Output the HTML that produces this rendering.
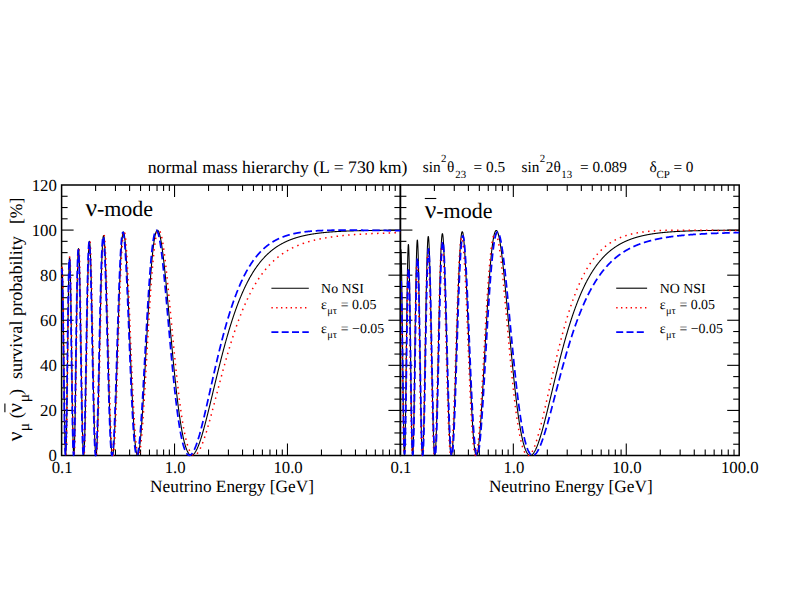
<!DOCTYPE html>
<html><head><meta charset="utf-8"><title>Survival probability</title>
<style>html,body{margin:0;padding:0;background:#fff}svg{display:block}text{font-family:"Liberation Serif",serif;fill:#000;text-rendering:geometricPrecision}</style></head>
<body><svg width="797" height="616" viewBox="0 0 797 616">
<rect width="797" height="616" fill="#fff"/>
<g stroke="#000" stroke-width="1.5"><rect x="61.6" y="185.0" width="338.79999999999995" height="270.5" fill="none"/><rect x="400.4" y="185.0" width="338.80000000000007" height="270.5" fill="none"/></g><g stroke="#000" stroke-width="1.1"><line x1="95.60" y1="455.50" x2="95.60" y2="449.50"/><line x1="95.60" y1="185.00" x2="95.60" y2="191.00"/><line x1="115.48" y1="455.50" x2="115.48" y2="449.50"/><line x1="115.48" y1="185.00" x2="115.48" y2="191.00"/><line x1="129.59" y1="455.50" x2="129.59" y2="449.50"/><line x1="129.59" y1="185.00" x2="129.59" y2="191.00"/><line x1="140.54" y1="455.50" x2="140.54" y2="449.50"/><line x1="140.54" y1="185.00" x2="140.54" y2="191.00"/><line x1="149.48" y1="455.50" x2="149.48" y2="449.50"/><line x1="149.48" y1="185.00" x2="149.48" y2="191.00"/><line x1="157.04" y1="455.50" x2="157.04" y2="449.50"/><line x1="157.04" y1="185.00" x2="157.04" y2="191.00"/><line x1="163.59" y1="455.50" x2="163.59" y2="449.50"/><line x1="163.59" y1="185.00" x2="163.59" y2="191.00"/><line x1="169.37" y1="455.50" x2="169.37" y2="449.50"/><line x1="169.37" y1="185.00" x2="169.37" y2="191.00"/><line x1="174.53" y1="455.50" x2="174.53" y2="443.50"/><line x1="174.53" y1="185.00" x2="174.53" y2="197.00"/><line x1="208.53" y1="455.50" x2="208.53" y2="449.50"/><line x1="208.53" y1="185.00" x2="208.53" y2="191.00"/><line x1="228.42" y1="455.50" x2="228.42" y2="449.50"/><line x1="228.42" y1="185.00" x2="228.42" y2="191.00"/><line x1="242.53" y1="455.50" x2="242.53" y2="449.50"/><line x1="242.53" y1="185.00" x2="242.53" y2="191.00"/><line x1="253.47" y1="455.50" x2="253.47" y2="449.50"/><line x1="253.47" y1="185.00" x2="253.47" y2="191.00"/><line x1="262.41" y1="455.50" x2="262.41" y2="449.50"/><line x1="262.41" y1="185.00" x2="262.41" y2="191.00"/><line x1="269.97" y1="455.50" x2="269.97" y2="449.50"/><line x1="269.97" y1="185.00" x2="269.97" y2="191.00"/><line x1="276.52" y1="455.50" x2="276.52" y2="449.50"/><line x1="276.52" y1="185.00" x2="276.52" y2="191.00"/><line x1="282.30" y1="455.50" x2="282.30" y2="449.50"/><line x1="282.30" y1="185.00" x2="282.30" y2="191.00"/><line x1="287.47" y1="455.50" x2="287.47" y2="443.50"/><line x1="287.47" y1="185.00" x2="287.47" y2="197.00"/><line x1="321.46" y1="455.50" x2="321.46" y2="449.50"/><line x1="321.46" y1="185.00" x2="321.46" y2="191.00"/><line x1="341.35" y1="455.50" x2="341.35" y2="449.50"/><line x1="341.35" y1="185.00" x2="341.35" y2="191.00"/><line x1="355.46" y1="455.50" x2="355.46" y2="449.50"/><line x1="355.46" y1="185.00" x2="355.46" y2="191.00"/><line x1="366.40" y1="455.50" x2="366.40" y2="449.50"/><line x1="366.40" y1="185.00" x2="366.40" y2="191.00"/><line x1="375.35" y1="455.50" x2="375.35" y2="449.50"/><line x1="375.35" y1="185.00" x2="375.35" y2="191.00"/><line x1="382.91" y1="455.50" x2="382.91" y2="449.50"/><line x1="382.91" y1="185.00" x2="382.91" y2="191.00"/><line x1="389.46" y1="455.50" x2="389.46" y2="449.50"/><line x1="389.46" y1="185.00" x2="389.46" y2="191.00"/><line x1="395.23" y1="455.50" x2="395.23" y2="449.50"/><line x1="395.23" y1="185.00" x2="395.23" y2="191.00"/><line x1="61.60" y1="444.23" x2="67.60" y2="444.23"/><line x1="400.40" y1="444.23" x2="394.40" y2="444.23"/><line x1="61.60" y1="432.96" x2="67.60" y2="432.96"/><line x1="400.40" y1="432.96" x2="394.40" y2="432.96"/><line x1="61.60" y1="421.69" x2="67.60" y2="421.69"/><line x1="400.40" y1="421.69" x2="394.40" y2="421.69"/><line x1="61.60" y1="410.42" x2="73.60" y2="410.42"/><line x1="400.40" y1="410.42" x2="388.40" y2="410.42"/><line x1="61.60" y1="399.15" x2="67.60" y2="399.15"/><line x1="400.40" y1="399.15" x2="394.40" y2="399.15"/><line x1="61.60" y1="387.88" x2="67.60" y2="387.88"/><line x1="400.40" y1="387.88" x2="394.40" y2="387.88"/><line x1="61.60" y1="376.60" x2="67.60" y2="376.60"/><line x1="400.40" y1="376.60" x2="394.40" y2="376.60"/><line x1="61.60" y1="365.33" x2="73.60" y2="365.33"/><line x1="400.40" y1="365.33" x2="388.40" y2="365.33"/><line x1="61.60" y1="354.06" x2="67.60" y2="354.06"/><line x1="400.40" y1="354.06" x2="394.40" y2="354.06"/><line x1="61.60" y1="342.79" x2="67.60" y2="342.79"/><line x1="400.40" y1="342.79" x2="394.40" y2="342.79"/><line x1="61.60" y1="331.52" x2="67.60" y2="331.52"/><line x1="400.40" y1="331.52" x2="394.40" y2="331.52"/><line x1="61.60" y1="320.25" x2="73.60" y2="320.25"/><line x1="400.40" y1="320.25" x2="388.40" y2="320.25"/><line x1="61.60" y1="308.98" x2="67.60" y2="308.98"/><line x1="400.40" y1="308.98" x2="394.40" y2="308.98"/><line x1="61.60" y1="297.71" x2="67.60" y2="297.71"/><line x1="400.40" y1="297.71" x2="394.40" y2="297.71"/><line x1="61.60" y1="286.44" x2="67.60" y2="286.44"/><line x1="400.40" y1="286.44" x2="394.40" y2="286.44"/><line x1="61.60" y1="275.17" x2="73.60" y2="275.17"/><line x1="400.40" y1="275.17" x2="388.40" y2="275.17"/><line x1="61.60" y1="263.90" x2="67.60" y2="263.90"/><line x1="400.40" y1="263.90" x2="394.40" y2="263.90"/><line x1="61.60" y1="252.62" x2="67.60" y2="252.62"/><line x1="400.40" y1="252.62" x2="394.40" y2="252.62"/><line x1="61.60" y1="241.35" x2="67.60" y2="241.35"/><line x1="400.40" y1="241.35" x2="394.40" y2="241.35"/><line x1="61.60" y1="230.08" x2="73.60" y2="230.08"/><line x1="400.40" y1="230.08" x2="388.40" y2="230.08"/><line x1="61.60" y1="218.81" x2="67.60" y2="218.81"/><line x1="400.40" y1="218.81" x2="394.40" y2="218.81"/><line x1="61.60" y1="207.54" x2="67.60" y2="207.54"/><line x1="400.40" y1="207.54" x2="394.40" y2="207.54"/><line x1="61.60" y1="196.27" x2="67.60" y2="196.27"/><line x1="400.40" y1="196.27" x2="394.40" y2="196.27"/><line x1="434.40" y1="455.50" x2="434.40" y2="449.50"/><line x1="434.40" y1="185.00" x2="434.40" y2="191.00"/><line x1="454.28" y1="455.50" x2="454.28" y2="449.50"/><line x1="454.28" y1="185.00" x2="454.28" y2="191.00"/><line x1="468.39" y1="455.50" x2="468.39" y2="449.50"/><line x1="468.39" y1="185.00" x2="468.39" y2="191.00"/><line x1="479.34" y1="455.50" x2="479.34" y2="449.50"/><line x1="479.34" y1="185.00" x2="479.34" y2="191.00"/><line x1="488.28" y1="455.50" x2="488.28" y2="449.50"/><line x1="488.28" y1="185.00" x2="488.28" y2="191.00"/><line x1="495.84" y1="455.50" x2="495.84" y2="449.50"/><line x1="495.84" y1="185.00" x2="495.84" y2="191.00"/><line x1="502.39" y1="455.50" x2="502.39" y2="449.50"/><line x1="502.39" y1="185.00" x2="502.39" y2="191.00"/><line x1="508.17" y1="455.50" x2="508.17" y2="449.50"/><line x1="508.17" y1="185.00" x2="508.17" y2="191.00"/><line x1="513.33" y1="455.50" x2="513.33" y2="443.50"/><line x1="513.33" y1="185.00" x2="513.33" y2="197.00"/><line x1="547.33" y1="455.50" x2="547.33" y2="449.50"/><line x1="547.33" y1="185.00" x2="547.33" y2="191.00"/><line x1="567.22" y1="455.50" x2="567.22" y2="449.50"/><line x1="567.22" y1="185.00" x2="567.22" y2="191.00"/><line x1="581.33" y1="455.50" x2="581.33" y2="449.50"/><line x1="581.33" y1="185.00" x2="581.33" y2="191.00"/><line x1="592.27" y1="455.50" x2="592.27" y2="449.50"/><line x1="592.27" y1="185.00" x2="592.27" y2="191.00"/><line x1="601.21" y1="455.50" x2="601.21" y2="449.50"/><line x1="601.21" y1="185.00" x2="601.21" y2="191.00"/><line x1="608.77" y1="455.50" x2="608.77" y2="449.50"/><line x1="608.77" y1="185.00" x2="608.77" y2="191.00"/><line x1="615.32" y1="455.50" x2="615.32" y2="449.50"/><line x1="615.32" y1="185.00" x2="615.32" y2="191.00"/><line x1="621.10" y1="455.50" x2="621.10" y2="449.50"/><line x1="621.10" y1="185.00" x2="621.10" y2="191.00"/><line x1="626.27" y1="455.50" x2="626.27" y2="443.50"/><line x1="626.27" y1="185.00" x2="626.27" y2="197.00"/><line x1="660.26" y1="455.50" x2="660.26" y2="449.50"/><line x1="660.26" y1="185.00" x2="660.26" y2="191.00"/><line x1="680.15" y1="455.50" x2="680.15" y2="449.50"/><line x1="680.15" y1="185.00" x2="680.15" y2="191.00"/><line x1="694.26" y1="455.50" x2="694.26" y2="449.50"/><line x1="694.26" y1="185.00" x2="694.26" y2="191.00"/><line x1="705.20" y1="455.50" x2="705.20" y2="449.50"/><line x1="705.20" y1="185.00" x2="705.20" y2="191.00"/><line x1="714.15" y1="455.50" x2="714.15" y2="449.50"/><line x1="714.15" y1="185.00" x2="714.15" y2="191.00"/><line x1="721.71" y1="455.50" x2="721.71" y2="449.50"/><line x1="721.71" y1="185.00" x2="721.71" y2="191.00"/><line x1="728.26" y1="455.50" x2="728.26" y2="449.50"/><line x1="728.26" y1="185.00" x2="728.26" y2="191.00"/><line x1="734.03" y1="455.50" x2="734.03" y2="449.50"/><line x1="734.03" y1="185.00" x2="734.03" y2="191.00"/><line x1="400.40" y1="444.23" x2="406.40" y2="444.23"/><line x1="739.20" y1="444.23" x2="733.20" y2="444.23"/><line x1="400.40" y1="432.96" x2="406.40" y2="432.96"/><line x1="739.20" y1="432.96" x2="733.20" y2="432.96"/><line x1="400.40" y1="421.69" x2="406.40" y2="421.69"/><line x1="739.20" y1="421.69" x2="733.20" y2="421.69"/><line x1="400.40" y1="410.42" x2="412.40" y2="410.42"/><line x1="739.20" y1="410.42" x2="727.20" y2="410.42"/><line x1="400.40" y1="399.15" x2="406.40" y2="399.15"/><line x1="739.20" y1="399.15" x2="733.20" y2="399.15"/><line x1="400.40" y1="387.88" x2="406.40" y2="387.88"/><line x1="739.20" y1="387.88" x2="733.20" y2="387.88"/><line x1="400.40" y1="376.60" x2="406.40" y2="376.60"/><line x1="739.20" y1="376.60" x2="733.20" y2="376.60"/><line x1="400.40" y1="365.33" x2="412.40" y2="365.33"/><line x1="739.20" y1="365.33" x2="727.20" y2="365.33"/><line x1="400.40" y1="354.06" x2="406.40" y2="354.06"/><line x1="739.20" y1="354.06" x2="733.20" y2="354.06"/><line x1="400.40" y1="342.79" x2="406.40" y2="342.79"/><line x1="739.20" y1="342.79" x2="733.20" y2="342.79"/><line x1="400.40" y1="331.52" x2="406.40" y2="331.52"/><line x1="739.20" y1="331.52" x2="733.20" y2="331.52"/><line x1="400.40" y1="320.25" x2="412.40" y2="320.25"/><line x1="739.20" y1="320.25" x2="727.20" y2="320.25"/><line x1="400.40" y1="308.98" x2="406.40" y2="308.98"/><line x1="739.20" y1="308.98" x2="733.20" y2="308.98"/><line x1="400.40" y1="297.71" x2="406.40" y2="297.71"/><line x1="739.20" y1="297.71" x2="733.20" y2="297.71"/><line x1="400.40" y1="286.44" x2="406.40" y2="286.44"/><line x1="739.20" y1="286.44" x2="733.20" y2="286.44"/><line x1="400.40" y1="275.17" x2="412.40" y2="275.17"/><line x1="739.20" y1="275.17" x2="727.20" y2="275.17"/><line x1="400.40" y1="263.90" x2="406.40" y2="263.90"/><line x1="739.20" y1="263.90" x2="733.20" y2="263.90"/><line x1="400.40" y1="252.62" x2="406.40" y2="252.62"/><line x1="739.20" y1="252.62" x2="733.20" y2="252.62"/><line x1="400.40" y1="241.35" x2="406.40" y2="241.35"/><line x1="739.20" y1="241.35" x2="733.20" y2="241.35"/><line x1="400.40" y1="230.08" x2="412.40" y2="230.08"/><line x1="739.20" y1="230.08" x2="727.20" y2="230.08"/><line x1="400.40" y1="218.81" x2="406.40" y2="218.81"/><line x1="739.20" y1="218.81" x2="733.20" y2="218.81"/><line x1="400.40" y1="207.54" x2="406.40" y2="207.54"/><line x1="739.20" y1="207.54" x2="733.20" y2="207.54"/><line x1="400.40" y1="196.27" x2="406.40" y2="196.27"/><line x1="739.20" y1="196.27" x2="733.20" y2="196.27"/></g>
<text x="56.8" y="461.20" font-size="16.8" text-anchor="end">0</text><text x="56.8" y="416.12" font-size="16.8" text-anchor="end">20</text><text x="56.8" y="371.03" font-size="16.8" text-anchor="end">40</text><text x="56.8" y="325.95" font-size="16.8" text-anchor="end">60</text><text x="56.8" y="280.87" font-size="16.8" text-anchor="end">80</text><text x="56.8" y="235.78" font-size="16.8" text-anchor="end">100</text><text x="56.8" y="190.70" font-size="16.8" text-anchor="end">120</text><text x="62.20" y="473.3" font-size="16.8" text-anchor="middle">0.1</text><text x="175.13" y="473.3" font-size="16.8" text-anchor="middle">1.0</text><text x="288.07" y="473.3" font-size="16.8" text-anchor="middle">10.0</text><text x="401.00" y="473.3" font-size="16.8" text-anchor="middle">0.1</text><text x="513.93" y="473.3" font-size="16.8" text-anchor="middle">1.0</text><text x="626.87" y="473.3" font-size="16.8" text-anchor="middle">10.0</text><text x="739.80" y="473.3" font-size="16.8" text-anchor="middle">100.0</text><text x="232.00" y="492" font-size="17.3" text-anchor="middle">Neutrino Energy [GeV]</text><text x="570.80" y="492" font-size="17.3" text-anchor="middle">Neutrino Energy [GeV]</text><text x="147.7" y="173.1" font-size="17.7">normal mass hierarchy (L = 730 km)</text><text x="422.8" y="171.8" font-size="15.3">sin</text><text x="441.0" y="162.20000000000002" font-size="10.9">2</text><text x="447.1" y="171.8" font-size="15.3">θ</text><text x="455.2" y="178.4" font-size="10.9">23</text><text x="473.6" y="171.8" font-size="15.3">= 0.5</text><text x="521.6" y="171.8" font-size="15.3">sin</text><text x="539.8" y="162.20000000000002" font-size="10.9">2</text><text x="545.8" y="171.8" font-size="15.3">2θ</text><text x="561.2" y="178.4" font-size="10.9">13</text><text x="580.0" y="171.8" font-size="15.3">= 0.089</text><text x="649.6" y="171.8" font-size="15.3">δ</text><text x="656.6" y="178.4" font-size="10.9">CP</text><text x="673.4" y="171.8" font-size="15.3">= 0</text><text x="85.4" y="216" font-size="25.5">ν</text><text x="96.9" y="216" font-size="22">-mode</text><text x="424.8" y="217.9" font-size="25.5">ν</text><text x="436.2" y="217.9" font-size="22">-mode</text><line x1="424.8" y1="198.5" x2="436.3" y2="198.5" stroke="#000" stroke-width="1.1"/><line x1="271.4" y1="288.2" x2="308.8" y2="288.2" stroke="#000" stroke-width="1.1"/><line x1="271.4" y1="307.8" x2="308.8" y2="307.8" stroke="#f00" stroke-width="1.4" stroke-dasharray="1.4 3.4"/><line x1="271.4" y1="332.1" x2="308.8" y2="332.1" stroke="#00f" stroke-width="1.75" stroke-dasharray="7 3.3"/><text x="321.1" y="292.9" font-size="13.9">No NSI</text><text x="321.1" y="308.9" font-size="13.9">ε</text><text x="327.3" y="313.5" font-size="10.4">μτ</text><text x="340.8" y="308.9" font-size="13.9">= 0.05</text><text x="321.1" y="333.0" font-size="13.9">ε</text><text x="327.3" y="337.6" font-size="10.4">μτ</text><text x="340.8" y="333.0" font-size="13.9">= −0.05</text><line x1="616.2" y1="288.2" x2="647.1" y2="288.2" stroke="#000" stroke-width="1.1"/><line x1="616.2" y1="307.8" x2="647.1" y2="307.8" stroke="#f00" stroke-width="1.4" stroke-dasharray="1.4 3.4"/><line x1="616.2" y1="332.1" x2="647.1" y2="332.1" stroke="#00f" stroke-width="1.75" stroke-dasharray="7 3.3"/><text x="659.7" y="292.9" font-size="13.9">NO NSI</text><text x="659.7" y="308.9" font-size="13.9">ε</text><text x="665.9000000000001" y="313.5" font-size="10.4">μτ</text><text x="679.4000000000001" y="308.9" font-size="13.9">= 0.05</text><text x="659.7" y="333.0" font-size="13.9">ε</text><text x="665.9000000000001" y="337.6" font-size="10.4">μτ</text><text x="679.4000000000001" y="333.0" font-size="13.9">= −0.05</text>
<g transform="translate(22.1,455.5) rotate(-90)"><text x="14.2" y="0" font-size="21.5">ν</text><text x="24.2" y="6.8" font-size="15.5">μ</text><text x="37.3" y="0" font-size="18.2">(</text><text x="42.8" y="0" font-size="21.5">ν</text><text x="53.2" y="6.8" font-size="15.5">μ</text><text x="60.4" y="0" font-size="18.2">)</text><line x1="43.3" y1="-17.2" x2="52" y2="-17.2" stroke="#000" stroke-width="1.1"/><text x="76.4" y="0" font-size="18.2">survival probability</text><text x="231.4" y="0" font-size="17.6">[%]</text></g>
<clipPath id="c1"><rect x="60.6" y="185.0" width="340.29999999999995" height="273.1"/></clipPath>
<clipPath id="c2"><rect x="401.0" y="185.0" width="340.30000000000007" height="273.1"/></clipPath>
<g clip-path="url(#c1)"><path d="M61.60,274.48 L61.74,270.80 L61.88,268.60 L62.02,267.89 L62.16,268.67 L62.31,270.93 L62.45,274.61 L62.59,279.65 L62.73,285.96 L62.87,293.43 L63.01,301.93 L63.15,311.34 L63.29,321.49 L63.44,332.23 L63.58,343.38 L63.72,354.78 L63.86,366.25 L64.00,377.63 L64.14,388.73 L64.28,399.40 L64.42,409.49 L64.57,418.84 L64.71,427.33 L64.85,434.84 L64.99,441.27 L65.13,446.52 L65.27,450.54 L65.41,453.27 L65.55,454.69 L65.70,454.77 L65.84,453.53 L65.98,450.99 L66.12,447.19 L66.26,442.19 L66.40,436.06 L66.54,428.90 L66.68,420.81 L66.83,411.88 L66.97,402.26 L67.11,392.06 L67.25,381.43 L67.39,370.50 L67.53,359.42 L67.67,348.32 L67.81,337.35 L67.96,326.64 L68.10,316.33 L68.24,306.54 L68.38,297.39 L68.52,288.98 L68.66,281.42 L68.80,274.79 L68.94,269.16 L69.08,264.60 L69.23,261.14 L69.37,258.83 L69.51,257.68 L69.65,257.70 L69.79,258.87 L69.93,261.17 L70.07,264.58 L70.21,269.04 L70.36,274.49 L70.50,280.86 L70.64,288.07 L70.78,296.04 L70.92,304.67 L71.06,313.85 L71.20,323.49 L71.34,333.46 L71.49,343.66 L71.63,353.98 L71.77,364.30 L71.91,374.50 L72.05,384.49 L72.19,394.14 L72.33,403.38 L72.47,412.08 L72.62,420.18 L72.76,427.59 L72.90,434.23 L73.04,440.05 L73.18,444.98 L73.32,448.99 L73.46,452.04 L73.60,454.10 L73.75,455.16 L73.89,455.22 L74.03,454.27 L74.17,452.35 L74.31,449.47 L74.45,445.67 L74.59,440.98 L74.73,435.47 L74.88,429.19 L75.02,422.19 L75.16,414.57 L75.30,406.38 L75.44,397.71 L75.58,388.64 L75.72,379.26 L75.86,369.66 L76.01,359.92 L76.15,350.14 L76.29,340.40 L76.43,330.79 L76.57,321.38 L76.71,312.28 L76.85,303.54 L76.99,295.25 L77.13,287.47 L77.28,280.26 L77.42,273.69 L77.56,267.80 L77.70,262.65 L77.84,258.26 L77.98,254.66 L78.12,251.89 L78.26,249.95 L78.41,248.86 L78.55,248.63 L78.69,249.23 L78.83,250.67 L78.97,252.92 L79.11,255.96 L79.25,259.76 L79.39,264.28 L79.54,269.48 L79.68,275.32 L79.82,281.74 L79.96,288.70 L80.10,296.12 L80.24,303.95 L80.38,312.13 L80.52,320.59 L80.67,329.27 L80.81,338.09 L80.95,347.00 L81.09,355.92 L81.23,364.78 L81.37,373.53 L81.51,382.10 L81.65,390.43 L81.80,398.46 L81.94,406.13 L82.08,413.39 L82.22,420.20 L82.36,426.50 L82.50,432.26 L82.64,437.45 L82.78,442.02 L82.93,445.96 L83.07,449.23 L83.21,451.83 L83.35,453.74 L83.49,454.95 L83.63,455.46 L83.77,455.27 L83.91,454.39 L84.05,452.82 L84.20,450.59 L84.34,447.71 L84.48,444.20 L84.62,440.10 L84.76,435.43 L84.90,430.23 L85.04,424.53 L85.18,418.38 L85.33,411.81 L85.47,404.86 L85.61,397.59 L85.75,390.05 L85.89,382.27 L86.03,374.30 L86.17,366.21 L86.31,358.03 L86.46,349.81 L86.60,341.61 L86.74,333.47 L86.88,325.44 L87.02,317.56 L87.16,309.89 L87.30,302.45 L87.44,295.29 L87.59,288.46 L87.73,281.97 L87.87,275.88 L88.01,270.21 L88.15,264.99 L88.29,260.24 L88.43,255.98 L88.57,252.24 L88.72,249.03 L88.86,246.36 L89.00,244.25 L89.14,242.70 L89.28,241.71 L89.42,241.28 L89.56,241.42 L89.70,242.11 L89.85,243.35 L89.99,245.13 L90.13,247.44 L90.27,250.25 L90.41,253.55 L90.55,257.31 L90.69,261.53 L90.83,266.16 L90.97,271.19 L91.12,276.59 L91.26,282.32 L91.40,288.36 L91.54,294.67 L91.68,301.23 L91.82,307.99 L91.96,314.93 L92.10,322.00 L92.25,329.18 L92.39,336.43 L92.53,343.72 L92.67,351.01 L92.81,358.26 L92.95,365.45 L93.09,372.55 L93.23,379.51 L93.38,386.32 L93.52,392.93 L93.66,399.33 L93.80,405.49 L93.94,411.37 L94.08,416.97 L94.22,422.25 L94.36,427.19 L94.51,431.78 L94.65,436.00 L94.79,439.84 L94.93,443.27 L95.07,446.30 L95.21,448.90 L95.35,451.08 L95.49,452.83 L95.64,454.14 L95.78,455.01 L95.92,455.44 L96.06,455.44 L96.20,455.00 L96.34,454.13 L96.48,452.84 L96.62,451.14 L96.77,449.04 L96.91,446.54 L97.05,443.66 L97.19,440.42 L97.33,436.83 L97.47,432.91 L97.61,428.66 L97.75,424.13 L97.89,419.31 L98.04,414.23 L98.18,408.92 L98.32,403.39 L98.46,397.67 L98.60,391.78 L98.74,385.74 L98.88,379.57 L99.02,373.29 L99.17,366.94 L99.31,360.53 L99.45,354.09 L99.59,347.63 L99.73,341.19 L99.87,334.77 L100.01,328.42 L100.15,322.13 L100.30,315.95 L100.44,309.88 L100.58,303.95 L100.72,298.17 L100.86,292.56 L101.00,287.15 L101.14,281.94 L101.28,276.95 L101.43,272.19 L101.57,267.68 L101.71,263.44 L101.85,259.46 L101.99,255.77 L102.13,252.37 L102.27,249.27 L102.41,246.47 L102.56,243.99 L102.70,241.83 L102.84,239.99 L102.98,238.47 L103.12,237.28 L103.26,236.42 L103.40,235.89 L103.54,235.68 L103.69,235.80 L103.83,236.23 L103.97,236.99 L104.11,238.05 L104.25,239.42 L104.39,241.09 L104.53,243.06 L104.67,245.31 L104.82,247.83 L104.96,250.62 L105.10,253.67 L105.24,256.96 L105.38,260.49 L105.52,264.24 L105.66,268.20 L105.80,272.36 L105.94,276.71 L106.09,281.22 L106.23,285.90 L106.37,290.71 L106.51,295.66 L106.65,300.73 L106.79,305.90 L106.93,311.15 L107.07,316.48 L107.22,321.87 L107.36,327.31 L107.50,332.77 L107.64,338.25 L107.78,343.74 L107.92,349.21 L108.06,354.66 L108.20,360.07 L108.35,365.43 L108.49,370.73 L108.63,375.95 L108.77,381.09 L108.91,386.12 L109.05,391.05 L109.19,395.85 L109.33,400.52 L109.48,405.05 L109.62,409.43 L109.76,413.65 L109.90,417.70 L110.04,421.58 L110.18,425.27 L110.32,428.77 L110.46,432.07 L110.61,435.17 L110.75,438.07 L110.89,440.75 L111.03,443.22 L111.17,445.46 L111.31,447.48 L111.45,449.28 L111.59,450.85 L111.74,452.19 L111.88,453.30 L112.02,454.18 L112.16,454.82 L112.30,455.24 L112.44,455.43 L112.58,455.39 L112.72,455.13 L112.86,454.64 L113.01,453.93 L113.15,453.01 L113.29,451.87 L113.43,450.52 L113.57,448.97 L113.71,447.21 L113.85,445.27 L113.99,443.13 L114.14,440.81 L114.28,438.31 L114.42,435.63 L114.56,432.80 L114.70,429.80 L114.84,426.65 L114.98,423.36 L115.12,419.93 L115.27,416.38 L115.41,412.69 L115.55,408.90 L115.69,405.00 L115.83,401.00 L115.97,396.91 L116.11,392.74 L116.25,388.49 L116.40,384.17 L116.54,379.80 L116.68,375.38 L116.82,370.92 L116.96,366.42 L117.10,361.90 L117.24,357.36 L117.38,352.81 L117.53,348.25 L117.67,343.70 L117.81,339.17 L117.95,334.65 L118.09,330.17 L118.23,325.71 L118.37,321.30 L118.51,316.94 L118.66,312.63 L118.80,308.39 L118.94,304.21 L119.08,300.10 L119.22,296.08 L119.36,292.14 L119.50,288.29 L119.64,284.54 L119.78,280.89 L119.93,277.34 L120.07,273.90 L120.21,270.58 L120.35,267.38 L120.49,264.30 L120.63,261.34 L120.77,258.51 L120.91,255.82 L121.06,253.26 L121.20,250.84 L121.34,248.55 L121.48,246.41 L121.62,244.42 L121.76,242.56 L121.90,240.86 L122.04,239.30 L122.19,237.89 L122.33,236.64 L122.47,235.53 L122.61,234.57 L122.75,233.76 L122.89,233.10 L123.03,232.60 L123.17,232.24 L123.32,232.03 L123.46,231.96 L123.60,232.04 L123.74,232.27 L123.88,232.64 L124.02,233.16 L124.16,233.81 L124.30,234.60 L124.45,235.52 L124.59,236.58 L124.73,237.77 L124.87,239.09 L125.01,240.53 L125.15,242.09 L125.29,243.78 L125.43,245.58 L125.58,247.49 L125.72,249.52 L125.86,251.65 L126.00,253.88 L126.14,256.21 L126.28,258.64 L126.42,261.16 L126.56,263.77 L126.70,266.47 L126.85,269.24 L126.99,272.09 L127.13,275.02 L127.27,278.01 L127.41,281.07 L127.55,284.19 L127.69,287.36 L127.83,290.59 L127.98,293.87 L128.12,297.19 L128.26,300.56 L128.40,303.96 L128.54,307.39 L128.68,310.85 L128.82,314.34 L128.96,317.85 L129.11,321.37 L129.25,324.91 L129.39,328.46 L129.53,332.01 L129.67,335.56 L129.81,339.11 L129.95,342.66 L130.09,346.20 L130.24,349.72 L130.38,353.23 L130.52,356.72 L130.66,360.19 L130.80,363.63 L130.94,367.04 L131.08,370.42 L131.22,373.77 L131.37,377.07 L131.51,380.34 L131.65,383.56 L131.79,386.73 L131.93,389.86 L132.07,392.93 L132.21,395.95 L132.35,398.91 L132.50,401.81 L132.64,404.66 L132.78,407.44 L132.92,410.15 L133.06,412.80 L133.20,415.38 L133.34,417.89 L133.48,420.32 L133.63,422.68 L133.77,424.97 L133.91,427.18 L134.05,429.32 L134.19,431.37 L134.33,433.34 L134.47,435.24 L134.61,437.05 L134.75,438.78 L134.90,440.42 L135.04,441.98 L135.18,443.46 L135.32,444.85 L135.46,446.15 L135.60,447.37 L135.74,448.50 L135.88,449.55 L136.03,450.51 L136.17,451.38 L136.31,452.16 L136.45,452.86 L136.59,453.48 L136.73,454.00 L136.87,454.44 L137.01,454.80 L137.16,455.07 L137.30,455.26 L137.44,455.36 L137.58,455.38 L137.72,455.32 L137.86,455.17 L138.00,454.95 L138.14,454.64 L138.29,454.25 L138.43,453.79 L138.57,453.25 L138.71,452.63 L138.85,451.94 L138.99,451.18 L139.13,450.34 L139.27,449.43 L139.42,448.45 L139.56,447.40 L139.70,446.28 L139.84,445.10 L139.98,443.85 L140.12,442.54 L140.26,441.16 L140.40,439.73 L140.55,438.24 L140.69,436.68 L140.83,435.08 L140.97,433.41 L141.11,431.70 L141.25,429.93 L141.39,428.11 L141.53,426.25 L141.67,424.33 L141.82,422.38 L141.96,420.38 L142.10,418.33 L142.24,416.25 L142.38,414.13 L142.52,411.97 L142.66,409.78 L142.80,407.55 L142.95,405.29 L143.09,403.00 L143.23,400.68 L143.37,398.34 L143.51,395.97 L143.65,393.57 L143.79,391.15 L143.93,388.72 L144.08,386.26 L144.22,383.78 L144.36,381.29 L144.50,378.79 L144.64,376.27 L144.78,373.74 L144.92,371.21 L145.06,368.66 L145.21,366.11 L145.35,363.55 L145.49,360.99 L145.63,358.42 L145.77,355.86 L145.91,353.29 L146.05,350.73 L146.19,348.17 L146.34,345.62 L146.48,343.07 L146.62,340.53 L146.76,337.99 L146.90,335.47 L147.04,332.96 L147.18,330.46 L147.32,327.97 L147.47,325.49 L147.61,323.04 L147.75,320.60 L147.89,318.17 L148.03,315.77 L148.17,313.39 L148.31,311.02 L148.45,308.68 L148.59,306.36 L148.74,304.07 L148.88,301.80 L149.02,299.55 L149.16,297.33 L149.30,295.14 L149.44,292.98 L149.58,290.84 L149.72,288.74 L149.87,286.66 L150.01,284.62 L150.15,282.60 L150.29,280.62 L150.43,278.68 L150.57,276.76 L150.71,274.88 L150.85,273.04 L151.00,271.23 L151.14,269.45 L151.28,267.71 L151.42,266.01 L151.56,264.35 L151.70,262.72 L151.84,261.13 L151.98,259.58 L152.13,258.06 L152.27,256.59 L152.41,255.15 L152.55,253.76 L152.69,252.40 L152.83,251.08 L152.97,249.80 L153.11,248.57 L153.26,247.37 L153.40,246.21 L153.54,245.10 L153.68,244.02 L153.82,242.99 L153.96,241.99 L154.10,241.04 L154.24,240.13 L154.39,239.26 L154.53,238.42 L154.67,237.63 L154.81,236.89 L154.95,236.18 L155.09,235.51 L155.23,234.88 L155.37,234.29 L155.51,233.75 L155.66,233.24 L155.80,232.77 L155.94,232.35 L156.08,231.96 L156.22,231.61 L156.36,231.30 L156.50,231.03 L156.64,230.80 L156.79,230.61 L156.93,230.45 L157.07,230.34 L157.21,230.26 L157.35,230.22 L157.49,230.21 L157.63,230.25 L157.77,230.31 L157.92,230.42 L158.06,230.56 L158.20,230.73 L158.34,230.94 L158.48,231.19 L158.62,231.47 L158.76,231.78 L158.90,232.13 L159.05,232.51 L159.19,232.92 L159.33,233.37 L159.47,233.84 L159.61,234.35 L159.75,234.89 L159.89,235.46 L160.03,236.06 L160.18,236.69 L160.32,237.35 L160.46,238.04 L160.60,238.75 L160.74,239.50 L160.88,240.27 L161.02,241.06 L161.16,241.89 L161.31,242.74 L161.45,243.61 L161.59,244.51 L161.73,245.44 L161.87,246.39 L162.01,247.36 L162.15,248.36 L162.29,249.38 L162.44,250.42 L162.58,251.48 L162.72,252.56 L162.86,253.67 L163.00,254.79 L163.14,255.93 L163.28,257.10 L163.42,258.28 L163.56,259.48 L163.71,260.70 L163.85,261.93 L163.99,263.18 L164.13,264.45 L164.27,265.74 L164.41,267.04 L164.55,268.35 L164.69,269.68 L164.84,271.02 L164.98,272.38 L165.12,273.75 L165.26,275.13 L165.40,276.52 L165.54,277.93 L165.68,279.34 L165.82,280.77 L165.97,282.21 L166.11,283.66 L166.25,285.11 L166.39,286.58 L166.53,288.06 L166.67,289.54 L166.81,291.03 L166.95,292.53 L167.10,294.03 L167.24,295.54 L167.38,297.06 L167.52,298.58 L167.66,300.11 L167.80,301.64 L167.94,303.18 L168.08,304.72 L168.23,306.26 L168.37,307.81 L168.51,309.36 L168.65,310.91 L168.79,312.47 L168.93,314.03 L169.07,315.59 L169.21,317.14 L169.36,318.70 L169.50,320.27 L169.64,321.83 L169.78,323.39 L169.92,324.95 L170.06,326.50 L170.20,328.06 L170.34,329.62 L170.48,331.17 L170.63,332.72 L170.77,334.27 L170.91,335.82 L171.05,337.36 L171.19,338.90 L171.33,340.44 L171.47,341.97 L171.61,343.50 L171.76,345.02 L171.90,346.54 L172.04,348.05 L172.18,349.56 L172.32,351.06 L172.46,352.56 L172.60,354.05 L172.74,355.53 L172.89,357.01 L173.03,358.48 L173.17,359.94 L173.31,361.40 L173.45,362.85 L173.59,364.29 L173.73,365.73 L173.87,367.15 L174.02,368.57 L174.16,369.98 L174.30,371.38 L174.44,372.77 L174.58,374.16 L174.72,375.53 L174.86,376.90 L175.00,378.25 L175.15,379.60 L175.29,380.94 L175.43,382.26 L175.57,383.58 L175.71,384.89 L175.85,386.18 L175.99,387.47 L176.13,388.74 L176.28,390.01 L176.42,391.26 L176.56,392.50 L176.70,393.73 L176.84,394.96 L176.98,396.16 L177.12,397.36 L177.26,398.55 L177.40,399.72 L177.55,400.89 L177.69,402.04 L177.83,403.18 L177.97,404.31 L178.11,405.42 L178.25,406.53 L178.39,407.62 L178.53,408.70 L178.68,409.77 L178.82,410.82 L178.96,411.86 L179.10,412.89 L179.24,413.91 L179.38,414.92 L179.52,415.91 L179.66,416.89 L179.81,417.86 L179.95,418.81 L180.09,419.76 L180.23,420.69 L180.37,421.60 L180.51,422.51 L180.65,423.40 L180.79,424.28 L180.94,425.14 L181.08,426.00 L181.22,426.84 L181.36,427.66 L181.50,428.48 L181.64,429.28 L181.78,430.07 L181.92,430.85 L182.07,431.61 L182.21,432.36 L182.35,433.10 L182.49,433.82 L182.63,434.53 L182.77,435.23 L182.91,435.92 L183.05,436.59 L183.20,437.25 L183.34,437.90 L183.48,438.54 L183.62,439.16 L183.76,439.77 L183.90,440.37 L184.04,440.95 L184.18,441.52 L184.32,442.08 L184.47,442.63 L184.61,443.17 L184.75,443.69 L184.89,444.20 L185.03,444.70 L185.17,445.18 L185.31,445.66 L185.45,446.12 L185.60,446.57 L185.74,447.01 L185.88,447.43 L186.02,447.84 L186.16,448.25 L186.30,448.64 L186.44,449.01 L186.58,449.38 L186.73,449.73 L186.87,450.08 L187.01,450.41 L187.15,450.73 L187.29,451.04 L187.43,451.33 L187.57,451.62 L187.71,451.89 L187.86,452.16 L188.00,452.41 L188.14,452.65 L188.28,452.88 L188.42,453.10 L188.56,453.31 L188.70,453.50 L188.84,453.69 L188.99,453.87 L189.13,454.03 L189.27,454.19 L189.41,454.33 L189.55,454.47 L189.69,454.59 L189.83,454.71 L189.97,454.81 L190.12,454.90 L190.26,454.99 L190.40,455.06 L190.54,455.13 L190.68,455.18 L190.82,455.23 L190.96,455.26 L191.10,455.29 L191.25,455.31 L191.39,455.31 L191.53,455.31 L191.67,455.30 L191.81,455.28 L191.95,455.25 L192.09,455.21 L192.23,455.16 L192.37,455.11 L192.52,455.04 L192.66,454.97 L192.80,454.89 L192.94,454.80 L193.08,454.70 L193.22,454.60 L193.36,454.48 L193.50,454.36 L193.65,454.23 L193.79,454.09 L193.93,453.94 L194.07,453.79 L194.21,453.62 L194.35,453.46 L194.49,453.28 L194.63,453.09 L194.78,452.90 L194.92,452.70 L195.06,452.49 L195.20,452.28 L195.34,452.06 L195.48,451.83 L195.62,451.60 L195.76,451.35 L195.91,451.11 L196.05,450.85 L196.19,450.59 L196.33,450.32 L196.47,450.05 L196.61,449.77 L196.75,449.48 L196.89,449.19 L197.04,448.89 L197.18,448.58 L197.32,448.27 L197.46,447.95 L197.60,447.63 L197.74,447.30 L197.88,446.96 L198.02,446.62 L198.17,446.28 L198.31,445.93 L198.45,445.57 L198.59,445.21 L198.73,444.84 L198.87,444.47 L199.01,444.09 L199.15,443.71 L199.29,443.32 L199.44,442.93 L199.58,442.53 L199.72,442.13 L199.86,441.73 L200.00,441.31 L200.14,440.90 L200.28,440.48 L200.42,440.06 L200.57,439.63 L200.71,439.19 L200.85,438.76 L200.99,438.32 L201.13,437.87 L201.27,437.42 L201.41,436.97 L201.55,436.51 L201.70,436.05 L201.84,435.59 L201.98,435.12 L202.12,434.65 L202.26,434.18 L202.40,433.70 L202.54,433.22 L202.68,432.73 L202.83,432.24 L202.97,431.75 L203.11,431.26 L203.25,430.76 L203.39,430.26 L203.53,429.76 L203.67,429.25 L203.81,428.74 L203.96,428.23 L204.10,427.71 L204.24,427.20 L204.38,426.68 L204.52,426.15 L204.66,425.63 L204.80,425.10 L204.94,424.57 L205.09,424.04 L205.23,423.51 L205.37,422.97 L205.51,422.43 L205.65,421.89 L205.79,421.35 L205.93,420.80 L206.07,420.25 L206.21,419.70 L206.36,419.15 L206.50,418.60 L206.64,418.05 L206.78,417.49 L206.92,416.93 L207.06,416.37 L207.20,415.81 L207.34,415.25 L207.49,414.69 L207.63,414.12 L207.77,413.55 L207.91,412.99 L208.05,412.42 L208.19,411.85 L208.33,411.27 L208.47,410.70 L208.62,410.13 L208.76,409.55 L208.90,408.97 L209.04,408.40 L209.18,407.82 L209.32,407.24 L209.46,406.66 L209.60,406.08 L209.75,405.50 L209.89,404.91 L210.03,404.33 L210.17,403.75 L210.31,403.16 L210.45,402.58 L210.59,401.99 L210.73,401.41 L210.88,400.82 L211.02,400.23 L211.16,399.64 L211.30,399.06 L211.44,398.47 L211.58,397.88 L211.72,397.29 L211.86,396.70 L212.01,396.11 L212.15,395.52 L212.29,394.93 L212.43,394.34 L212.57,393.75 L212.71,393.16 L212.85,392.57 L212.99,391.98 L213.13,391.39 L213.28,390.80 L213.42,390.21 L213.56,389.62 L213.70,389.03 L213.84,388.44 L213.98,387.85 L214.12,387.26 L214.26,386.67 L214.41,386.09 L214.55,385.50 L214.69,384.91 L214.83,384.32 L214.97,383.74 L215.11,383.15 L215.25,382.56 L215.39,381.98 L215.54,381.39 L215.68,380.81 L215.82,380.22 L215.96,379.64 L216.10,379.05 L216.24,378.47 L216.38,377.89 L216.52,377.31 L216.67,376.73 L216.81,376.15 L216.95,375.57 L217.09,374.99 L217.23,374.41 L217.37,373.83 L217.51,373.26 L217.65,372.68 L217.80,372.11 L217.94,371.53 L218.08,370.96 L218.22,370.39 L218.36,369.81 L218.50,369.24 L218.64,368.67 L218.78,368.11 L218.93,367.54 L219.07,366.97 L219.21,366.41 L219.35,365.84 L219.49,365.28 L219.63,364.71 L219.77,364.15 L219.91,363.59 L220.06,363.03 L220.20,362.47 L220.34,361.92 L220.48,361.36 L220.62,360.81 L220.76,360.25 L220.90,359.70 L221.04,359.15 L221.18,358.60 L221.33,358.05 L221.47,357.50 L221.61,356.95 L221.75,356.41 L221.89,355.86 L222.03,355.32 L222.17,354.78 L222.31,354.24 L222.46,353.70 L222.60,353.16 L222.74,352.62 L222.88,352.09 L223.02,351.56 L223.16,351.02 L223.30,350.49 L223.44,349.96 L223.59,349.43 L223.73,348.91 L223.87,348.38 L224.01,347.86 L224.15,347.33 L224.29,346.81 L224.43,346.29 L224.57,345.77 L224.72,345.25 L224.86,344.74 L225.00,344.22 L225.14,343.71 L225.28,343.20 L225.42,342.69 L225.56,342.18 L225.70,341.67 L225.85,341.17 L225.99,340.66 L226.13,340.16 L226.27,339.66 L226.41,339.16 L226.55,338.66 L226.69,338.16 L226.83,337.67 L226.98,337.18 L227.12,336.68 L227.26,336.19 L227.40,335.70 L227.54,335.22 L227.68,334.73 L227.82,334.25 L227.96,333.76 L228.10,333.28 L228.25,332.80 L228.39,332.32 L228.53,331.85 L228.67,331.37 L228.81,330.90 L228.95,330.43 L229.09,329.96 L229.23,329.49 L229.38,329.02 L229.52,328.55 L229.66,328.09 L229.80,327.63 L229.94,327.17 L230.08,326.71 L230.22,326.25 L230.36,325.79 L230.51,325.34 L230.65,324.89 L230.79,324.43 L230.93,323.99 L231.07,323.54 L231.21,323.09 L231.35,322.65 L231.49,322.20 L231.64,321.76 L231.78,321.32 L231.92,320.88 L232.06,320.44 L232.20,320.01 L232.34,319.58 L232.48,319.14 L232.62,318.71 L232.77,318.28 L232.91,317.86 L233.05,317.43 L233.19,317.01 L233.33,316.58 L233.47,316.16 L233.61,315.74 L233.75,315.33 L233.90,314.91 L234.04,314.50 L234.18,314.08 L234.32,313.67 L234.46,313.26 L234.60,312.85 L234.74,312.45 L234.88,312.04 L235.02,311.64 L235.17,311.24 L235.31,310.84 L235.45,310.44 L235.59,310.04 L235.73,309.65 L235.87,309.25 L236.01,308.86 L236.15,308.47 L236.30,308.08 L236.44,307.69 L236.58,307.31 L236.72,306.92 L236.86,306.54 L237.00,306.16 L237.14,305.78 L237.28,305.40 L237.43,305.02 L237.57,304.65 L237.71,304.28 L237.85,303.90 L237.99,303.53 L238.13,303.16 L238.27,302.80 L238.41,302.43 L238.56,302.07 L238.70,301.70 L238.84,301.34 L238.98,300.98 L239.12,300.63 L239.26,300.27 L239.40,299.91 L239.54,299.56 L239.69,299.21 L239.83,298.86 L239.97,298.51 L240.11,298.16 L240.25,297.82 L240.39,297.47 L240.53,297.13 L240.67,296.79 L240.82,296.45 L240.96,296.11 L241.10,295.77 L241.24,295.43 L241.38,295.10 L241.52,294.77 L241.66,294.44 L241.80,294.11 L241.94,293.78 L242.09,293.45 L242.23,293.13 L242.37,292.80 L242.51,292.48 L242.65,292.16 L242.79,291.84 L242.93,291.52 L243.07,291.20 L243.22,290.89 L243.36,290.57 L243.50,290.26 L243.64,289.95 L243.78,289.64 L243.92,289.33 L244.06,289.03 L244.20,288.72 L244.35,288.42 L244.49,288.11 L244.63,287.81 L244.77,287.51 L244.91,287.21 L245.05,286.92 L245.19,286.62 L245.33,286.33 L245.48,286.03 L245.62,285.74 L245.76,285.45 L245.90,285.16 L246.04,284.87 L246.18,284.59 L246.32,284.30 L246.46,284.02 L246.61,283.74 L246.75,283.46 L246.89,283.18 L247.03,282.90 L247.17,282.62 L247.31,282.34 L247.45,282.07 L247.59,281.80 L247.74,281.52 L247.88,281.25 L248.02,280.98 L248.16,280.72 L248.30,280.45 L248.44,280.18 L248.58,279.92 L248.72,279.66 L248.87,279.39 L249.01,279.13 L249.15,278.87 L249.29,278.62 L249.43,278.36 L249.57,278.10 L249.71,277.85 L249.85,277.60 L249.99,277.34 L250.14,277.09 L250.28,276.84 L250.42,276.60 L250.56,276.35 L250.70,276.10 L250.84,275.86 L250.98,275.61 L251.12,275.37 L251.27,275.13 L251.41,274.89 L251.55,274.65 L251.69,274.41 L251.83,274.18 L251.97,273.94 L252.11,273.71 L252.25,273.48 L252.40,273.24 L252.54,273.01 L252.68,272.78 L252.82,272.56 L252.96,272.33 L253.10,272.10 L253.24,271.88 L253.38,271.65 L253.53,271.43 L253.67,271.21 L253.81,270.99 L253.95,270.77 L254.09,270.55 L254.23,270.33 L254.37,270.11 L254.51,269.90 L254.66,269.69 L254.80,269.47 L254.94,269.26 L255.08,269.05 L255.22,268.84 L255.36,268.63 L255.50,268.42 L255.64,268.22 L255.79,268.01 L255.93,267.81 L256.07,267.60 L256.21,267.40 L256.35,267.20 L256.49,267.00 L256.63,266.80 L256.77,266.60 L256.91,266.40 L257.06,266.20 L257.20,266.01 L257.34,265.81 L257.48,265.62 L257.62,265.43 L257.76,265.24 L257.90,265.05 L258.04,264.86 L258.19,264.67 L258.33,264.48 L258.47,264.29 L258.61,264.11 L258.75,263.92 L258.89,263.74 L259.03,263.55 L259.17,263.37 L259.32,263.19 L259.46,263.01 L259.60,262.83 L259.74,262.65 L259.88,262.48 L260.02,262.30 L260.16,262.12 L260.30,261.95 L260.45,261.77 L260.59,261.60 L260.73,261.43 L260.87,261.26 L261.01,261.09 L261.15,260.92 L261.29,260.75 L261.43,260.58 L261.58,260.42 L261.72,260.25 L261.86,260.08 L262.00,259.92 L262.14,259.76 L262.28,259.59 L262.42,259.43 L262.56,259.27 L262.71,259.11 L262.85,258.95 L262.99,258.79 L263.13,258.64 L263.27,258.48 L263.41,258.32 L263.55,258.17 L263.69,258.01 L263.83,257.86 L263.98,257.71 L264.12,257.56 L264.26,257.41 L264.40,257.25 L264.54,257.11 L264.68,256.96 L264.82,256.81 L264.96,256.66 L265.11,256.52 L265.25,256.37 L265.39,256.22 L265.53,256.08 L265.67,255.94 L265.81,255.80 L265.95,255.65 L266.09,255.51 L266.24,255.37 L266.38,255.23 L266.52,255.09 L266.66,254.96 L266.80,254.82 L266.94,254.68 L267.08,254.55 L267.22,254.41 L267.37,254.28 L267.51,254.14 L267.65,254.01 L267.79,253.88 L267.93,253.75 L268.07,253.61 L268.21,253.48 L268.35,253.35 L268.50,253.23 L268.64,253.10 L268.78,252.97 L268.92,252.84 L269.06,252.72 L269.20,252.59 L269.34,252.47 L269.48,252.34 L269.63,252.22 L269.77,252.10 L269.91,251.97 L270.05,251.85 L270.19,251.73 L270.33,251.61 L270.47,251.49 L270.61,251.37 L270.75,251.25 L270.90,251.14 L271.04,251.02 L271.18,250.90 L271.32,250.79 L271.46,250.67 L271.60,250.56 L271.74,250.44 L271.88,250.33 L272.03,250.22 L272.17,250.11 L272.31,249.99 L272.45,249.88 L272.59,249.77 L272.73,249.66 L272.87,249.56 L273.01,249.45 L273.16,249.34 L273.30,249.23 L273.44,249.12 L273.58,249.02 L273.72,248.91 L273.86,248.81 L274.00,248.70 L274.14,248.60 L274.29,248.50 L274.43,248.39 L274.57,248.29 L274.71,248.19 L274.85,248.09 L274.99,247.99 L275.13,247.89 L275.27,247.79 L275.42,247.69 L275.56,247.59 L275.70,247.49 L275.84,247.40 L275.98,247.30 L276.12,247.20 L276.26,247.11 L276.40,247.01 L276.55,246.92 L276.69,246.82 L276.83,246.73 L276.97,246.64 L277.11,246.54 L277.25,246.45 L277.39,246.36 L277.53,246.27 L277.68,246.18 L277.82,246.09 L277.96,246.00 L278.10,245.91 L278.24,245.82 L278.38,245.73 L278.52,245.64 L278.66,245.56 L278.80,245.47 L278.95,245.38 L279.09,245.30 L279.23,245.21 L279.37,245.13 L279.51,245.04 L279.65,244.96 L279.79,244.88 L279.93,244.79 L280.08,244.71 L280.22,244.63 L280.36,244.55 L280.50,244.46 L280.64,244.38 L280.78,244.30 L280.92,244.22 L281.06,244.14 L281.21,244.07 L281.35,243.99 L281.49,243.91 L281.63,243.83 L281.77,243.75 L281.91,243.68 L282.05,243.60 L282.19,243.52 L282.34,243.45 L282.48,243.37 L282.62,243.30 L282.76,243.22 L282.90,243.15 L283.04,243.08 L283.18,243.00 L283.32,242.93 L283.47,242.86 L283.61,242.79 L283.75,242.71 L283.89,242.64 L284.03,242.57 L284.17,242.50 L284.31,242.43 L284.45,242.36 L284.60,242.29 L284.74,242.22 L284.88,242.16 L285.02,242.09 L285.16,242.02 L285.30,241.95 L285.44,241.89 L285.58,241.82 L285.72,241.75 L285.87,241.69 L286.01,241.62 L286.15,241.56 L286.29,241.49 L286.43,241.43 L286.57,241.36 L286.71,241.30 L286.85,241.24 L287.00,241.17 L287.14,241.11 L287.28,241.05 L287.42,240.99 L287.56,240.93 L287.70,240.86 L287.84,240.80 L287.98,240.74 L288.13,240.68 L288.27,240.62 L288.41,240.56 L288.55,240.50 L288.69,240.45 L288.83,240.39 L288.97,240.33 L289.11,240.27 L289.26,240.21 L289.40,240.16 L289.54,240.10 L289.68,240.04 L289.82,239.99 L289.96,239.93 L290.10,239.87 L290.24,239.82 L290.39,239.76 L290.53,239.71 L290.67,239.65 L290.81,239.60 L290.95,239.55 L291.09,239.49 L291.23,239.44 L291.37,239.39 L291.52,239.33 L291.66,239.28 L291.80,239.23 L291.94,239.18 L292.08,239.13 L292.22,239.07 L292.36,239.02 L292.50,238.97 L292.64,238.92 L292.79,238.87 L292.93,238.82 L293.07,238.77 L293.21,238.72 L293.35,238.67 L293.49,238.63 L293.63,238.58 L293.77,238.53 L293.92,238.48 L294.06,238.43 L294.20,238.39 L294.34,238.34 L294.48,238.29 L294.62,238.25 L294.76,238.20 L294.90,238.15 L295.05,238.11 L295.19,238.06 L295.33,238.02 L295.47,237.97 L295.61,237.93 L295.75,237.88 L295.89,237.84 L296.03,237.79 L296.18,237.75 L296.32,237.71 L296.46,237.66 L296.60,237.62 L296.74,237.58 L296.88,237.54 L297.02,237.49 L297.16,237.45 L297.31,237.41 L297.45,237.37 L297.59,237.33 L297.73,237.29 L297.87,237.24 L298.01,237.20 L298.15,237.16 L298.29,237.12 L298.44,237.08 L298.58,237.04 L298.72,237.00 L298.86,236.96 L299.00,236.93 L299.14,236.89 L299.28,236.85 L299.42,236.81 L299.56,236.77 L299.71,236.73 L299.85,236.70 L299.99,236.66 L300.13,236.62 L300.27,236.58 L300.41,236.55 L300.55,236.51 L300.69,236.47 L300.84,236.44 L300.98,236.40 L301.12,236.36 L301.26,236.33 L301.40,236.29 L301.54,236.26 L301.68,236.22 L301.82,236.19 L301.97,236.15 L302.11,236.12 L302.25,236.08 L302.39,236.05 L302.53,236.02 L302.67,235.98 L302.81,235.95 L302.95,235.92 L303.10,235.88 L303.24,235.85 L303.38,235.82 L303.52,235.78 L303.66,235.75 L303.80,235.72 L303.94,235.69 L304.08,235.65 L304.23,235.62 L304.37,235.59 L304.51,235.56 L304.65,235.53 L304.79,235.50 L304.93,235.47 L305.07,235.44 L305.21,235.41 L305.36,235.38 L305.50,235.35 L305.64,235.32 L305.78,235.29 L305.92,235.26 L306.06,235.23 L306.20,235.20 L306.34,235.17 L306.49,235.14 L306.63,235.11 L306.77,235.08 L306.91,235.05 L307.05,235.02 L307.19,235.00 L307.33,234.97 L307.47,234.94 L307.61,234.91 L307.76,234.89 L307.90,234.86 L308.04,234.83 L308.18,234.80 L308.32,234.78 L308.46,234.75 L308.60,234.72 L308.74,234.70 L308.89,234.67 L309.03,234.64 L309.17,234.62 L309.31,234.59 L309.45,234.57 L309.59,234.54 L309.73,234.52 L309.87,234.49 L310.02,234.47 L310.16,234.44 L310.30,234.42 L310.44,234.39 L310.58,234.37 L310.72,234.34 L310.86,234.32 L311.00,234.29 L311.15,234.27 L311.29,234.25 L311.43,234.22 L311.57,234.20 L311.71,234.17 L311.85,234.15 L311.99,234.13 L312.13,234.11 L312.28,234.08 L312.42,234.06 L312.56,234.04 L312.70,234.01 L312.84,233.99 L312.98,233.97 L313.12,233.95 L313.26,233.93 L313.41,233.90 L313.55,233.88 L313.69,233.86 L313.83,233.84 L313.97,233.82 L314.11,233.80 L314.25,233.77 L314.39,233.75 L314.53,233.73 L314.68,233.71 L314.82,233.69 L314.96,233.67 L315.10,233.65 L315.24,233.63 L315.38,233.61 L315.52,233.59 L315.66,233.57 L315.81,233.55 L315.95,233.53 L316.09,233.51 L316.23,233.49 L316.37,233.47 L316.51,233.45 L316.65,233.43 L316.79,233.41 L316.94,233.39 L317.08,233.37 L317.22,233.36 L317.36,233.34 L317.50,233.32 L317.64,233.30 L317.78,233.28 L317.92,233.26 L318.07,233.25 L318.21,233.23 L318.35,233.21 L318.49,233.19 L318.63,233.17 L318.77,233.16 L318.91,233.14 L319.05,233.12 L319.20,233.10 L319.34,233.09 L319.48,233.07 L319.62,233.05 L319.76,233.03 L319.90,233.02 L320.04,233.00 L320.18,232.98 L320.33,232.97 L320.47,232.95 L320.61,232.94 L320.75,232.92 L320.89,232.90 L321.03,232.89 L321.17,232.87 L321.31,232.85 L321.45,232.84 L321.60,232.82 L321.74,232.81 L321.88,232.79 L322.02,232.78 L322.16,232.76 L322.30,232.75 L322.44,232.73 L322.58,232.72 L322.73,232.70 L322.87,232.69 L323.01,232.67 L323.15,232.66 L323.29,232.64 L323.43,232.63 L323.57,232.61 L323.71,232.60 L323.86,232.58 L324.00,232.57 L324.14,232.55 L324.28,232.54 L324.42,232.53 L324.56,232.51 L324.70,232.50 L324.84,232.48 L324.99,232.47 L325.13,232.46 L325.27,232.44 L325.41,232.43 L325.55,232.42 L325.69,232.40 L325.83,232.39 L325.97,232.38 L326.12,232.36 L326.26,232.35 L326.40,232.34 L326.54,232.32 L326.68,232.31 L326.82,232.30 L326.96,232.29 L327.10,232.27 L327.25,232.26 L327.39,232.25 L327.53,232.24 L327.67,232.22 L327.81,232.21 L327.95,232.20 L328.09,232.19 L328.23,232.18 L328.37,232.16 L328.52,232.15 L328.66,232.14 L328.80,232.13 L328.94,232.12 L329.08,232.10 L329.22,232.09 L329.36,232.08 L329.50,232.07 L329.65,232.06 L329.79,232.05 L329.93,232.04 L330.07,232.02 L330.21,232.01 L330.35,232.00 L330.49,231.99 L330.63,231.98 L330.78,231.97 L330.92,231.96 L331.06,231.95 L331.20,231.94 L331.34,231.93 L331.48,231.92 L331.62,231.91 L331.76,231.90 L331.91,231.89 L332.05,231.87 L332.19,231.86 L332.33,231.85 L332.47,231.84 L332.61,231.83 L332.75,231.82 L332.89,231.81 L333.04,231.80 L333.18,231.79 L333.32,231.78 L333.46,231.77 L333.60,231.77 L333.74,231.76 L333.88,231.75 L334.02,231.74 L334.17,231.73 L334.31,231.72 L334.45,231.71 L334.59,231.70 L334.73,231.69 L334.87,231.68 L335.01,231.67 L335.15,231.66 L335.30,231.65 L335.44,231.64 L335.58,231.64 L335.72,231.63 L335.86,231.62 L336.00,231.61 L336.14,231.60 L336.28,231.59 L336.42,231.58 L336.57,231.57 L336.71,231.57 L336.85,231.56 L336.99,231.55 L337.13,231.54 L337.27,231.53 L337.41,231.52 L337.55,231.52 L337.70,231.51 L337.84,231.50 L337.98,231.49 L338.12,231.48 L338.26,231.47 L338.40,231.47 L338.54,231.46 L338.68,231.45 L338.83,231.44 L338.97,231.44 L339.11,231.43 L339.25,231.42 L339.39,231.41 L339.53,231.40 L339.67,231.40 L339.81,231.39 L339.96,231.38 L340.10,231.37 L340.24,231.37 L340.38,231.36 L340.52,231.35 L340.66,231.35 L340.80,231.34 L340.94,231.33 L341.09,231.32 L341.23,231.32 L341.37,231.31 L341.51,231.30 L341.65,231.30 L341.79,231.29 L341.93,231.28 L342.07,231.27 L342.22,231.27 L342.36,231.26 L342.50,231.25 L342.64,231.25 L342.78,231.24 L342.92,231.23 L343.06,231.23 L343.20,231.22 L343.34,231.21 L343.49,231.21 L343.63,231.20 L343.77,231.20 L343.91,231.19 L344.05,231.18 L344.19,231.18 L344.33,231.17 L344.47,231.16 L344.62,231.16 L344.76,231.15 L344.90,231.15 L345.04,231.14 L345.18,231.13 L345.32,231.13 L345.46,231.12 L345.60,231.12 L345.75,231.11 L345.89,231.10 L346.03,231.10 L346.17,231.09 L346.31,231.09 L346.45,231.08 L346.59,231.07 L346.73,231.07 L346.88,231.06 L347.02,231.06 L347.16,231.05 L347.30,231.05 L347.44,231.04 L347.58,231.04 L347.72,231.03 L347.86,231.02 L348.01,231.02 L348.15,231.01 L348.29,231.01 L348.43,231.00 L348.57,231.00 L348.71,230.99 L348.85,230.99 L348.99,230.98 L349.14,230.98 L349.28,230.97 L349.42,230.97 L349.56,230.96 L349.70,230.96 L349.84,230.95 L349.98,230.95 L350.12,230.94 L350.26,230.94 L350.41,230.93 L350.55,230.93 L350.69,230.92 L350.83,230.92 L350.97,230.91 L351.11,230.91 L351.25,230.90 L351.39,230.90 L351.54,230.89 L351.68,230.89 L351.82,230.88 L351.96,230.88 L352.10,230.88 L352.24,230.87 L352.38,230.87 L352.52,230.86 L352.67,230.86 L352.81,230.85 L352.95,230.85 L353.09,230.84 L353.23,230.84 L353.37,230.84 L353.51,230.83 L353.65,230.83 L353.80,230.82 L353.94,230.82 L354.08,230.81 L354.22,230.81 L354.36,230.81 L354.50,230.80 L354.64,230.80 L354.78,230.79 L354.93,230.79 L355.07,230.79 L355.21,230.78 L355.35,230.78 L355.49,230.77 L355.63,230.77 L355.77,230.77 L355.91,230.76 L356.06,230.76 L356.20,230.75 L356.34,230.75 L356.48,230.75 L356.62,230.74 L356.76,230.74 L356.90,230.73 L357.04,230.73 L357.18,230.73 L357.33,230.72 L357.47,230.72 L357.61,230.72 L357.75,230.71 L357.89,230.71 L358.03,230.71 L358.17,230.70 L358.31,230.70 L358.46,230.69 L358.60,230.69 L358.74,230.69 L358.88,230.68 L359.02,230.68 L359.16,230.68 L359.30,230.67 L359.44,230.67 L359.59,230.67 L359.73,230.66 L359.87,230.66 L360.01,230.66 L360.15,230.65 L360.29,230.65 L360.43,230.65 L360.57,230.64 L360.72,230.64 L360.86,230.64 L361.00,230.63 L361.14,230.63 L361.28,230.63 L361.42,230.63 L361.56,230.62 L361.70,230.62 L361.85,230.62 L361.99,230.61 L362.13,230.61 L362.27,230.61 L362.41,230.60 L362.55,230.60 L362.69,230.60 L362.83,230.59 L362.98,230.59 L363.12,230.59 L363.26,230.59 L363.40,230.58 L363.54,230.58 L363.68,230.58 L363.82,230.57 L363.96,230.57 L364.11,230.57 L364.25,230.57 L364.39,230.56 L364.53,230.56 L364.67,230.56 L364.81,230.56 L364.95,230.55 L365.09,230.55 L365.23,230.55 L365.38,230.54 L365.52,230.54 L365.66,230.54 L365.80,230.54 L365.94,230.53 L366.08,230.53 L366.22,230.53 L366.36,230.53 L366.51,230.52 L366.65,230.52 L366.79,230.52 L366.93,230.52 L367.07,230.51 L367.21,230.51 L367.35,230.51 L367.49,230.51 L367.64,230.50 L367.78,230.50 L367.92,230.50 L368.06,230.50 L368.20,230.49 L368.34,230.49 L368.48,230.49 L368.62,230.49 L368.77,230.48 L368.91,230.48 L369.05,230.48 L369.19,230.48 L369.33,230.48 L369.47,230.47 L369.61,230.47 L369.75,230.47 L369.90,230.47 L370.04,230.46 L370.18,230.46 L370.32,230.46 L370.46,230.46 L370.60,230.46 L370.74,230.45 L370.88,230.45 L371.03,230.45 L371.17,230.45 L371.31,230.45 L371.45,230.44 L371.59,230.44 L371.73,230.44 L371.87,230.44 L372.01,230.44 L372.15,230.43 L372.30,230.43 L372.44,230.43 L372.58,230.43 L372.72,230.43 L372.86,230.42 L373.00,230.42 L373.14,230.42 L373.28,230.42 L373.43,230.42 L373.57,230.41 L373.71,230.41 L373.85,230.41 L373.99,230.41 L374.13,230.41 L374.27,230.40 L374.41,230.40 L374.56,230.40 L374.70,230.40 L374.84,230.40 L374.98,230.40 L375.12,230.39 L375.26,230.39 L375.40,230.39 L375.54,230.39 L375.69,230.39 L375.83,230.38 L375.97,230.38 L376.11,230.38 L376.25,230.38 L376.39,230.38 L376.53,230.38 L376.67,230.37 L376.82,230.37 L376.96,230.37 L377.10,230.37 L377.24,230.37 L377.38,230.37 L377.52,230.36 L377.66,230.36 L377.80,230.36 L377.95,230.36 L378.09,230.36 L378.23,230.36 L378.37,230.35 L378.51,230.35 L378.65,230.35 L378.79,230.35 L378.93,230.35 L379.07,230.35 L379.22,230.35 L379.36,230.34 L379.50,230.34 L379.64,230.34 L379.78,230.34 L379.92,230.34 L380.06,230.34 L380.20,230.34 L380.35,230.33 L380.49,230.33 L380.63,230.33 L380.77,230.33 L380.91,230.33 L381.05,230.33 L381.19,230.33 L381.33,230.32 L381.48,230.32 L381.62,230.32 L381.76,230.32 L381.90,230.32 L382.04,230.32 L382.18,230.32 L382.32,230.31 L382.46,230.31 L382.61,230.31 L382.75,230.31 L382.89,230.31 L383.03,230.31 L383.17,230.31 L383.31,230.31 L383.45,230.30 L383.59,230.30 L383.74,230.30 L383.88,230.30 L384.02,230.30 L384.16,230.30 L384.30,230.30 L384.44,230.30 L384.58,230.29 L384.72,230.29 L384.87,230.29 L385.01,230.29 L385.15,230.29 L385.29,230.29 L385.43,230.29 L385.57,230.29 L385.71,230.28 L385.85,230.28 L385.99,230.28 L386.14,230.28 L386.28,230.28 L386.42,230.28 L386.56,230.28 L386.70,230.28 L386.84,230.28 L386.98,230.27 L387.12,230.27 L387.27,230.27 L387.41,230.27 L387.55,230.27 L387.69,230.27 L387.83,230.27 L387.97,230.27 L388.11,230.27 L388.25,230.26 L388.40,230.26 L388.54,230.26 L388.68,230.26 L388.82,230.26 L388.96,230.26 L389.10,230.26 L389.24,230.26 L389.38,230.26 L389.53,230.26 L389.67,230.25 L389.81,230.25 L389.95,230.25 L390.09,230.25 L390.23,230.25 L390.37,230.25 L390.51,230.25 L390.66,230.25 L390.80,230.25 L390.94,230.25 L391.08,230.25 L391.22,230.24 L391.36,230.24 L391.50,230.24 L391.64,230.24 L391.79,230.24 L391.93,230.24 L392.07,230.24 L392.21,230.24 L392.35,230.24 L392.49,230.24 L392.63,230.24 L392.77,230.23 L392.92,230.23 L393.06,230.23 L393.20,230.23 L393.34,230.23 L393.48,230.23 L393.62,230.23 L393.76,230.23 L393.90,230.23 L394.04,230.23 L394.19,230.23 L394.33,230.23 L394.47,230.22 L394.61,230.22 L394.75,230.22 L394.89,230.22 L395.03,230.22 L395.17,230.22 L395.32,230.22 L395.46,230.22 L395.60,230.22 L395.74,230.22 L395.88,230.22 L396.02,230.22 L396.16,230.21 L396.30,230.21 L396.45,230.21 L396.59,230.21 L396.73,230.21 L396.87,230.21 L397.01,230.21 L397.15,230.21 L397.29,230.21 L397.43,230.21 L397.58,230.21 L397.72,230.21 L397.86,230.21 L398.00,230.21 L398.14,230.20 L398.28,230.20 L398.42,230.20 L398.56,230.20 L398.71,230.20 L398.85,230.20 L398.99,230.20 L399.13,230.20 L399.27,230.20 L399.41,230.20 L399.55,230.20 L399.69,230.20 L399.84,230.20 L399.98,230.20 L400.12,230.20 L400.26,230.19 L400.40,230.19" fill="none" stroke="#000" stroke-width="1.1" stroke-linejoin="round"/><path d="M61.60,279.86 L61.74,274.24 L61.88,270.02 L62.02,267.26 L62.16,265.99 L62.31,266.23 L62.45,267.96 L62.59,271.14 L62.73,275.71 L62.87,281.59 L63.01,288.67 L63.15,296.85 L63.29,305.99 L63.44,315.93 L63.58,326.53 L63.72,337.62 L63.86,349.02 L64.00,360.57 L64.14,372.08 L64.28,383.40 L64.42,394.35 L64.57,404.78 L64.71,414.53 L64.85,423.47 L64.99,431.48 L65.13,438.45 L65.27,444.28 L65.41,448.90 L65.55,452.25 L65.70,454.29 L65.84,454.99 L65.98,454.37 L66.12,452.43 L66.26,449.21 L66.40,444.75 L66.54,439.13 L66.68,432.43 L66.83,424.74 L66.97,416.16 L67.11,406.83 L67.25,396.85 L67.39,386.37 L67.53,375.51 L67.67,364.44 L67.81,353.27 L67.96,342.16 L68.10,331.24 L68.24,320.65 L68.38,310.51 L68.52,300.95 L68.66,292.09 L68.80,284.01 L68.94,276.82 L69.08,270.60 L69.23,265.40 L69.37,261.30 L69.51,258.32 L69.65,256.49 L69.79,255.83 L69.93,256.33 L70.07,257.98 L70.21,260.76 L70.36,264.61 L70.50,269.50 L70.64,275.34 L70.78,282.09 L70.92,289.64 L71.06,297.90 L71.20,306.79 L71.34,316.20 L71.49,326.01 L71.63,336.12 L71.77,346.42 L71.91,356.80 L72.05,367.13 L72.19,377.31 L72.33,387.24 L72.47,396.80 L72.62,405.91 L72.76,414.46 L72.90,422.38 L73.04,429.58 L73.18,436.00 L73.32,441.57 L73.46,446.24 L73.60,449.98 L73.75,452.76 L73.89,454.54 L74.03,455.32 L74.17,455.10 L74.31,453.88 L74.45,451.70 L74.59,448.56 L74.73,444.51 L74.88,439.60 L75.02,433.88 L75.16,427.40 L75.30,420.23 L75.44,412.44 L75.58,404.12 L75.72,395.33 L75.86,386.16 L76.01,376.71 L76.15,367.05 L76.29,357.27 L76.43,347.47 L76.57,337.72 L76.71,328.12 L76.85,318.75 L76.99,309.69 L77.13,301.00 L77.28,292.78 L77.42,285.08 L77.56,277.96 L77.70,271.48 L77.84,265.69 L77.98,260.63 L78.12,256.35 L78.26,252.86 L78.41,250.19 L78.55,248.36 L78.69,247.37 L78.83,247.23 L78.97,247.93 L79.11,249.45 L79.25,251.79 L79.39,254.91 L79.54,258.78 L79.68,263.37 L79.82,268.63 L79.96,274.52 L80.10,280.99 L80.24,287.99 L80.38,295.44 L80.52,303.31 L80.67,311.51 L80.81,319.99 L80.95,328.69 L81.09,337.52 L81.23,346.44 L81.37,355.37 L81.51,364.25 L81.65,373.01 L81.80,381.59 L81.94,389.92 L82.08,397.96 L82.22,405.65 L82.36,412.93 L82.50,419.76 L82.64,426.08 L82.78,431.87 L82.93,437.09 L83.07,441.70 L83.21,445.68 L83.35,449.00 L83.49,451.65 L83.63,453.61 L83.77,454.88 L83.91,455.45 L84.05,455.33 L84.20,454.52 L84.34,453.02 L84.48,450.87 L84.62,448.06 L84.76,444.63 L84.90,440.61 L85.04,436.02 L85.18,430.89 L85.33,425.26 L85.47,419.18 L85.61,412.68 L85.75,405.80 L85.89,398.58 L86.03,391.09 L86.17,383.35 L86.31,375.43 L86.46,367.36 L86.60,359.20 L86.74,350.99 L86.88,342.79 L87.02,334.64 L87.16,326.59 L87.30,318.68 L87.44,310.96 L87.59,303.47 L87.73,296.25 L87.87,289.33 L88.01,282.76 L88.15,276.57 L88.29,270.79 L88.43,265.44 L88.57,260.56 L88.72,256.16 L88.86,252.27 L89.00,248.90 L89.14,246.07 L89.28,243.78 L89.42,242.05 L89.56,240.87 L89.70,240.26 L89.85,240.20 L89.99,240.70 L90.13,241.74 L90.27,243.33 L90.41,245.43 L90.55,248.05 L90.69,251.16 L90.83,254.74 L90.97,258.77 L91.12,263.23 L91.26,268.09 L91.40,273.33 L91.54,278.91 L91.68,284.81 L91.82,290.99 L91.96,297.43 L92.10,304.09 L92.25,310.94 L92.39,317.94 L92.53,325.06 L92.67,332.27 L92.81,339.52 L92.95,346.80 L93.09,354.06 L93.23,361.27 L93.38,368.40 L93.52,375.43 L93.66,382.30 L93.80,389.01 L93.94,395.52 L94.08,401.79 L94.22,407.82 L94.36,413.57 L94.51,419.02 L94.65,424.15 L94.79,428.94 L94.93,433.38 L95.07,437.44 L95.21,441.11 L95.35,444.39 L95.49,447.25 L95.64,449.70 L95.78,451.72 L95.92,453.31 L96.06,454.47 L96.20,455.19 L96.34,455.48 L96.48,455.34 L96.62,454.77 L96.77,453.78 L96.91,452.38 L97.05,450.57 L97.19,448.36 L97.33,445.77 L97.47,442.81 L97.61,439.49 L97.75,435.83 L97.89,431.85 L98.04,427.55 L98.18,422.97 L98.32,418.12 L98.46,413.01 L98.60,407.68 L98.74,402.13 L98.88,396.40 L99.02,390.51 L99.17,384.47 L99.31,378.31 L99.45,372.05 L99.59,365.71 L99.73,359.33 L99.87,352.91 L100.01,346.48 L100.15,340.07 L100.30,333.69 L100.44,327.37 L100.58,321.13 L100.72,314.98 L100.86,308.95 L101.00,303.05 L101.14,297.31 L101.28,291.74 L101.43,286.36 L101.57,281.18 L101.71,276.22 L101.85,271.49 L101.99,267.01 L102.13,262.78 L102.27,258.83 L102.41,255.15 L102.56,251.76 L102.70,248.66 L102.84,245.87 L102.98,243.38 L103.12,241.21 L103.26,239.36 L103.40,237.82 L103.54,236.61 L103.69,235.72 L103.83,235.16 L103.97,234.91 L104.11,234.99 L104.25,235.38 L104.39,236.08 L104.53,237.10 L104.67,238.41 L104.82,240.03 L104.96,241.93 L105.10,244.11 L105.24,246.57 L105.38,249.29 L105.52,252.27 L105.66,255.49 L105.80,258.94 L105.94,262.62 L106.09,266.51 L106.23,270.59 L106.37,274.86 L106.51,279.30 L106.65,283.91 L106.79,288.65 L106.93,293.54 L107.07,298.53 L107.22,303.64 L107.36,308.84 L107.50,314.11 L107.64,319.45 L107.78,324.83 L107.92,330.25 L108.06,335.69 L108.20,341.14 L108.35,346.59 L108.49,352.02 L108.63,357.41 L108.77,362.76 L108.91,368.05 L109.05,373.27 L109.19,378.42 L109.33,383.47 L109.48,388.41 L109.62,393.24 L109.76,397.95 L109.90,402.52 L110.04,406.95 L110.18,411.23 L110.32,415.34 L110.46,419.29 L110.61,423.06 L110.75,426.65 L110.89,430.04 L111.03,433.24 L111.17,436.24 L111.31,439.04 L111.45,441.62 L111.59,443.99 L111.74,446.14 L111.88,448.07 L112.02,449.78 L112.16,451.27 L112.30,452.53 L112.44,453.56 L112.58,454.37 L112.72,454.95 L112.86,455.30 L113.01,455.43 L113.15,455.34 L113.29,455.03 L113.43,454.50 L113.57,453.75 L113.71,452.79 L113.85,451.62 L113.99,450.25 L114.14,448.68 L114.28,446.91 L114.42,444.95 L114.56,442.80 L114.70,440.48 L114.84,437.98 L114.98,435.32 L115.12,432.49 L115.27,429.51 L115.41,426.38 L115.55,423.11 L115.69,419.71 L115.83,416.18 L115.97,412.53 L116.11,408.76 L116.25,404.90 L116.40,400.94 L116.54,396.89 L116.68,392.76 L116.82,388.55 L116.96,384.28 L117.10,379.96 L117.24,375.58 L117.38,371.16 L117.53,366.71 L117.67,362.24 L117.81,357.74 L117.95,353.23 L118.09,348.73 L118.23,344.22 L118.37,339.73 L118.51,335.25 L118.66,330.80 L118.80,326.39 L118.94,322.01 L119.08,317.68 L119.22,313.40 L119.36,309.19 L119.50,305.03 L119.64,300.95 L119.78,296.94 L119.93,293.02 L120.07,289.18 L120.21,285.43 L120.35,281.79 L120.49,278.24 L120.63,274.80 L120.77,271.47 L120.91,268.25 L121.06,265.16 L121.20,262.18 L121.34,259.33 L121.48,256.61 L121.62,254.01 L121.76,251.55 L121.90,249.23 L122.04,247.04 L122.19,245.00 L122.33,243.09 L122.47,241.33 L122.61,239.71 L122.75,238.24 L122.89,236.91 L123.03,235.73 L123.17,234.69 L123.32,233.81 L123.46,233.06 L123.60,232.47 L123.74,232.02 L123.88,231.71 L124.02,231.55 L124.16,231.54 L124.30,231.66 L124.45,231.93 L124.59,232.33 L124.73,232.88 L124.87,233.56 L125.01,234.37 L125.15,235.31 L125.29,236.39 L125.43,237.59 L125.58,238.91 L125.72,240.36 L125.86,241.92 L126.00,243.60 L126.14,245.39 L126.28,247.30 L126.42,249.31 L126.56,251.42 L126.70,253.63 L126.85,255.94 L126.99,258.35 L127.13,260.84 L127.27,263.42 L127.41,266.08 L127.55,268.81 L127.69,271.63 L127.83,274.51 L127.98,277.46 L128.12,280.48 L128.26,283.55 L128.40,286.68 L128.54,289.87 L128.68,293.10 L128.82,296.37 L128.96,299.68 L129.11,303.03 L129.25,306.42 L129.39,309.83 L129.53,313.26 L129.67,316.72 L129.81,320.19 L129.95,323.68 L130.09,327.18 L130.24,330.68 L130.38,334.19 L130.52,337.70 L130.66,341.20 L130.80,344.69 L130.94,348.17 L131.08,351.64 L131.22,355.09 L131.37,358.52 L131.51,361.93 L131.65,365.30 L131.79,368.65 L131.93,371.97 L132.07,375.25 L132.21,378.49 L132.35,381.68 L132.50,384.84 L132.64,387.95 L132.78,391.01 L132.92,394.01 L133.06,396.97 L133.20,399.87 L133.34,402.71 L133.48,405.49 L133.63,408.21 L133.77,410.86 L133.91,413.45 L134.05,415.97 L134.19,418.43 L134.33,420.81 L134.47,423.12 L134.61,425.36 L134.75,427.52 L134.90,429.61 L135.04,431.62 L135.18,433.55 L135.32,435.41 L135.46,437.18 L135.60,438.88 L135.74,440.49 L135.88,442.02 L136.03,443.47 L136.17,444.84 L136.31,446.12 L136.45,447.33 L136.59,448.44 L136.73,449.48 L136.87,450.43 L137.01,451.29 L137.16,452.07 L137.30,452.77 L137.44,453.39 L137.58,453.92 L137.72,454.37 L137.86,454.73 L138.00,455.02 L138.14,455.22 L138.29,455.34 L138.43,455.38 L138.57,455.34 L138.71,455.22 L138.85,455.03 L138.99,454.75 L139.13,454.40 L139.27,453.97 L139.42,453.47 L139.56,452.90 L139.70,452.25 L139.84,451.53 L139.98,450.74 L140.12,449.88 L140.26,448.95 L140.40,447.95 L140.55,446.89 L140.69,445.76 L140.83,444.57 L140.97,443.32 L141.11,442.01 L141.25,440.64 L141.39,439.21 L141.53,437.72 L141.67,436.18 L141.82,434.59 L141.96,432.94 L142.10,431.24 L142.24,429.50 L142.38,427.70 L142.52,425.86 L142.66,423.98 L142.80,422.05 L142.95,420.08 L143.09,418.07 L143.23,416.03 L143.37,413.94 L143.51,411.82 L143.65,409.67 L143.79,407.48 L143.93,405.27 L144.08,403.02 L144.22,400.75 L144.36,398.45 L144.50,396.13 L144.64,393.78 L144.78,391.41 L144.92,389.03 L145.06,386.62 L145.21,384.20 L145.35,381.76 L145.49,379.31 L145.63,376.85 L145.77,374.37 L145.91,371.89 L146.05,369.39 L146.19,366.89 L146.34,364.39 L146.48,361.88 L146.62,359.37 L146.76,356.86 L146.90,354.35 L147.04,351.84 L147.18,349.33 L147.32,346.82 L147.47,344.32 L147.61,341.83 L147.75,339.35 L147.89,336.87 L148.03,334.40 L148.17,331.95 L148.31,329.51 L148.45,327.08 L148.59,324.66 L148.74,322.26 L148.88,319.88 L149.02,317.51 L149.16,315.16 L149.30,312.83 L149.44,310.53 L149.58,308.24 L149.72,305.97 L149.87,303.73 L150.01,301.51 L150.15,299.32 L150.29,297.15 L150.43,295.01 L150.57,292.90 L150.71,290.81 L150.85,288.75 L151.00,286.72 L151.14,284.72 L151.28,282.75 L151.42,280.81 L151.56,278.90 L151.70,277.03 L151.84,275.18 L151.98,273.37 L152.13,271.60 L152.27,269.85 L152.41,268.14 L152.55,266.47 L152.69,264.83 L152.83,263.23 L152.97,261.66 L153.11,260.13 L153.26,258.64 L153.40,257.18 L153.54,255.76 L153.68,254.38 L153.82,253.03 L153.96,251.73 L154.10,250.46 L154.24,249.23 L154.39,248.03 L154.53,246.88 L154.67,245.76 L154.81,244.69 L154.95,243.65 L155.09,242.65 L155.23,241.69 L155.37,240.77 L155.51,239.89 L155.66,239.04 L155.80,238.24 L155.94,237.47 L156.08,236.74 L156.22,236.06 L156.36,235.41 L156.50,234.79 L156.64,234.22 L156.79,233.69 L156.93,233.19 L157.07,232.73 L157.21,232.31 L157.35,231.93 L157.49,231.58 L157.63,231.27 L157.77,231.00 L157.92,230.77 L158.06,230.57 L158.20,230.41 L158.34,230.28 L158.48,230.19 L158.62,230.14 L158.76,230.12 L158.90,230.14 L159.05,230.19 L159.19,230.27 L159.33,230.39 L159.47,230.54 L159.61,230.73 L159.75,230.95 L159.89,231.20 L160.03,231.48 L160.18,231.80 L160.32,232.14 L160.46,232.52 L160.60,232.93 L160.74,233.37 L160.88,233.84 L161.02,234.34 L161.16,234.86 L161.31,235.42 L161.45,236.01 L161.59,236.62 L161.73,237.26 L161.87,237.93 L162.01,238.62 L162.15,239.34 L162.29,240.09 L162.44,240.86 L162.58,241.66 L162.72,242.48 L162.86,243.32 L163.00,244.19 L163.14,245.08 L163.28,246.00 L163.42,246.94 L163.56,247.90 L163.71,248.88 L163.85,249.88 L163.99,250.90 L164.13,251.94 L164.27,253.00 L164.41,254.08 L164.55,255.18 L164.69,256.30 L164.84,257.43 L164.98,258.59 L165.12,259.76 L165.26,260.94 L165.40,262.14 L165.54,263.36 L165.68,264.59 L165.82,265.84 L165.97,267.10 L166.11,268.38 L166.25,269.67 L166.39,270.97 L166.53,272.29 L166.67,273.61 L166.81,274.95 L166.95,276.30 L167.10,277.66 L167.24,279.03 L167.38,280.41 L167.52,281.80 L167.66,283.20 L167.80,284.61 L167.94,286.03 L168.08,287.45 L168.23,288.88 L168.37,290.32 L168.51,291.77 L168.65,293.22 L168.79,294.68 L168.93,296.15 L169.07,297.62 L169.21,299.09 L169.36,300.57 L169.50,302.06 L169.64,303.54 L169.78,305.03 L169.92,306.53 L170.06,308.03 L170.20,309.53 L170.34,311.03 L170.48,312.53 L170.63,314.04 L170.77,315.54 L170.91,317.05 L171.05,318.56 L171.19,320.06 L171.33,321.57 L171.47,323.08 L171.61,324.59 L171.76,326.09 L171.90,327.60 L172.04,329.10 L172.18,330.60 L172.32,332.10 L172.46,333.59 L172.60,335.09 L172.74,336.58 L172.89,338.07 L173.03,339.55 L173.17,341.03 L173.31,342.51 L173.45,343.98 L173.59,345.45 L173.73,346.91 L173.87,348.37 L174.02,349.82 L174.16,351.27 L174.30,352.71 L174.44,354.14 L174.58,355.57 L174.72,357.00 L174.86,358.42 L175.00,359.83 L175.15,361.23 L175.29,362.63 L175.43,364.02 L175.57,365.40 L175.71,366.78 L175.85,368.14 L175.99,369.50 L176.13,370.85 L176.28,372.20 L176.42,373.53 L176.56,374.86 L176.70,376.18 L176.84,377.49 L176.98,378.79 L177.12,380.08 L177.26,381.36 L177.40,382.63 L177.55,383.90 L177.69,385.15 L177.83,386.39 L177.97,387.63 L178.11,388.85 L178.25,390.07 L178.39,391.27 L178.53,392.47 L178.68,393.65 L178.82,394.82 L178.96,395.99 L179.10,397.14 L179.24,398.28 L179.38,399.41 L179.52,400.53 L179.66,401.64 L179.81,402.74 L179.95,403.82 L180.09,404.90 L180.23,405.97 L180.37,407.02 L180.51,408.06 L180.65,409.09 L180.79,410.11 L180.94,411.12 L181.08,412.12 L181.22,413.10 L181.36,414.08 L181.50,415.04 L181.64,415.99 L181.78,416.93 L181.92,417.85 L182.07,418.77 L182.21,419.67 L182.35,420.56 L182.49,421.44 L182.63,422.31 L182.77,423.17 L182.91,424.01 L183.05,424.85 L183.20,425.67 L183.34,426.48 L183.48,427.27 L183.62,428.06 L183.76,428.83 L183.90,429.59 L184.04,430.34 L184.18,431.08 L184.32,431.81 L184.47,432.52 L184.61,433.23 L184.75,433.92 L184.89,434.59 L185.03,435.26 L185.17,435.92 L185.31,436.56 L185.45,437.19 L185.60,437.81 L185.74,438.42 L185.88,439.02 L186.02,439.61 L186.16,440.18 L186.30,440.74 L186.44,441.29 L186.58,441.83 L186.73,442.36 L186.87,442.88 L187.01,443.38 L187.15,443.88 L187.29,444.36 L187.43,444.83 L187.57,445.29 L187.71,445.74 L187.86,446.18 L188.00,446.61 L188.14,447.02 L188.28,447.43 L188.42,447.82 L188.56,448.21 L188.70,448.58 L188.84,448.94 L188.99,449.29 L189.13,449.63 L189.27,449.96 L189.41,450.28 L189.55,450.59 L189.69,450.89 L189.83,451.18 L189.97,451.46 L190.12,451.72 L190.26,451.98 L190.40,452.23 L190.54,452.47 L190.68,452.69 L190.82,452.91 L190.96,453.12 L191.10,453.32 L191.25,453.51 L191.39,453.68 L191.53,453.85 L191.67,454.01 L191.81,454.16 L191.95,454.30 L192.09,454.43 L192.23,454.56 L192.37,454.67 L192.52,454.77 L192.66,454.87 L192.80,454.95 L192.94,455.03 L193.08,455.10 L193.22,455.16 L193.36,455.21 L193.50,455.25 L193.65,455.28 L193.79,455.31 L193.93,455.32 L194.07,455.33 L194.21,455.33 L194.35,455.32 L194.49,455.30 L194.63,455.28 L194.78,455.25 L194.92,455.21 L195.06,455.16 L195.20,455.10 L195.34,455.04 L195.48,454.96 L195.62,454.88 L195.76,454.80 L195.91,454.70 L196.05,454.60 L196.19,454.49 L196.33,454.38 L196.47,454.25 L196.61,454.12 L196.75,453.99 L196.89,453.84 L197.04,453.69 L197.18,453.53 L197.32,453.37 L197.46,453.20 L197.60,453.02 L197.74,452.83 L197.88,452.64 L198.02,452.45 L198.17,452.24 L198.31,452.03 L198.45,451.82 L198.59,451.60 L198.73,451.37 L198.87,451.13 L199.01,450.90 L199.15,450.65 L199.29,450.40 L199.44,450.14 L199.58,449.88 L199.72,449.61 L199.86,449.34 L200.00,449.06 L200.14,448.78 L200.28,448.49 L200.42,448.19 L200.57,447.89 L200.71,447.59 L200.85,447.28 L200.99,446.96 L201.13,446.64 L201.27,446.32 L201.41,445.99 L201.55,445.66 L201.70,445.32 L201.84,444.97 L201.98,444.63 L202.12,444.28 L202.26,443.92 L202.40,443.56 L202.54,443.19 L202.68,442.83 L202.83,442.45 L202.97,442.08 L203.11,441.69 L203.25,441.31 L203.39,440.92 L203.53,440.53 L203.67,440.13 L203.81,439.73 L203.96,439.33 L204.10,438.92 L204.24,438.51 L204.38,438.10 L204.52,437.68 L204.66,437.26 L204.80,436.83 L204.94,436.41 L205.09,435.98 L205.23,435.54 L205.37,435.10 L205.51,434.66 L205.65,434.22 L205.79,433.78 L205.93,433.33 L206.07,432.88 L206.21,432.42 L206.36,431.97 L206.50,431.51 L206.64,431.04 L206.78,430.58 L206.92,430.11 L207.06,429.64 L207.20,429.17 L207.34,428.70 L207.49,428.22 L207.63,427.74 L207.77,427.26 L207.91,426.78 L208.05,426.29 L208.19,425.80 L208.33,425.31 L208.47,424.82 L208.62,424.33 L208.76,423.83 L208.90,423.34 L209.04,422.84 L209.18,422.34 L209.32,421.83 L209.46,421.33 L209.60,420.82 L209.75,420.32 L209.89,419.81 L210.03,419.30 L210.17,418.78 L210.31,418.27 L210.45,417.76 L210.59,417.24 L210.73,416.72 L210.88,416.21 L211.02,415.69 L211.16,415.16 L211.30,414.64 L211.44,414.12 L211.58,413.59 L211.72,413.07 L211.86,412.54 L212.01,412.02 L212.15,411.49 L212.29,410.96 L212.43,410.43 L212.57,409.90 L212.71,409.37 L212.85,408.83 L212.99,408.30 L213.13,407.77 L213.28,407.23 L213.42,406.70 L213.56,406.16 L213.70,405.63 L213.84,405.09 L213.98,404.55 L214.12,404.01 L214.26,403.48 L214.41,402.94 L214.55,402.40 L214.69,401.86 L214.83,401.32 L214.97,400.78 L215.11,400.24 L215.25,399.70 L215.39,399.16 L215.54,398.62 L215.68,398.08 L215.82,397.54 L215.96,396.99 L216.10,396.45 L216.24,395.91 L216.38,395.37 L216.52,394.83 L216.67,394.29 L216.81,393.75 L216.95,393.21 L217.09,392.66 L217.23,392.12 L217.37,391.58 L217.51,391.04 L217.65,390.50 L217.80,389.96 L217.94,389.42 L218.08,388.88 L218.22,388.34 L218.36,387.80 L218.50,387.26 L218.64,386.73 L218.78,386.19 L218.93,385.65 L219.07,385.11 L219.21,384.58 L219.35,384.04 L219.49,383.50 L219.63,382.97 L219.77,382.43 L219.91,381.90 L220.06,381.36 L220.20,380.83 L220.34,380.30 L220.48,379.77 L220.62,379.23 L220.76,378.70 L220.90,378.17 L221.04,377.64 L221.18,377.11 L221.33,376.59 L221.47,376.06 L221.61,375.53 L221.75,375.01 L221.89,374.48 L222.03,373.96 L222.17,373.43 L222.31,372.91 L222.46,372.39 L222.60,371.86 L222.74,371.34 L222.88,370.82 L223.02,370.31 L223.16,369.79 L223.30,369.27 L223.44,368.75 L223.59,368.24 L223.73,367.72 L223.87,367.21 L224.01,366.70 L224.15,366.19 L224.29,365.68 L224.43,365.17 L224.57,364.66 L224.72,364.15 L224.86,363.64 L225.00,363.14 L225.14,362.63 L225.28,362.13 L225.42,361.63 L225.56,361.12 L225.70,360.62 L225.85,360.12 L225.99,359.63 L226.13,359.13 L226.27,358.63 L226.41,358.14 L226.55,357.64 L226.69,357.15 L226.83,356.66 L226.98,356.17 L227.12,355.68 L227.26,355.19 L227.40,354.71 L227.54,354.22 L227.68,353.74 L227.82,353.25 L227.96,352.77 L228.10,352.29 L228.25,351.81 L228.39,351.33 L228.53,350.85 L228.67,350.38 L228.81,349.90 L228.95,349.43 L229.09,348.96 L229.23,348.49 L229.38,348.02 L229.52,347.55 L229.66,347.08 L229.80,346.61 L229.94,346.15 L230.08,345.68 L230.22,345.22 L230.36,344.76 L230.51,344.30 L230.65,343.84 L230.79,343.39 L230.93,342.93 L231.07,342.48 L231.21,342.02 L231.35,341.57 L231.49,341.12 L231.64,340.67 L231.78,340.22 L231.92,339.78 L232.06,339.33 L232.20,338.89 L232.34,338.45 L232.48,338.00 L232.62,337.56 L232.77,337.13 L232.91,336.69 L233.05,336.25 L233.19,335.82 L233.33,335.39 L233.47,334.95 L233.61,334.52 L233.75,334.09 L233.90,333.67 L234.04,333.24 L234.18,332.82 L234.32,332.39 L234.46,331.97 L234.60,331.55 L234.74,331.13 L234.88,330.71 L235.02,330.29 L235.17,329.88 L235.31,329.46 L235.45,329.05 L235.59,328.64 L235.73,328.23 L235.87,327.82 L236.01,327.42 L236.15,327.01 L236.30,326.61 L236.44,326.20 L236.58,325.80 L236.72,325.40 L236.86,325.00 L237.00,324.60 L237.14,324.21 L237.28,323.81 L237.43,323.42 L237.57,323.03 L237.71,322.64 L237.85,322.25 L237.99,321.86 L238.13,321.47 L238.27,321.09 L238.41,320.70 L238.56,320.32 L238.70,319.94 L238.84,319.56 L238.98,319.18 L239.12,318.81 L239.26,318.43 L239.40,318.06 L239.54,317.68 L239.69,317.31 L239.83,316.94 L239.97,316.57 L240.11,316.20 L240.25,315.84 L240.39,315.47 L240.53,315.11 L240.67,314.75 L240.82,314.39 L240.96,314.03 L241.10,313.67 L241.24,313.31 L241.38,312.96 L241.52,312.60 L241.66,312.25 L241.80,311.90 L241.94,311.55 L242.09,311.20 L242.23,310.85 L242.37,310.51 L242.51,310.16 L242.65,309.82 L242.79,309.48 L242.93,309.14 L243.07,308.80 L243.22,308.46 L243.36,308.12 L243.50,307.79 L243.64,307.45 L243.78,307.12 L243.92,306.79 L244.06,306.46 L244.20,306.13 L244.35,305.80 L244.49,305.48 L244.63,305.15 L244.77,304.83 L244.91,304.51 L245.05,304.18 L245.19,303.86 L245.33,303.55 L245.48,303.23 L245.62,302.91 L245.76,302.60 L245.90,302.28 L246.04,301.97 L246.18,301.66 L246.32,301.35 L246.46,301.04 L246.61,300.73 L246.75,300.43 L246.89,300.12 L247.03,299.82 L247.17,299.52 L247.31,299.22 L247.45,298.92 L247.59,298.62 L247.74,298.32 L247.88,298.02 L248.02,297.73 L248.16,297.44 L248.30,297.14 L248.44,296.85 L248.58,296.56 L248.72,296.27 L248.87,295.98 L249.01,295.70 L249.15,295.41 L249.29,295.13 L249.43,294.85 L249.57,294.56 L249.71,294.28 L249.85,294.00 L249.99,293.73 L250.14,293.45 L250.28,293.17 L250.42,292.90 L250.56,292.62 L250.70,292.35 L250.84,292.08 L250.98,291.81 L251.12,291.54 L251.27,291.27 L251.41,291.01 L251.55,290.74 L251.69,290.48 L251.83,290.21 L251.97,289.95 L252.11,289.69 L252.25,289.43 L252.40,289.17 L252.54,288.91 L252.68,288.66 L252.82,288.40 L252.96,288.15 L253.10,287.89 L253.24,287.64 L253.38,287.39 L253.53,287.14 L253.67,286.89 L253.81,286.64 L253.95,286.39 L254.09,286.15 L254.23,285.90 L254.37,285.66 L254.51,285.42 L254.66,285.18 L254.80,284.94 L254.94,284.70 L255.08,284.46 L255.22,284.22 L255.36,283.98 L255.50,283.75 L255.64,283.51 L255.79,283.28 L255.93,283.05 L256.07,282.82 L256.21,282.59 L256.35,282.36 L256.49,282.13 L256.63,281.90 L256.77,281.68 L256.91,281.45 L257.06,281.23 L257.20,281.00 L257.34,280.78 L257.48,280.56 L257.62,280.34 L257.76,280.12 L257.90,279.90 L258.04,279.68 L258.19,279.47 L258.33,279.25 L258.47,279.04 L258.61,278.83 L258.75,278.61 L258.89,278.40 L259.03,278.19 L259.17,277.98 L259.32,277.77 L259.46,277.56 L259.60,277.36 L259.74,277.15 L259.88,276.95 L260.02,276.74 L260.16,276.54 L260.30,276.34 L260.45,276.13 L260.59,275.93 L260.73,275.73 L260.87,275.54 L261.01,275.34 L261.15,275.14 L261.29,274.95 L261.43,274.75 L261.58,274.56 L261.72,274.36 L261.86,274.17 L262.00,273.98 L262.14,273.79 L262.28,273.60 L262.42,273.41 L262.56,273.22 L262.71,273.03 L262.85,272.85 L262.99,272.66 L263.13,272.48 L263.27,272.29 L263.41,272.11 L263.55,271.93 L263.69,271.75 L263.83,271.56 L263.98,271.38 L264.12,271.21 L264.26,271.03 L264.40,270.85 L264.54,270.67 L264.68,270.50 L264.82,270.32 L264.96,270.15 L265.11,269.98 L265.25,269.80 L265.39,269.63 L265.53,269.46 L265.67,269.29 L265.81,269.12 L265.95,268.95 L266.09,268.78 L266.24,268.62 L266.38,268.45 L266.52,268.29 L266.66,268.12 L266.80,267.96 L266.94,267.79 L267.08,267.63 L267.22,267.47 L267.37,267.31 L267.51,267.15 L267.65,266.99 L267.79,266.83 L267.93,266.67 L268.07,266.51 L268.21,266.36 L268.35,266.20 L268.50,266.05 L268.64,265.89 L268.78,265.74 L268.92,265.58 L269.06,265.43 L269.20,265.28 L269.34,265.13 L269.48,264.98 L269.63,264.83 L269.77,264.68 L269.91,264.53 L270.05,264.38 L270.19,264.24 L270.33,264.09 L270.47,263.95 L270.61,263.80 L270.75,263.66 L270.90,263.51 L271.04,263.37 L271.18,263.23 L271.32,263.09 L271.46,262.95 L271.60,262.81 L271.74,262.67 L271.88,262.53 L272.03,262.39 L272.17,262.25 L272.31,262.12 L272.45,261.98 L272.59,261.84 L272.73,261.71 L272.87,261.57 L273.01,261.44 L273.16,261.31 L273.30,261.18 L273.44,261.04 L273.58,260.91 L273.72,260.78 L273.86,260.65 L274.00,260.52 L274.14,260.39 L274.29,260.27 L274.43,260.14 L274.57,260.01 L274.71,259.88 L274.85,259.76 L274.99,259.63 L275.13,259.51 L275.27,259.38 L275.42,259.26 L275.56,259.14 L275.70,259.02 L275.84,258.89 L275.98,258.77 L276.12,258.65 L276.26,258.53 L276.40,258.41 L276.55,258.29 L276.69,258.17 L276.83,258.06 L276.97,257.94 L277.11,257.82 L277.25,257.71 L277.39,257.59 L277.53,257.48 L277.68,257.36 L277.82,257.25 L277.96,257.13 L278.10,257.02 L278.24,256.91 L278.38,256.80 L278.52,256.68 L278.66,256.57 L278.80,256.46 L278.95,256.35 L279.09,256.24 L279.23,256.14 L279.37,256.03 L279.51,255.92 L279.65,255.81 L279.79,255.71 L279.93,255.60 L280.08,255.49 L280.22,255.39 L280.36,255.28 L280.50,255.18 L280.64,255.07 L280.78,254.97 L280.92,254.87 L281.06,254.77 L281.21,254.66 L281.35,254.56 L281.49,254.46 L281.63,254.36 L281.77,254.26 L281.91,254.16 L282.05,254.06 L282.19,253.96 L282.34,253.87 L282.48,253.77 L282.62,253.67 L282.76,253.57 L282.90,253.48 L283.04,253.38 L283.18,253.29 L283.32,253.19 L283.47,253.10 L283.61,253.00 L283.75,252.91 L283.89,252.82 L284.03,252.72 L284.17,252.63 L284.31,252.54 L284.45,252.45 L284.60,252.36 L284.74,252.27 L284.88,252.18 L285.02,252.09 L285.16,252.00 L285.30,251.91 L285.44,251.82 L285.58,251.73 L285.72,251.64 L285.87,251.56 L286.01,251.47 L286.15,251.38 L286.29,251.30 L286.43,251.21 L286.57,251.13 L286.71,251.04 L286.85,250.96 L287.00,250.87 L287.14,250.79 L287.28,250.71 L287.42,250.62 L287.56,250.54 L287.70,250.46 L287.84,250.38 L287.98,250.30 L288.13,250.22 L288.27,250.13 L288.41,250.05 L288.55,249.97 L288.69,249.90 L288.83,249.82 L288.97,249.74 L289.11,249.66 L289.26,249.58 L289.40,249.50 L289.54,249.43 L289.68,249.35 L289.82,249.27 L289.96,249.20 L290.10,249.12 L290.24,249.05 L290.39,248.97 L290.53,248.90 L290.67,248.82 L290.81,248.75 L290.95,248.67 L291.09,248.60 L291.23,248.53 L291.37,248.46 L291.52,248.38 L291.66,248.31 L291.80,248.24 L291.94,248.17 L292.08,248.10 L292.22,248.03 L292.36,247.96 L292.50,247.89 L292.64,247.82 L292.79,247.75 L292.93,247.68 L293.07,247.61 L293.21,247.54 L293.35,247.47 L293.49,247.41 L293.63,247.34 L293.77,247.27 L293.92,247.20 L294.06,247.14 L294.20,247.07 L294.34,247.01 L294.48,246.94 L294.62,246.87 L294.76,246.81 L294.90,246.75 L295.05,246.68 L295.19,246.62 L295.33,246.55 L295.47,246.49 L295.61,246.43 L295.75,246.36 L295.89,246.30 L296.03,246.24 L296.18,246.18 L296.32,246.12 L296.46,246.05 L296.60,245.99 L296.74,245.93 L296.88,245.87 L297.02,245.81 L297.16,245.75 L297.31,245.69 L297.45,245.63 L297.59,245.57 L297.73,245.51 L297.87,245.46 L298.01,245.40 L298.15,245.34 L298.29,245.28 L298.44,245.22 L298.58,245.17 L298.72,245.11 L298.86,245.05 L299.00,245.00 L299.14,244.94 L299.28,244.88 L299.42,244.83 L299.56,244.77 L299.71,244.72 L299.85,244.66 L299.99,244.61 L300.13,244.55 L300.27,244.50 L300.41,244.45 L300.55,244.39 L300.69,244.34 L300.84,244.29 L300.98,244.23 L301.12,244.18 L301.26,244.13 L301.40,244.08 L301.54,244.02 L301.68,243.97 L301.82,243.92 L301.97,243.87 L302.11,243.82 L302.25,243.77 L302.39,243.72 L302.53,243.67 L302.67,243.62 L302.81,243.57 L302.95,243.52 L303.10,243.47 L303.24,243.42 L303.38,243.37 L303.52,243.32 L303.66,243.27 L303.80,243.22 L303.94,243.18 L304.08,243.13 L304.23,243.08 L304.37,243.03 L304.51,242.99 L304.65,242.94 L304.79,242.89 L304.93,242.85 L305.07,242.80 L305.21,242.75 L305.36,242.71 L305.50,242.66 L305.64,242.62 L305.78,242.57 L305.92,242.53 L306.06,242.48 L306.20,242.44 L306.34,242.39 L306.49,242.35 L306.63,242.30 L306.77,242.26 L306.91,242.22 L307.05,242.17 L307.19,242.13 L307.33,242.09 L307.47,242.04 L307.61,242.00 L307.76,241.96 L307.90,241.92 L308.04,241.88 L308.18,241.83 L308.32,241.79 L308.46,241.75 L308.60,241.71 L308.74,241.67 L308.89,241.63 L309.03,241.59 L309.17,241.55 L309.31,241.51 L309.45,241.47 L309.59,241.43 L309.73,241.39 L309.87,241.35 L310.02,241.31 L310.16,241.27 L310.30,241.23 L310.44,241.19 L310.58,241.15 L310.72,241.11 L310.86,241.07 L311.00,241.04 L311.15,241.00 L311.29,240.96 L311.43,240.92 L311.57,240.88 L311.71,240.85 L311.85,240.81 L311.99,240.77 L312.13,240.74 L312.28,240.70 L312.42,240.66 L312.56,240.63 L312.70,240.59 L312.84,240.55 L312.98,240.52 L313.12,240.48 L313.26,240.45 L313.41,240.41 L313.55,240.38 L313.69,240.34 L313.83,240.31 L313.97,240.27 L314.11,240.24 L314.25,240.20 L314.39,240.17 L314.53,240.14 L314.68,240.10 L314.82,240.07 L314.96,240.03 L315.10,240.00 L315.24,239.97 L315.38,239.93 L315.52,239.90 L315.66,239.87 L315.81,239.83 L315.95,239.80 L316.09,239.77 L316.23,239.74 L316.37,239.71 L316.51,239.67 L316.65,239.64 L316.79,239.61 L316.94,239.58 L317.08,239.55 L317.22,239.52 L317.36,239.48 L317.50,239.45 L317.64,239.42 L317.78,239.39 L317.92,239.36 L318.07,239.33 L318.21,239.30 L318.35,239.27 L318.49,239.24 L318.63,239.21 L318.77,239.18 L318.91,239.15 L319.05,239.12 L319.20,239.09 L319.34,239.06 L319.48,239.03 L319.62,239.00 L319.76,238.98 L319.90,238.95 L320.04,238.92 L320.18,238.89 L320.33,238.86 L320.47,238.83 L320.61,238.80 L320.75,238.78 L320.89,238.75 L321.03,238.72 L321.17,238.69 L321.31,238.67 L321.45,238.64 L321.60,238.61 L321.74,238.58 L321.88,238.56 L322.02,238.53 L322.16,238.50 L322.30,238.48 L322.44,238.45 L322.58,238.42 L322.73,238.40 L322.87,238.37 L323.01,238.34 L323.15,238.32 L323.29,238.29 L323.43,238.27 L323.57,238.24 L323.71,238.22 L323.86,238.19 L324.00,238.17 L324.14,238.14 L324.28,238.11 L324.42,238.09 L324.56,238.07 L324.70,238.04 L324.84,238.02 L324.99,237.99 L325.13,237.97 L325.27,237.94 L325.41,237.92 L325.55,237.89 L325.69,237.87 L325.83,237.85 L325.97,237.82 L326.12,237.80 L326.26,237.78 L326.40,237.75 L326.54,237.73 L326.68,237.71 L326.82,237.68 L326.96,237.66 L327.10,237.64 L327.25,237.61 L327.39,237.59 L327.53,237.57 L327.67,237.54 L327.81,237.52 L327.95,237.50 L328.09,237.48 L328.23,237.46 L328.37,237.43 L328.52,237.41 L328.66,237.39 L328.80,237.37 L328.94,237.35 L329.08,237.32 L329.22,237.30 L329.36,237.28 L329.50,237.26 L329.65,237.24 L329.79,237.22 L329.93,237.20 L330.07,237.18 L330.21,237.15 L330.35,237.13 L330.49,237.11 L330.63,237.09 L330.78,237.07 L330.92,237.05 L331.06,237.03 L331.20,237.01 L331.34,236.99 L331.48,236.97 L331.62,236.95 L331.76,236.93 L331.91,236.91 L332.05,236.89 L332.19,236.87 L332.33,236.85 L332.47,236.83 L332.61,236.81 L332.75,236.79 L332.89,236.77 L333.04,236.76 L333.18,236.74 L333.32,236.72 L333.46,236.70 L333.60,236.68 L333.74,236.66 L333.88,236.64 L334.02,236.62 L334.17,236.61 L334.31,236.59 L334.45,236.57 L334.59,236.55 L334.73,236.53 L334.87,236.51 L335.01,236.50 L335.15,236.48 L335.30,236.46 L335.44,236.44 L335.58,236.42 L335.72,236.41 L335.86,236.39 L336.00,236.37 L336.14,236.35 L336.28,236.34 L336.42,236.32 L336.57,236.30 L336.71,236.29 L336.85,236.27 L336.99,236.25 L337.13,236.23 L337.27,236.22 L337.41,236.20 L337.55,236.18 L337.70,236.17 L337.84,236.15 L337.98,236.13 L338.12,236.12 L338.26,236.10 L338.40,236.08 L338.54,236.07 L338.68,236.05 L338.83,236.04 L338.97,236.02 L339.11,236.00 L339.25,235.99 L339.39,235.97 L339.53,235.96 L339.67,235.94 L339.81,235.93 L339.96,235.91 L340.10,235.89 L340.24,235.88 L340.38,235.86 L340.52,235.85 L340.66,235.83 L340.80,235.82 L340.94,235.80 L341.09,235.79 L341.23,235.77 L341.37,235.76 L341.51,235.74 L341.65,235.73 L341.79,235.71 L341.93,235.70 L342.07,235.68 L342.22,235.67 L342.36,235.66 L342.50,235.64 L342.64,235.63 L342.78,235.61 L342.92,235.60 L343.06,235.58 L343.20,235.57 L343.34,235.56 L343.49,235.54 L343.63,235.53 L343.77,235.51 L343.91,235.50 L344.05,235.49 L344.19,235.47 L344.33,235.46 L344.47,235.44 L344.62,235.43 L344.76,235.42 L344.90,235.40 L345.04,235.39 L345.18,235.38 L345.32,235.36 L345.46,235.35 L345.60,235.34 L345.75,235.32 L345.89,235.31 L346.03,235.30 L346.17,235.29 L346.31,235.27 L346.45,235.26 L346.59,235.25 L346.73,235.23 L346.88,235.22 L347.02,235.21 L347.16,235.20 L347.30,235.18 L347.44,235.17 L347.58,235.16 L347.72,235.15 L347.86,235.13 L348.01,235.12 L348.15,235.11 L348.29,235.10 L348.43,235.09 L348.57,235.07 L348.71,235.06 L348.85,235.05 L348.99,235.04 L349.14,235.03 L349.28,235.01 L349.42,235.00 L349.56,234.99 L349.70,234.98 L349.84,234.97 L349.98,234.96 L350.12,234.94 L350.26,234.93 L350.41,234.92 L350.55,234.91 L350.69,234.90 L350.83,234.89 L350.97,234.88 L351.11,234.86 L351.25,234.85 L351.39,234.84 L351.54,234.83 L351.68,234.82 L351.82,234.81 L351.96,234.80 L352.10,234.79 L352.24,234.78 L352.38,234.77 L352.52,234.75 L352.67,234.74 L352.81,234.73 L352.95,234.72 L353.09,234.71 L353.23,234.70 L353.37,234.69 L353.51,234.68 L353.65,234.67 L353.80,234.66 L353.94,234.65 L354.08,234.64 L354.22,234.63 L354.36,234.62 L354.50,234.61 L354.64,234.60 L354.78,234.59 L354.93,234.58 L355.07,234.57 L355.21,234.56 L355.35,234.55 L355.49,234.54 L355.63,234.53 L355.77,234.52 L355.91,234.51 L356.06,234.50 L356.20,234.49 L356.34,234.48 L356.48,234.47 L356.62,234.46 L356.76,234.45 L356.90,234.44 L357.04,234.43 L357.18,234.42 L357.33,234.41 L357.47,234.40 L357.61,234.39 L357.75,234.38 L357.89,234.37 L358.03,234.37 L358.17,234.36 L358.31,234.35 L358.46,234.34 L358.60,234.33 L358.74,234.32 L358.88,234.31 L359.02,234.30 L359.16,234.29 L359.30,234.28 L359.44,234.28 L359.59,234.27 L359.73,234.26 L359.87,234.25 L360.01,234.24 L360.15,234.23 L360.29,234.22 L360.43,234.21 L360.57,234.21 L360.72,234.20 L360.86,234.19 L361.00,234.18 L361.14,234.17 L361.28,234.16 L361.42,234.15 L361.56,234.15 L361.70,234.14 L361.85,234.13 L361.99,234.12 L362.13,234.11 L362.27,234.10 L362.41,234.10 L362.55,234.09 L362.69,234.08 L362.83,234.07 L362.98,234.06 L363.12,234.06 L363.26,234.05 L363.40,234.04 L363.54,234.03 L363.68,234.02 L363.82,234.02 L363.96,234.01 L364.11,234.00 L364.25,233.99 L364.39,233.99 L364.53,233.98 L364.67,233.97 L364.81,233.96 L364.95,233.95 L365.09,233.95 L365.23,233.94 L365.38,233.93 L365.52,233.92 L365.66,233.92 L365.80,233.91 L365.94,233.90 L366.08,233.89 L366.22,233.89 L366.36,233.88 L366.51,233.87 L366.65,233.87 L366.79,233.86 L366.93,233.85 L367.07,233.84 L367.21,233.84 L367.35,233.83 L367.49,233.82 L367.64,233.82 L367.78,233.81 L367.92,233.80 L368.06,233.79 L368.20,233.79 L368.34,233.78 L368.48,233.77 L368.62,233.77 L368.77,233.76 L368.91,233.75 L369.05,233.75 L369.19,233.74 L369.33,233.73 L369.47,233.73 L369.61,233.72 L369.75,233.71 L369.90,233.71 L370.04,233.70 L370.18,233.69 L370.32,233.69 L370.46,233.68 L370.60,233.67 L370.74,233.67 L370.88,233.66 L371.03,233.65 L371.17,233.65 L371.31,233.64 L371.45,233.63 L371.59,233.63 L371.73,233.62 L371.87,233.61 L372.01,233.61 L372.15,233.60 L372.30,233.60 L372.44,233.59 L372.58,233.58 L372.72,233.58 L372.86,233.57 L373.00,233.57 L373.14,233.56 L373.28,233.55 L373.43,233.55 L373.57,233.54 L373.71,233.53 L373.85,233.53 L373.99,233.52 L374.13,233.52 L374.27,233.51 L374.41,233.51 L374.56,233.50 L374.70,233.49 L374.84,233.49 L374.98,233.48 L375.12,233.48 L375.26,233.47 L375.40,233.46 L375.54,233.46 L375.69,233.45 L375.83,233.45 L375.97,233.44 L376.11,233.44 L376.25,233.43 L376.39,233.42 L376.53,233.42 L376.67,233.41 L376.82,233.41 L376.96,233.40 L377.10,233.40 L377.24,233.39 L377.38,233.39 L377.52,233.38 L377.66,233.38 L377.80,233.37 L377.95,233.36 L378.09,233.36 L378.23,233.35 L378.37,233.35 L378.51,233.34 L378.65,233.34 L378.79,233.33 L378.93,233.33 L379.07,233.32 L379.22,233.32 L379.36,233.31 L379.50,233.31 L379.64,233.30 L379.78,233.30 L379.92,233.29 L380.06,233.29 L380.20,233.28 L380.35,233.28 L380.49,233.27 L380.63,233.27 L380.77,233.26 L380.91,233.26 L381.05,233.25 L381.19,233.25 L381.33,233.24 L381.48,233.24 L381.62,233.23 L381.76,233.23 L381.90,233.22 L382.04,233.22 L382.18,233.21 L382.32,233.21 L382.46,233.20 L382.61,233.20 L382.75,233.19 L382.89,233.19 L383.03,233.18 L383.17,233.18 L383.31,233.17 L383.45,233.17 L383.59,233.16 L383.74,233.16 L383.88,233.16 L384.02,233.15 L384.16,233.15 L384.30,233.14 L384.44,233.14 L384.58,233.13 L384.72,233.13 L384.87,233.12 L385.01,233.12 L385.15,233.11 L385.29,233.11 L385.43,233.11 L385.57,233.10 L385.71,233.10 L385.85,233.09 L385.99,233.09 L386.14,233.08 L386.28,233.08 L386.42,233.08 L386.56,233.07 L386.70,233.07 L386.84,233.06 L386.98,233.06 L387.12,233.05 L387.27,233.05 L387.41,233.05 L387.55,233.04 L387.69,233.04 L387.83,233.03 L387.97,233.03 L388.11,233.02 L388.25,233.02 L388.40,233.02 L388.54,233.01 L388.68,233.01 L388.82,233.00 L388.96,233.00 L389.10,233.00 L389.24,232.99 L389.38,232.99 L389.53,232.98 L389.67,232.98 L389.81,232.98 L389.95,232.97 L390.09,232.97 L390.23,232.96 L390.37,232.96 L390.51,232.96 L390.66,232.95 L390.80,232.95 L390.94,232.95 L391.08,232.94 L391.22,232.94 L391.36,232.93 L391.50,232.93 L391.64,232.93 L391.79,232.92 L391.93,232.92 L392.07,232.91 L392.21,232.91 L392.35,232.91 L392.49,232.90 L392.63,232.90 L392.77,232.90 L392.92,232.89 L393.06,232.89 L393.20,232.89 L393.34,232.88 L393.48,232.88 L393.62,232.87 L393.76,232.87 L393.90,232.87 L394.04,232.86 L394.19,232.86 L394.33,232.86 L394.47,232.85 L394.61,232.85 L394.75,232.85 L394.89,232.84 L395.03,232.84 L395.17,232.84 L395.32,232.83 L395.46,232.83 L395.60,232.83 L395.74,232.82 L395.88,232.82 L396.02,232.82 L396.16,232.81 L396.30,232.81 L396.45,232.81 L396.59,232.80 L396.73,232.80 L396.87,232.80 L397.01,232.79 L397.15,232.79 L397.29,232.79 L397.43,232.78 L397.58,232.78 L397.72,232.78 L397.86,232.77 L398.00,232.77 L398.14,232.77 L398.28,232.76 L398.42,232.76 L398.56,232.76 L398.71,232.75 L398.85,232.75 L398.99,232.75 L399.13,232.74 L399.27,232.74 L399.41,232.74 L399.55,232.73 L399.69,232.73 L399.84,232.73 L399.98,232.72 L400.12,232.72 L400.26,232.72 L400.40,232.72" fill="none" stroke="#f00" stroke-width="1.5" stroke-dasharray="1.5 4.3" stroke-linejoin="round"/><path d="M61.60,272.08 L61.74,270.06 L61.88,269.53 L62.02,270.49 L62.16,272.90 L62.31,276.74 L62.45,281.91 L62.59,288.34 L62.73,295.91 L62.87,304.50 L63.01,313.96 L63.15,324.14 L63.29,334.89 L63.44,346.02 L63.58,357.37 L63.72,368.77 L63.86,380.05 L64.00,391.03 L64.14,401.55 L64.28,411.46 L64.42,420.62 L64.57,428.90 L64.71,436.18 L64.85,442.36 L64.99,447.36 L65.13,451.11 L65.27,453.58 L65.41,454.72 L65.55,454.54 L65.70,453.04 L65.84,450.25 L65.98,446.21 L66.12,440.99 L66.26,434.66 L66.40,427.32 L66.54,419.07 L66.68,410.02 L66.83,400.30 L66.97,390.04 L67.11,379.37 L67.25,368.44 L67.39,357.39 L67.53,346.36 L67.67,335.49 L67.81,324.91 L67.96,314.77 L68.10,305.17 L68.24,296.24 L68.38,288.09 L68.52,280.80 L68.66,274.46 L68.80,269.14 L68.94,264.90 L69.08,261.77 L69.23,259.80 L69.37,258.99 L69.51,259.34 L69.65,260.85 L69.79,263.48 L69.93,267.19 L70.07,271.94 L70.21,277.66 L70.36,284.28 L70.50,291.72 L70.64,299.88 L70.78,308.66 L70.92,317.97 L71.06,327.70 L71.20,337.72 L71.34,347.94 L71.49,358.23 L71.63,368.48 L71.77,378.59 L71.91,388.43 L72.05,397.92 L72.19,406.94 L72.33,415.40 L72.47,423.23 L72.62,430.33 L72.76,436.65 L72.90,442.11 L73.04,446.68 L73.18,450.30 L73.32,452.95 L73.46,454.61 L73.60,455.26 L73.75,454.91 L73.89,453.57 L74.03,451.25 L74.17,447.99 L74.31,443.82 L74.45,438.78 L74.59,432.94 L74.73,426.36 L74.88,419.10 L75.02,411.23 L75.16,402.84 L75.30,394.00 L75.44,384.80 L75.58,375.33 L75.72,365.67 L75.86,355.92 L76.01,346.17 L76.15,336.50 L76.29,326.99 L76.43,317.74 L76.57,308.82 L76.71,300.31 L76.85,292.27 L76.99,284.79 L77.13,277.91 L77.28,271.68 L77.42,266.17 L77.56,261.41 L77.70,257.44 L77.84,254.28 L77.98,251.94 L78.12,250.46 L78.26,249.83 L78.41,250.04 L78.55,251.10 L78.69,252.98 L78.83,255.67 L78.97,259.13 L79.11,263.33 L79.25,268.24 L79.39,273.80 L79.54,279.97 L79.68,286.69 L79.82,293.92 L79.96,301.58 L80.10,309.61 L80.24,317.95 L80.38,326.54 L80.52,335.30 L80.67,344.17 L80.81,353.09 L80.95,361.97 L81.09,370.76 L81.23,379.39 L81.37,387.81 L81.51,395.94 L81.65,403.74 L81.80,411.14 L81.94,418.11 L82.08,424.58 L82.22,430.53 L82.36,435.90 L82.50,440.68 L82.64,444.82 L82.78,448.30 L82.93,451.11 L83.07,453.23 L83.21,454.65 L83.35,455.37 L83.49,455.39 L83.63,454.70 L83.77,453.33 L83.91,451.28 L84.05,448.58 L84.20,445.24 L84.34,441.29 L84.48,436.77 L84.62,431.70 L84.76,426.12 L84.90,420.07 L85.04,413.59 L85.18,406.73 L85.33,399.53 L85.47,392.04 L85.61,384.31 L85.75,376.38 L85.89,368.30 L86.03,360.13 L86.17,351.92 L86.31,343.71 L86.46,335.55 L86.60,327.49 L86.74,319.57 L86.88,311.85 L87.02,304.37 L87.16,297.15 L87.30,290.26 L87.44,283.72 L87.59,277.56 L87.73,271.82 L87.87,266.53 L88.01,261.71 L88.15,257.38 L88.29,253.57 L88.43,250.29 L88.57,247.56 L88.72,245.38 L88.86,243.77 L89.00,242.72 L89.14,242.24 L89.28,242.33 L89.42,242.98 L89.56,244.18 L89.70,245.92 L89.85,248.19 L89.99,250.97 L90.13,254.25 L90.27,258.00 L90.41,262.20 L90.55,266.82 L90.69,271.84 L90.83,277.24 L90.97,282.97 L91.12,289.01 L91.26,295.33 L91.40,301.89 L91.54,308.66 L91.68,315.61 L91.82,322.70 L91.96,329.89 L92.10,337.15 L92.25,344.45 L92.39,351.75 L92.53,359.01 L92.67,366.21 L92.81,373.31 L92.95,380.27 L93.09,387.08 L93.23,393.69 L93.38,400.08 L93.52,406.22 L93.66,412.10 L93.80,417.67 L93.94,422.93 L94.08,427.84 L94.22,432.40 L94.36,436.58 L94.51,440.38 L94.65,443.76 L94.79,446.74 L94.93,449.29 L95.07,451.40 L95.21,453.08 L95.35,454.32 L95.49,455.12 L95.64,455.48 L95.78,455.39 L95.92,454.87 L96.06,453.92 L96.20,452.54 L96.34,450.75 L96.48,448.55 L96.62,445.96 L96.77,442.99 L96.91,439.66 L97.05,435.98 L97.19,431.96 L97.33,427.63 L97.47,423.00 L97.61,418.10 L97.75,412.94 L97.89,407.55 L98.04,401.95 L98.18,396.16 L98.32,390.20 L98.46,384.09 L98.60,377.87 L98.74,371.55 L98.88,365.15 L99.02,358.71 L99.17,352.23 L99.31,345.76 L99.45,339.30 L99.59,332.88 L99.73,326.53 L99.87,320.25 L100.01,314.09 L100.15,308.05 L100.30,302.15 L100.44,296.42 L100.58,290.86 L100.72,285.51 L100.86,280.37 L101.00,275.46 L101.14,270.79 L101.28,266.38 L101.43,262.23 L101.57,258.37 L101.71,254.79 L101.85,251.52 L101.99,248.55 L102.13,245.89 L102.27,243.56 L102.41,241.54 L102.56,239.86 L102.70,238.50 L102.84,237.47 L102.98,236.78 L103.12,236.42 L103.26,236.38 L103.40,236.67 L103.54,237.28 L103.69,238.22 L103.83,239.46 L103.97,241.01 L104.11,242.86 L104.25,245.00 L104.39,247.43 L104.53,250.12 L104.67,253.08 L104.82,256.30 L104.96,259.75 L105.10,263.44 L105.24,267.34 L105.38,271.45 L105.52,275.75 L105.66,280.23 L105.80,284.88 L105.94,289.67 L106.09,294.60 L106.23,299.66 L106.37,304.82 L106.51,310.08 L106.65,315.42 L106.79,320.82 L106.93,326.27 L107.07,331.75 L107.22,337.26 L107.36,342.77 L107.50,348.27 L107.64,353.76 L107.78,359.21 L107.92,364.61 L108.06,369.94 L108.20,375.21 L108.35,380.39 L108.49,385.47 L108.63,390.44 L108.77,395.28 L108.91,400.00 L109.05,404.58 L109.19,409.00 L109.33,413.26 L109.48,417.36 L109.62,421.27 L109.76,425.01 L109.90,428.54 L110.04,431.88 L110.18,435.02 L110.32,437.95 L110.46,440.66 L110.61,443.15 L110.75,445.41 L110.89,447.46 L111.03,449.27 L111.17,450.85 L111.31,452.20 L111.45,453.32 L111.59,454.20 L111.74,454.84 L111.88,455.26 L112.02,455.44 L112.16,455.39 L112.30,455.11 L112.44,454.61 L112.58,453.88 L112.72,452.93 L112.86,451.77 L113.01,450.39 L113.15,448.81 L113.29,447.02 L113.43,445.03 L113.57,442.85 L113.71,440.49 L113.85,437.95 L113.99,435.23 L114.14,432.35 L114.28,429.30 L114.42,426.10 L114.56,422.76 L114.70,419.28 L114.84,415.67 L114.98,411.94 L115.12,408.09 L115.27,404.13 L115.41,400.08 L115.55,395.94 L115.69,391.71 L115.83,387.42 L115.97,383.05 L116.11,378.63 L116.25,374.16 L116.40,369.65 L116.54,365.11 L116.68,360.55 L116.82,355.97 L116.96,351.38 L117.10,346.79 L117.24,342.21 L117.38,337.65 L117.53,333.11 L117.67,328.60 L117.81,324.13 L117.95,319.70 L118.09,315.33 L118.23,311.01 L118.37,306.76 L118.51,302.58 L118.66,298.48 L118.80,294.46 L118.94,290.54 L119.08,286.70 L119.22,282.97 L119.36,279.34 L119.50,275.82 L119.64,272.42 L119.78,269.13 L119.93,265.97 L120.07,262.94 L120.21,260.03 L120.35,257.26 L120.49,254.62 L120.63,252.12 L120.77,249.77 L120.91,247.55 L121.06,245.49 L121.20,243.57 L121.34,241.80 L121.48,240.18 L121.62,238.71 L121.76,237.39 L121.90,236.23 L122.04,235.22 L122.19,234.36 L122.33,233.66 L122.47,233.11 L122.61,232.71 L122.75,232.46 L122.89,232.37 L123.03,232.42 L123.17,232.62 L123.32,232.97 L123.46,233.46 L123.60,234.09 L123.74,234.87 L123.88,235.78 L124.02,236.83 L124.16,238.02 L124.30,239.33 L124.45,240.78 L124.59,242.34 L124.73,244.04 L124.87,245.85 L125.01,247.77 L125.15,249.81 L125.29,251.96 L125.43,254.21 L125.58,256.57 L125.72,259.02 L125.86,261.57 L126.00,264.20 L126.14,266.93 L126.28,269.73 L126.42,272.62 L126.56,275.58 L126.70,278.61 L126.85,281.70 L126.99,284.86 L127.13,288.07 L127.27,291.34 L127.41,294.66 L127.55,298.03 L127.69,301.43 L127.83,304.87 L127.98,308.35 L128.12,311.85 L128.26,315.38 L128.40,318.93 L128.54,322.49 L128.68,326.07 L128.82,329.66 L128.96,333.25 L129.11,336.84 L129.25,340.43 L129.39,344.01 L129.53,347.59 L129.67,351.14 L129.81,354.68 L129.95,358.20 L130.09,361.70 L130.24,365.17 L130.38,368.60 L130.52,372.01 L130.66,375.37 L130.80,378.69 L130.94,381.98 L131.08,385.21 L131.22,388.40 L131.37,391.53 L131.51,394.61 L131.65,397.64 L131.79,400.60 L131.93,403.50 L132.07,406.34 L132.21,409.12 L132.35,411.82 L132.50,414.46 L132.64,417.03 L132.78,419.52 L132.92,421.94 L133.06,424.28 L133.20,426.54 L133.34,428.72 L133.48,430.82 L133.63,432.85 L133.77,434.78 L133.91,436.64 L134.05,438.41 L134.19,440.09 L134.33,441.69 L134.47,443.20 L134.61,444.63 L134.75,445.96 L134.90,447.21 L135.04,448.37 L135.18,449.44 L135.32,450.42 L135.46,451.31 L135.60,452.11 L135.74,452.83 L135.88,453.45 L136.03,453.99 L136.17,454.44 L136.31,454.80 L136.45,455.08 L136.59,455.26 L136.73,455.36 L136.87,455.38 L137.01,455.31 L137.16,455.16 L137.30,454.92 L137.44,454.60 L137.58,454.20 L137.72,453.72 L137.86,453.16 L138.00,452.53 L138.14,451.81 L138.29,451.02 L138.43,450.16 L138.57,449.22 L138.71,448.21 L138.85,447.13 L138.99,445.97 L139.13,444.75 L139.27,443.47 L139.42,442.12 L139.56,440.70 L139.70,439.23 L139.84,437.69 L139.98,436.09 L140.12,434.44 L140.26,432.73 L140.40,430.97 L140.55,429.15 L140.69,427.29 L140.83,425.37 L140.97,423.41 L141.11,421.40 L141.25,419.34 L141.39,417.25 L141.53,415.11 L141.67,412.94 L141.82,410.72 L141.96,408.48 L142.10,406.19 L142.24,403.88 L142.38,401.54 L142.52,399.16 L142.66,396.76 L142.80,394.34 L142.95,391.89 L143.09,389.42 L143.23,386.93 L143.37,384.42 L143.51,381.89 L143.65,379.35 L143.79,376.79 L143.93,374.23 L144.08,371.65 L144.22,369.06 L144.36,366.47 L144.50,363.87 L144.64,361.27 L144.78,358.66 L144.92,356.05 L145.06,353.44 L145.21,350.84 L145.35,348.24 L145.49,345.64 L145.63,343.05 L145.77,340.46 L145.91,337.89 L146.05,335.32 L146.19,332.77 L146.34,330.22 L146.48,327.70 L146.62,325.18 L146.76,322.69 L146.90,320.21 L147.04,317.75 L147.18,315.30 L147.32,312.88 L147.47,310.48 L147.61,308.11 L147.75,305.75 L147.89,303.43 L148.03,301.12 L148.17,298.85 L148.31,296.60 L148.45,294.38 L148.59,292.19 L148.74,290.03 L148.88,287.90 L149.02,285.80 L149.16,283.73 L149.30,281.70 L149.44,279.70 L149.58,277.74 L149.72,275.80 L149.87,273.91 L150.01,272.05 L150.15,270.23 L150.29,268.44 L150.43,266.70 L150.57,264.99 L150.71,263.32 L150.85,261.69 L151.00,260.09 L151.14,258.54 L151.28,257.03 L151.42,255.56 L151.56,254.13 L151.70,252.74 L151.84,251.39 L151.98,250.08 L152.13,248.81 L152.27,247.59 L152.41,246.40 L152.55,245.26 L152.69,244.17 L152.83,243.11 L152.97,242.10 L153.11,241.12 L153.26,240.20 L153.40,239.31 L153.54,238.47 L153.68,237.66 L153.82,236.90 L153.96,236.19 L154.10,235.51 L154.24,234.88 L154.39,234.29 L154.53,233.74 L154.67,233.23 L154.81,232.77 L154.95,232.34 L155.09,231.96 L155.23,231.62 L155.37,231.32 L155.51,231.06 L155.66,230.84 L155.80,230.66 L155.94,230.52 L156.08,230.42 L156.22,230.35 L156.36,230.33 L156.50,230.34 L156.64,230.40 L156.79,230.49 L156.93,230.62 L157.07,230.78 L157.21,230.99 L157.35,231.22 L157.49,231.50 L157.63,231.81 L157.77,232.15 L157.92,232.53 L158.06,232.95 L158.20,233.40 L158.34,233.88 L158.48,234.39 L158.62,234.94 L158.76,235.52 L158.90,236.13 L159.05,236.77 L159.19,237.44 L159.33,238.14 L159.47,238.87 L159.61,239.64 L159.75,240.43 L159.89,241.24 L160.03,242.09 L160.18,242.96 L160.32,243.86 L160.46,244.79 L160.60,245.74 L160.74,246.71 L160.88,247.72 L161.02,248.74 L161.16,249.79 L161.31,250.86 L161.45,251.96 L161.59,253.07 L161.73,254.21 L161.87,255.37 L162.01,256.55 L162.15,257.75 L162.29,258.97 L162.44,260.21 L162.58,261.46 L162.72,262.74 L162.86,264.03 L163.00,265.34 L163.14,266.67 L163.28,268.01 L163.42,269.37 L163.56,270.74 L163.71,272.12 L163.85,273.52 L163.99,274.94 L164.13,276.36 L164.27,277.80 L164.41,279.25 L164.55,280.72 L164.69,282.19 L164.84,283.67 L164.98,285.17 L165.12,286.67 L165.26,288.18 L165.40,289.70 L165.54,291.23 L165.68,292.77 L165.82,294.32 L165.97,295.87 L166.11,297.42 L166.25,298.99 L166.39,300.56 L166.53,302.13 L166.67,303.71 L166.81,305.29 L166.95,306.88 L167.10,308.47 L167.24,310.06 L167.38,311.66 L167.52,313.26 L167.66,314.86 L167.80,316.46 L167.94,318.06 L168.08,319.66 L168.23,321.27 L168.37,322.87 L168.51,324.47 L168.65,326.08 L168.79,327.68 L168.93,329.28 L169.07,330.87 L169.21,332.47 L169.36,334.06 L169.50,335.65 L169.64,337.24 L169.78,338.82 L169.92,340.40 L170.06,341.98 L170.20,343.55 L170.34,345.12 L170.48,346.68 L170.63,348.24 L170.77,349.79 L170.91,351.33 L171.05,352.87 L171.19,354.40 L171.33,355.93 L171.47,357.45 L171.61,358.96 L171.76,360.47 L171.90,361.96 L172.04,363.45 L172.18,364.94 L172.32,366.41 L172.46,367.88 L172.60,369.33 L172.74,370.78 L172.89,372.22 L173.03,373.65 L173.17,375.07 L173.31,376.48 L173.45,377.88 L173.59,379.27 L173.73,380.65 L173.87,382.02 L174.02,383.38 L174.16,384.73 L174.30,386.06 L174.44,387.39 L174.58,388.71 L174.72,390.01 L174.86,391.31 L175.00,392.59 L175.15,393.86 L175.29,395.12 L175.43,396.36 L175.57,397.60 L175.71,398.82 L175.85,400.03 L175.99,401.23 L176.13,402.41 L176.28,403.59 L176.42,404.75 L176.56,405.89 L176.70,407.03 L176.84,408.15 L176.98,409.26 L177.12,410.36 L177.26,411.44 L177.40,412.51 L177.55,413.57 L177.69,414.61 L177.83,415.64 L177.97,416.66 L178.11,417.66 L178.25,418.65 L178.39,419.63 L178.53,420.59 L178.68,421.54 L178.82,422.48 L178.96,423.40 L179.10,424.31 L179.24,425.20 L179.38,426.09 L179.52,426.95 L179.66,427.81 L179.81,428.65 L179.95,429.48 L180.09,430.29 L180.23,431.09 L180.37,431.88 L180.51,432.65 L180.65,433.41 L180.79,434.15 L180.94,434.88 L181.08,435.60 L181.22,436.30 L181.36,436.99 L181.50,437.67 L181.64,438.33 L181.78,438.98 L181.92,439.62 L182.07,440.24 L182.21,440.85 L182.35,441.45 L182.49,442.03 L182.63,442.60 L182.77,443.15 L182.91,443.70 L183.05,444.23 L183.20,444.74 L183.34,445.24 L183.48,445.73 L183.62,446.21 L183.76,446.67 L183.90,447.12 L184.04,447.56 L184.18,447.99 L184.32,448.40 L184.47,448.80 L184.61,449.19 L184.75,449.56 L184.89,449.92 L185.03,450.27 L185.17,450.61 L185.31,450.93 L185.45,451.24 L185.60,451.54 L185.74,451.83 L185.88,452.11 L186.02,452.37 L186.16,452.62 L186.30,452.86 L186.44,453.09 L186.58,453.31 L186.73,453.51 L186.87,453.70 L187.01,453.89 L187.15,454.06 L187.29,454.22 L187.43,454.36 L187.57,454.50 L187.71,454.63 L187.86,454.74 L188.00,454.84 L188.14,454.94 L188.28,455.02 L188.42,455.09 L188.56,455.15 L188.70,455.20 L188.84,455.24 L188.99,455.27 L189.13,455.29 L189.27,455.30 L189.41,455.30 L189.55,455.29 L189.69,455.27 L189.83,455.23 L189.97,455.19 L190.12,455.14 L190.26,455.08 L190.40,455.02 L190.54,454.94 L190.68,454.85 L190.82,454.75 L190.96,454.65 L191.10,454.53 L191.25,454.41 L191.39,454.27 L191.53,454.13 L191.67,453.98 L191.81,453.82 L191.95,453.66 L192.09,453.48 L192.23,453.30 L192.37,453.10 L192.52,452.90 L192.66,452.70 L192.80,452.48 L192.94,452.26 L193.08,452.02 L193.22,451.78 L193.36,451.54 L193.50,451.28 L193.65,451.02 L193.79,450.75 L193.93,450.47 L194.07,450.19 L194.21,449.90 L194.35,449.60 L194.49,449.30 L194.63,448.98 L194.78,448.67 L194.92,448.34 L195.06,448.01 L195.20,447.67 L195.34,447.33 L195.48,446.98 L195.62,446.62 L195.76,446.26 L195.91,445.89 L196.05,445.51 L196.19,445.13 L196.33,444.74 L196.47,444.35 L196.61,443.95 L196.75,443.55 L196.89,443.14 L197.04,442.73 L197.18,442.31 L197.32,441.88 L197.46,441.45 L197.60,441.02 L197.74,440.58 L197.88,440.13 L198.02,439.68 L198.17,439.23 L198.31,438.77 L198.45,438.30 L198.59,437.83 L198.73,437.36 L198.87,436.88 L199.01,436.40 L199.15,435.91 L199.29,435.42 L199.44,434.93 L199.58,434.43 L199.72,433.93 L199.86,433.42 L200.00,432.91 L200.14,432.40 L200.28,431.88 L200.42,431.36 L200.57,430.84 L200.71,430.31 L200.85,429.78 L200.99,429.24 L201.13,428.71 L201.27,428.16 L201.41,427.62 L201.55,427.07 L201.70,426.52 L201.84,425.97 L201.98,425.41 L202.12,424.86 L202.26,424.29 L202.40,423.73 L202.54,423.16 L202.68,422.59 L202.83,422.02 L202.97,421.45 L203.11,420.87 L203.25,420.29 L203.39,419.71 L203.53,419.13 L203.67,418.54 L203.81,417.95 L203.96,417.36 L204.10,416.77 L204.24,416.18 L204.38,415.58 L204.52,414.99 L204.66,414.39 L204.80,413.79 L204.94,413.19 L205.09,412.58 L205.23,411.98 L205.37,411.37 L205.51,410.76 L205.65,410.15 L205.79,409.54 L205.93,408.93 L206.07,408.32 L206.21,407.70 L206.36,407.08 L206.50,406.47 L206.64,405.85 L206.78,405.23 L206.92,404.61 L207.06,403.99 L207.20,403.37 L207.34,402.75 L207.49,402.12 L207.63,401.50 L207.77,400.87 L207.91,400.25 L208.05,399.62 L208.19,399.00 L208.33,398.37 L208.47,397.74 L208.62,397.11 L208.76,396.49 L208.90,395.86 L209.04,395.23 L209.18,394.60 L209.32,393.97 L209.46,393.34 L209.60,392.71 L209.75,392.08 L209.89,391.45 L210.03,390.82 L210.17,390.19 L210.31,389.56 L210.45,388.93 L210.59,388.30 L210.73,387.67 L210.88,387.04 L211.02,386.41 L211.16,385.78 L211.30,385.15 L211.44,384.52 L211.58,383.89 L211.72,383.26 L211.86,382.64 L212.01,382.01 L212.15,381.38 L212.29,380.75 L212.43,380.13 L212.57,379.50 L212.71,378.88 L212.85,378.25 L212.99,377.63 L213.13,377.00 L213.28,376.38 L213.42,375.76 L213.56,375.14 L213.70,374.52 L213.84,373.90 L213.98,373.28 L214.12,372.66 L214.26,372.04 L214.41,371.42 L214.55,370.81 L214.69,370.19 L214.83,369.58 L214.97,368.97 L215.11,368.35 L215.25,367.74 L215.39,367.13 L215.54,366.52 L215.68,365.91 L215.82,365.31 L215.96,364.70 L216.10,364.09 L216.24,363.49 L216.38,362.89 L216.52,362.29 L216.67,361.69 L216.81,361.09 L216.95,360.49 L217.09,359.89 L217.23,359.29 L217.37,358.70 L217.51,358.11 L217.65,357.51 L217.80,356.92 L217.94,356.33 L218.08,355.75 L218.22,355.16 L218.36,354.57 L218.50,353.99 L218.64,353.41 L218.78,352.82 L218.93,352.24 L219.07,351.67 L219.21,351.09 L219.35,350.51 L219.49,349.94 L219.63,349.37 L219.77,348.79 L219.91,348.22 L220.06,347.66 L220.20,347.09 L220.34,346.52 L220.48,345.96 L220.62,345.40 L220.76,344.84 L220.90,344.28 L221.04,343.72 L221.18,343.16 L221.33,342.61 L221.47,342.06 L221.61,341.51 L221.75,340.96 L221.89,340.41 L222.03,339.86 L222.17,339.32 L222.31,338.77 L222.46,338.23 L222.60,337.69 L222.74,337.15 L222.88,336.62 L223.02,336.08 L223.16,335.55 L223.30,335.02 L223.44,334.49 L223.59,333.96 L223.73,333.44 L223.87,332.91 L224.01,332.39 L224.15,331.87 L224.29,331.35 L224.43,330.83 L224.57,330.31 L224.72,329.80 L224.86,329.29 L225.00,328.78 L225.14,328.27 L225.28,327.76 L225.42,327.26 L225.56,326.75 L225.70,326.25 L225.85,325.75 L225.99,325.25 L226.13,324.76 L226.27,324.26 L226.41,323.77 L226.55,323.28 L226.69,322.79 L226.83,322.30 L226.98,321.81 L227.12,321.33 L227.26,320.85 L227.40,320.37 L227.54,319.89 L227.68,319.41 L227.82,318.94 L227.96,318.46 L228.10,317.99 L228.25,317.52 L228.39,317.06 L228.53,316.59 L228.67,316.13 L228.81,315.66 L228.95,315.20 L229.09,314.75 L229.23,314.29 L229.38,313.83 L229.52,313.38 L229.66,312.93 L229.80,312.48 L229.94,312.03 L230.08,311.59 L230.22,311.14 L230.36,310.70 L230.51,310.26 L230.65,309.82 L230.79,309.38 L230.93,308.95 L231.07,308.51 L231.21,308.08 L231.35,307.65 L231.49,307.23 L231.64,306.80 L231.78,306.38 L231.92,305.95 L232.06,305.53 L232.20,305.11 L232.34,304.70 L232.48,304.28 L232.62,303.87 L232.77,303.45 L232.91,303.04 L233.05,302.64 L233.19,302.23 L233.33,301.83 L233.47,301.42 L233.61,301.02 L233.75,300.62 L233.90,300.22 L234.04,299.83 L234.18,299.43 L234.32,299.04 L234.46,298.65 L234.60,298.26 L234.74,297.88 L234.88,297.49 L235.02,297.11 L235.17,296.72 L235.31,296.34 L235.45,295.97 L235.59,295.59 L235.73,295.21 L235.87,294.84 L236.01,294.47 L236.15,294.10 L236.30,293.73 L236.44,293.36 L236.58,293.00 L236.72,292.64 L236.86,292.28 L237.00,291.92 L237.14,291.56 L237.28,291.20 L237.43,290.85 L237.57,290.49 L237.71,290.14 L237.85,289.79 L237.99,289.44 L238.13,289.10 L238.27,288.75 L238.41,288.41 L238.56,288.07 L238.70,287.73 L238.84,287.39 L238.98,287.05 L239.12,286.72 L239.26,286.39 L239.40,286.05 L239.54,285.72 L239.69,285.40 L239.83,285.07 L239.97,284.74 L240.11,284.42 L240.25,284.10 L240.39,283.78 L240.53,283.46 L240.67,283.14 L240.82,282.82 L240.96,282.51 L241.10,282.20 L241.24,281.89 L241.38,281.58 L241.52,281.27 L241.66,280.96 L241.80,280.66 L241.94,280.35 L242.09,280.05 L242.23,279.75 L242.37,279.45 L242.51,279.16 L242.65,278.86 L242.79,278.57 L242.93,278.27 L243.07,277.98 L243.22,277.69 L243.36,277.40 L243.50,277.12 L243.64,276.83 L243.78,276.55 L243.92,276.26 L244.06,275.98 L244.20,275.70 L244.35,275.42 L244.49,275.15 L244.63,274.87 L244.77,274.60 L244.91,274.33 L245.05,274.05 L245.19,273.78 L245.33,273.52 L245.48,273.25 L245.62,272.98 L245.76,272.72 L245.90,272.46 L246.04,272.20 L246.18,271.94 L246.32,271.68 L246.46,271.42 L246.61,271.16 L246.75,270.91 L246.89,270.66 L247.03,270.40 L247.17,270.15 L247.31,269.90 L247.45,269.66 L247.59,269.41 L247.74,269.16 L247.88,268.92 L248.02,268.68 L248.16,268.44 L248.30,268.20 L248.44,267.96 L248.58,267.72 L248.72,267.48 L248.87,267.25 L249.01,267.02 L249.15,266.78 L249.29,266.55 L249.43,266.32 L249.57,266.09 L249.71,265.87 L249.85,265.64 L249.99,265.41 L250.14,265.19 L250.28,264.97 L250.42,264.75 L250.56,264.53 L250.70,264.31 L250.84,264.09 L250.98,263.87 L251.12,263.66 L251.27,263.44 L251.41,263.23 L251.55,263.02 L251.69,262.81 L251.83,262.60 L251.97,262.39 L252.11,262.19 L252.25,261.98 L252.40,261.77 L252.54,261.57 L252.68,261.37 L252.82,261.17 L252.96,260.97 L253.10,260.77 L253.24,260.57 L253.38,260.37 L253.53,260.18 L253.67,259.98 L253.81,259.79 L253.95,259.60 L254.09,259.40 L254.23,259.21 L254.37,259.03 L254.51,258.84 L254.66,258.65 L254.80,258.46 L254.94,258.28 L255.08,258.09 L255.22,257.91 L255.36,257.73 L255.50,257.55 L255.64,257.37 L255.79,257.19 L255.93,257.01 L256.07,256.84 L256.21,256.66 L256.35,256.49 L256.49,256.31 L256.63,256.14 L256.77,255.97 L256.91,255.80 L257.06,255.63 L257.20,255.46 L257.34,255.29 L257.48,255.12 L257.62,254.96 L257.76,254.79 L257.90,254.63 L258.04,254.47 L258.19,254.30 L258.33,254.14 L258.47,253.98 L258.61,253.82 L258.75,253.66 L258.89,253.51 L259.03,253.35 L259.17,253.19 L259.32,253.04 L259.46,252.89 L259.60,252.73 L259.74,252.58 L259.88,252.43 L260.02,252.28 L260.16,252.13 L260.30,251.98 L260.45,251.83 L260.59,251.69 L260.73,251.54 L260.87,251.40 L261.01,251.25 L261.15,251.11 L261.29,250.97 L261.43,250.83 L261.58,250.68 L261.72,250.55 L261.86,250.41 L262.00,250.27 L262.14,250.13 L262.28,249.99 L262.42,249.86 L262.56,249.72 L262.71,249.59 L262.85,249.46 L262.99,249.32 L263.13,249.19 L263.27,249.06 L263.41,248.93 L263.55,248.80 L263.69,248.67 L263.83,248.54 L263.98,248.42 L264.12,248.29 L264.26,248.16 L264.40,248.04 L264.54,247.92 L264.68,247.79 L264.82,247.67 L264.96,247.55 L265.11,247.43 L265.25,247.31 L265.39,247.19 L265.53,247.07 L265.67,246.95 L265.81,246.83 L265.95,246.72 L266.09,246.60 L266.24,246.48 L266.38,246.37 L266.52,246.26 L266.66,246.14 L266.80,246.03 L266.94,245.92 L267.08,245.81 L267.22,245.70 L267.37,245.59 L267.51,245.48 L267.65,245.37 L267.79,245.26 L267.93,245.15 L268.07,245.05 L268.21,244.94 L268.35,244.84 L268.50,244.73 L268.64,244.63 L268.78,244.53 L268.92,244.42 L269.06,244.32 L269.20,244.22 L269.34,244.12 L269.48,244.02 L269.63,243.92 L269.77,243.82 L269.91,243.72 L270.05,243.63 L270.19,243.53 L270.33,243.43 L270.47,243.34 L270.61,243.24 L270.75,243.15 L270.90,243.05 L271.04,242.96 L271.18,242.87 L271.32,242.77 L271.46,242.68 L271.60,242.59 L271.74,242.50 L271.88,242.41 L272.03,242.32 L272.17,242.23 L272.31,242.14 L272.45,242.06 L272.59,241.97 L272.73,241.88 L272.87,241.80 L273.01,241.71 L273.16,241.63 L273.30,241.54 L273.44,241.46 L273.58,241.38 L273.72,241.29 L273.86,241.21 L274.00,241.13 L274.14,241.05 L274.29,240.97 L274.43,240.89 L274.57,240.81 L274.71,240.73 L274.85,240.65 L274.99,240.57 L275.13,240.49 L275.27,240.42 L275.42,240.34 L275.56,240.26 L275.70,240.19 L275.84,240.11 L275.98,240.04 L276.12,239.96 L276.26,239.89 L276.40,239.82 L276.55,239.74 L276.69,239.67 L276.83,239.60 L276.97,239.53 L277.11,239.46 L277.25,239.39 L277.39,239.32 L277.53,239.25 L277.68,239.18 L277.82,239.11 L277.96,239.04 L278.10,238.97 L278.24,238.91 L278.38,238.84 L278.52,238.77 L278.66,238.71 L278.80,238.64 L278.95,238.58 L279.09,238.51 L279.23,238.45 L279.37,238.38 L279.51,238.32 L279.65,238.26 L279.79,238.19 L279.93,238.13 L280.08,238.07 L280.22,238.01 L280.36,237.95 L280.50,237.89 L280.64,237.83 L280.78,237.77 L280.92,237.71 L281.06,237.65 L281.21,237.59 L281.35,237.53 L281.49,237.47 L281.63,237.42 L281.77,237.36 L281.91,237.30 L282.05,237.25 L282.19,237.19 L282.34,237.13 L282.48,237.08 L282.62,237.03 L282.76,236.97 L282.90,236.92 L283.04,236.86 L283.18,236.81 L283.32,236.76 L283.47,236.70 L283.61,236.65 L283.75,236.60 L283.89,236.55 L284.03,236.50 L284.17,236.45 L284.31,236.40 L284.45,236.35 L284.60,236.30 L284.74,236.25 L284.88,236.20 L285.02,236.15 L285.16,236.10 L285.30,236.05 L285.44,236.00 L285.58,235.96 L285.72,235.91 L285.87,235.86 L286.01,235.82 L286.15,235.77 L286.29,235.72 L286.43,235.68 L286.57,235.63 L286.71,235.59 L286.85,235.54 L287.00,235.50 L287.14,235.45 L287.28,235.41 L287.42,235.37 L287.56,235.32 L287.70,235.28 L287.84,235.24 L287.98,235.20 L288.13,235.15 L288.27,235.11 L288.41,235.07 L288.55,235.03 L288.69,234.99 L288.83,234.95 L288.97,234.91 L289.11,234.87 L289.26,234.83 L289.40,234.79 L289.54,234.75 L289.68,234.71 L289.82,234.67 L289.96,234.63 L290.10,234.60 L290.24,234.56 L290.39,234.52 L290.53,234.48 L290.67,234.45 L290.81,234.41 L290.95,234.37 L291.09,234.34 L291.23,234.30 L291.37,234.27 L291.52,234.23 L291.66,234.19 L291.80,234.16 L291.94,234.13 L292.08,234.09 L292.22,234.06 L292.36,234.02 L292.50,233.99 L292.64,233.96 L292.79,233.92 L292.93,233.89 L293.07,233.86 L293.21,233.82 L293.35,233.79 L293.49,233.76 L293.63,233.73 L293.77,233.70 L293.92,233.66 L294.06,233.63 L294.20,233.60 L294.34,233.57 L294.48,233.54 L294.62,233.51 L294.76,233.48 L294.90,233.45 L295.05,233.42 L295.19,233.39 L295.33,233.36 L295.47,233.33 L295.61,233.31 L295.75,233.28 L295.89,233.25 L296.03,233.22 L296.18,233.19 L296.32,233.16 L296.46,233.14 L296.60,233.11 L296.74,233.08 L296.88,233.06 L297.02,233.03 L297.16,233.00 L297.31,232.98 L297.45,232.95 L297.59,232.92 L297.73,232.90 L297.87,232.87 L298.01,232.85 L298.15,232.82 L298.29,232.80 L298.44,232.77 L298.58,232.75 L298.72,232.72 L298.86,232.70 L299.00,232.68 L299.14,232.65 L299.28,232.63 L299.42,232.60 L299.56,232.58 L299.71,232.56 L299.85,232.53 L299.99,232.51 L300.13,232.49 L300.27,232.47 L300.41,232.44 L300.55,232.42 L300.69,232.40 L300.84,232.38 L300.98,232.36 L301.12,232.34 L301.26,232.31 L301.40,232.29 L301.54,232.27 L301.68,232.25 L301.82,232.23 L301.97,232.21 L302.11,232.19 L302.25,232.17 L302.39,232.15 L302.53,232.13 L302.67,232.11 L302.81,232.09 L302.95,232.07 L303.10,232.05 L303.24,232.03 L303.38,232.01 L303.52,232.00 L303.66,231.98 L303.80,231.96 L303.94,231.94 L304.08,231.92 L304.23,231.90 L304.37,231.89 L304.51,231.87 L304.65,231.85 L304.79,231.83 L304.93,231.82 L305.07,231.80 L305.21,231.78 L305.36,231.76 L305.50,231.75 L305.64,231.73 L305.78,231.71 L305.92,231.70 L306.06,231.68 L306.20,231.67 L306.34,231.65 L306.49,231.63 L306.63,231.62 L306.77,231.60 L306.91,231.59 L307.05,231.57 L307.19,231.56 L307.33,231.54 L307.47,231.53 L307.61,231.51 L307.76,231.50 L307.90,231.48 L308.04,231.47 L308.18,231.45 L308.32,231.44 L308.46,231.42 L308.60,231.41 L308.74,231.40 L308.89,231.38 L309.03,231.37 L309.17,231.36 L309.31,231.34 L309.45,231.33 L309.59,231.32 L309.73,231.30 L309.87,231.29 L310.02,231.28 L310.16,231.26 L310.30,231.25 L310.44,231.24 L310.58,231.23 L310.72,231.21 L310.86,231.20 L311.00,231.19 L311.15,231.18 L311.29,231.17 L311.43,231.15 L311.57,231.14 L311.71,231.13 L311.85,231.12 L311.99,231.11 L312.13,231.10 L312.28,231.08 L312.42,231.07 L312.56,231.06 L312.70,231.05 L312.84,231.04 L312.98,231.03 L313.12,231.02 L313.26,231.01 L313.41,231.00 L313.55,230.99 L313.69,230.98 L313.83,230.97 L313.97,230.96 L314.11,230.95 L314.25,230.94 L314.39,230.93 L314.53,230.92 L314.68,230.91 L314.82,230.90 L314.96,230.89 L315.10,230.88 L315.24,230.87 L315.38,230.86 L315.52,230.85 L315.66,230.84 L315.81,230.83 L315.95,230.83 L316.09,230.82 L316.23,230.81 L316.37,230.80 L316.51,230.79 L316.65,230.78 L316.79,230.77 L316.94,230.77 L317.08,230.76 L317.22,230.75 L317.36,230.74 L317.50,230.73 L317.64,230.72 L317.78,230.72 L317.92,230.71 L318.07,230.70 L318.21,230.69 L318.35,230.69 L318.49,230.68 L318.63,230.67 L318.77,230.66 L318.91,230.66 L319.05,230.65 L319.20,230.64 L319.34,230.64 L319.48,230.63 L319.62,230.62 L319.76,230.61 L319.90,230.61 L320.04,230.60 L320.18,230.59 L320.33,230.59 L320.47,230.58 L320.61,230.58 L320.75,230.57 L320.89,230.56 L321.03,230.56 L321.17,230.55 L321.31,230.54 L321.45,230.54 L321.60,230.53 L321.74,230.53 L321.88,230.52 L322.02,230.51 L322.16,230.51 L322.30,230.50 L322.44,230.50 L322.58,230.49 L322.73,230.49 L322.87,230.48 L323.01,230.48 L323.15,230.47 L323.29,230.47 L323.43,230.46 L323.57,230.45 L323.71,230.45 L323.86,230.44 L324.00,230.44 L324.14,230.43 L324.28,230.43 L324.42,230.43 L324.56,230.42 L324.70,230.42 L324.84,230.41 L324.99,230.41 L325.13,230.40 L325.27,230.40 L325.41,230.39 L325.55,230.39 L325.69,230.38 L325.83,230.38 L325.97,230.38 L326.12,230.37 L326.26,230.37 L326.40,230.36 L326.54,230.36 L326.68,230.36 L326.82,230.35 L326.96,230.35 L327.10,230.34 L327.25,230.34 L327.39,230.34 L327.53,230.33 L327.67,230.33 L327.81,230.33 L327.95,230.32 L328.09,230.32 L328.23,230.31 L328.37,230.31 L328.52,230.31 L328.66,230.30 L328.80,230.30 L328.94,230.30 L329.08,230.29 L329.22,230.29 L329.36,230.29 L329.50,230.29 L329.65,230.28 L329.79,230.28 L329.93,230.28 L330.07,230.27 L330.21,230.27 L330.35,230.27 L330.49,230.26 L330.63,230.26 L330.78,230.26 L330.92,230.26 L331.06,230.25 L331.20,230.25 L331.34,230.25 L331.48,230.25 L331.62,230.24 L331.76,230.24 L331.91,230.24 L332.05,230.24 L332.19,230.23 L332.33,230.23 L332.47,230.23 L332.61,230.23 L332.75,230.23 L332.89,230.22 L333.04,230.22 L333.18,230.22 L333.32,230.22 L333.46,230.21 L333.60,230.21 L333.74,230.21 L333.88,230.21 L334.02,230.21 L334.17,230.21 L334.31,230.20 L334.45,230.20 L334.59,230.20 L334.73,230.20 L334.87,230.20 L335.01,230.19 L335.15,230.19 L335.30,230.19 L335.44,230.19 L335.58,230.19 L335.72,230.19 L335.86,230.19 L336.00,230.18 L336.14,230.18 L336.28,230.18 L336.42,230.18 L336.57,230.18 L336.71,230.18 L336.85,230.18 L336.99,230.17 L337.13,230.17 L337.27,230.17 L337.41,230.17 L337.55,230.17 L337.70,230.17 L337.84,230.17 L337.98,230.17 L338.12,230.17 L338.26,230.16 L338.40,230.16 L338.54,230.16 L338.68,230.16 L338.83,230.16 L338.97,230.16 L339.11,230.16 L339.25,230.16 L339.39,230.16 L339.53,230.16 L339.67,230.16 L339.81,230.16 L339.96,230.15 L340.10,230.15 L340.24,230.15 L340.38,230.15 L340.52,230.15 L340.66,230.15 L340.80,230.15 L340.94,230.15 L341.09,230.15 L341.23,230.15 L341.37,230.15 L341.51,230.15 L341.65,230.15 L341.79,230.15 L341.93,230.15 L342.07,230.15 L342.22,230.15 L342.36,230.15 L342.50,230.15 L342.64,230.15 L342.78,230.15 L342.92,230.15 L343.06,230.14 L343.20,230.14 L343.34,230.14 L343.49,230.14 L343.63,230.14 L343.77,230.14 L343.91,230.14 L344.05,230.14 L344.19,230.14 L344.33,230.14 L344.47,230.14 L344.62,230.14 L344.76,230.14 L344.90,230.14 L345.04,230.14 L345.18,230.14 L345.32,230.14 L345.46,230.14 L345.60,230.14 L345.75,230.14 L345.89,230.14 L346.03,230.14 L346.17,230.14 L346.31,230.14 L346.45,230.14 L346.59,230.15 L346.73,230.15 L346.88,230.15 L347.02,230.15 L347.16,230.15 L347.30,230.15 L347.44,230.15 L347.58,230.15 L347.72,230.15 L347.86,230.15 L348.01,230.15 L348.15,230.15 L348.29,230.15 L348.43,230.15 L348.57,230.15 L348.71,230.15 L348.85,230.15 L348.99,230.15 L349.14,230.15 L349.28,230.15 L349.42,230.15 L349.56,230.15 L349.70,230.15 L349.84,230.15 L349.98,230.15 L350.12,230.16 L350.26,230.16 L350.41,230.16 L350.55,230.16 L350.69,230.16 L350.83,230.16 L350.97,230.16 L351.11,230.16 L351.25,230.16 L351.39,230.16 L351.54,230.16 L351.68,230.16 L351.82,230.16 L351.96,230.16 L352.10,230.16 L352.24,230.17 L352.38,230.17 L352.52,230.17 L352.67,230.17 L352.81,230.17 L352.95,230.17 L353.09,230.17 L353.23,230.17 L353.37,230.17 L353.51,230.17 L353.65,230.17 L353.80,230.17 L353.94,230.18 L354.08,230.18 L354.22,230.18 L354.36,230.18 L354.50,230.18 L354.64,230.18 L354.78,230.18 L354.93,230.18 L355.07,230.18 L355.21,230.18 L355.35,230.18 L355.49,230.19 L355.63,230.19 L355.77,230.19 L355.91,230.19 L356.06,230.19 L356.20,230.19 L356.34,230.19 L356.48,230.19 L356.62,230.19 L356.76,230.19 L356.90,230.20 L357.04,230.20 L357.18,230.20 L357.33,230.20 L357.47,230.20 L357.61,230.20 L357.75,230.20 L357.89,230.20 L358.03,230.20 L358.17,230.21 L358.31,230.21 L358.46,230.21 L358.60,230.21 L358.74,230.21 L358.88,230.21 L359.02,230.21 L359.16,230.21 L359.30,230.21 L359.44,230.22 L359.59,230.22 L359.73,230.22 L359.87,230.22 L360.01,230.22 L360.15,230.22 L360.29,230.22 L360.43,230.22 L360.57,230.23 L360.72,230.23 L360.86,230.23 L361.00,230.23 L361.14,230.23 L361.28,230.23 L361.42,230.23 L361.56,230.23 L361.70,230.24 L361.85,230.24 L361.99,230.24 L362.13,230.24 L362.27,230.24 L362.41,230.24 L362.55,230.24 L362.69,230.24 L362.83,230.25 L362.98,230.25 L363.12,230.25 L363.26,230.25 L363.40,230.25 L363.54,230.25 L363.68,230.25 L363.82,230.26 L363.96,230.26 L364.11,230.26 L364.25,230.26 L364.39,230.26 L364.53,230.26 L364.67,230.26 L364.81,230.26 L364.95,230.27 L365.09,230.27 L365.23,230.27 L365.38,230.27 L365.52,230.27 L365.66,230.27 L365.80,230.27 L365.94,230.28 L366.08,230.28 L366.22,230.28 L366.36,230.28 L366.51,230.28 L366.65,230.28 L366.79,230.28 L366.93,230.29 L367.07,230.29 L367.21,230.29 L367.35,230.29 L367.49,230.29 L367.64,230.29 L367.78,230.29 L367.92,230.30 L368.06,230.30 L368.20,230.30 L368.34,230.30 L368.48,230.30 L368.62,230.30 L368.77,230.30 L368.91,230.31 L369.05,230.31 L369.19,230.31 L369.33,230.31 L369.47,230.31 L369.61,230.31 L369.75,230.31 L369.90,230.32 L370.04,230.32 L370.18,230.32 L370.32,230.32 L370.46,230.32 L370.60,230.32 L370.74,230.33 L370.88,230.33 L371.03,230.33 L371.17,230.33 L371.31,230.33 L371.45,230.33 L371.59,230.33 L371.73,230.34 L371.87,230.34 L372.01,230.34 L372.15,230.34 L372.30,230.34 L372.44,230.34 L372.58,230.34 L372.72,230.35 L372.86,230.35 L373.00,230.35 L373.14,230.35 L373.28,230.35 L373.43,230.35 L373.57,230.36 L373.71,230.36 L373.85,230.36 L373.99,230.36 L374.13,230.36 L374.27,230.36 L374.41,230.36 L374.56,230.37 L374.70,230.37 L374.84,230.37 L374.98,230.37 L375.12,230.37 L375.26,230.37 L375.40,230.38 L375.54,230.38 L375.69,230.38 L375.83,230.38 L375.97,230.38 L376.11,230.38 L376.25,230.38 L376.39,230.39 L376.53,230.39 L376.67,230.39 L376.82,230.39 L376.96,230.39 L377.10,230.39 L377.24,230.40 L377.38,230.40 L377.52,230.40 L377.66,230.40 L377.80,230.40 L377.95,230.40 L378.09,230.40 L378.23,230.41 L378.37,230.41 L378.51,230.41 L378.65,230.41 L378.79,230.41 L378.93,230.41 L379.07,230.42 L379.22,230.42 L379.36,230.42 L379.50,230.42 L379.64,230.42 L379.78,230.42 L379.92,230.42 L380.06,230.43 L380.20,230.43 L380.35,230.43 L380.49,230.43 L380.63,230.43 L380.77,230.43 L380.91,230.44 L381.05,230.44 L381.19,230.44 L381.33,230.44 L381.48,230.44 L381.62,230.44 L381.76,230.44 L381.90,230.45 L382.04,230.45 L382.18,230.45 L382.32,230.45 L382.46,230.45 L382.61,230.45 L382.75,230.46 L382.89,230.46 L383.03,230.46 L383.17,230.46 L383.31,230.46 L383.45,230.46 L383.59,230.46 L383.74,230.47 L383.88,230.47 L384.02,230.47 L384.16,230.47 L384.30,230.47 L384.44,230.47 L384.58,230.48 L384.72,230.48 L384.87,230.48 L385.01,230.48 L385.15,230.48 L385.29,230.48 L385.43,230.48 L385.57,230.49 L385.71,230.49 L385.85,230.49 L385.99,230.49 L386.14,230.49 L386.28,230.49 L386.42,230.49 L386.56,230.50 L386.70,230.50 L386.84,230.50 L386.98,230.50 L387.12,230.50 L387.27,230.50 L387.41,230.51 L387.55,230.51 L387.69,230.51 L387.83,230.51 L387.97,230.51 L388.11,230.51 L388.25,230.51 L388.40,230.52 L388.54,230.52 L388.68,230.52 L388.82,230.52 L388.96,230.52 L389.10,230.52 L389.24,230.52 L389.38,230.53 L389.53,230.53 L389.67,230.53 L389.81,230.53 L389.95,230.53 L390.09,230.53 L390.23,230.53 L390.37,230.54 L390.51,230.54 L390.66,230.54 L390.80,230.54 L390.94,230.54 L391.08,230.54 L391.22,230.55 L391.36,230.55 L391.50,230.55 L391.64,230.55 L391.79,230.55 L391.93,230.55 L392.07,230.55 L392.21,230.56 L392.35,230.56 L392.49,230.56 L392.63,230.56 L392.77,230.56 L392.92,230.56 L393.06,230.56 L393.20,230.57 L393.34,230.57 L393.48,230.57 L393.62,230.57 L393.76,230.57 L393.90,230.57 L394.04,230.57 L394.19,230.58 L394.33,230.58 L394.47,230.58 L394.61,230.58 L394.75,230.58 L394.89,230.58 L395.03,230.58 L395.17,230.59 L395.32,230.59 L395.46,230.59 L395.60,230.59 L395.74,230.59 L395.88,230.59 L396.02,230.59 L396.16,230.60 L396.30,230.60 L396.45,230.60 L396.59,230.60 L396.73,230.60 L396.87,230.60 L397.01,230.60 L397.15,230.61 L397.29,230.61 L397.43,230.61 L397.58,230.61 L397.72,230.61 L397.86,230.61 L398.00,230.61 L398.14,230.61 L398.28,230.62 L398.42,230.62 L398.56,230.62 L398.71,230.62 L398.85,230.62 L398.99,230.62 L399.13,230.62 L399.27,230.63 L399.41,230.63 L399.55,230.63 L399.69,230.63 L399.84,230.63 L399.98,230.63 L400.12,230.63 L400.26,230.64 L400.40,230.64" fill="none" stroke="#00f" stroke-width="1.75" stroke-dasharray="7.6 3.7" stroke-linejoin="round"/></g>
<g clip-path="url(#c2)"><path d="M400.40,257.45 L400.54,253.20 L400.68,250.57 L400.82,249.58 L400.96,250.25 L401.11,252.54 L401.25,256.40 L401.39,261.77 L401.53,268.55 L401.67,276.62 L401.81,285.84 L401.95,296.07 L402.09,307.13 L402.24,318.86 L402.38,331.06 L402.52,343.56 L402.66,356.16 L402.80,368.67 L402.94,380.91 L403.08,392.70 L403.22,403.86 L403.37,414.25 L403.51,423.71 L403.65,432.13 L403.79,439.37 L403.93,445.35 L404.07,450.00 L404.21,453.25 L404.35,455.08 L404.50,455.46 L404.64,454.41 L404.78,451.94 L404.92,448.10 L405.06,442.96 L405.20,436.58 L405.34,429.08 L405.48,420.54 L405.63,411.11 L405.77,400.89 L405.91,390.04 L406.05,378.71 L406.19,367.03 L406.33,355.16 L406.47,343.26 L406.61,331.48 L406.76,319.96 L406.90,308.84 L407.04,298.27 L407.18,288.37 L407.32,279.26 L407.46,271.03 L407.60,263.79 L407.74,257.61 L407.88,252.57 L408.03,248.70 L408.17,246.06 L408.31,244.65 L408.45,244.49 L408.59,245.56 L408.73,247.85 L408.87,251.32 L409.01,255.92 L409.16,261.59 L409.30,268.24 L409.44,275.81 L409.58,284.19 L409.72,293.29 L409.86,302.99 L410.00,313.19 L410.14,323.77 L410.29,334.61 L410.43,345.58 L410.57,356.58 L410.71,367.47 L410.85,378.14 L410.99,388.49 L411.13,398.39 L411.27,407.76 L411.42,416.49 L411.56,424.51 L411.70,431.73 L411.84,438.08 L411.98,443.51 L412.12,447.96 L412.26,451.41 L412.40,453.82 L412.55,455.18 L412.69,455.47 L412.83,454.72 L412.97,452.93 L413.11,450.12 L413.25,446.34 L413.39,441.62 L413.53,436.02 L413.68,429.60 L413.82,422.43 L413.96,414.57 L414.10,406.12 L414.24,397.14 L414.38,387.74 L414.52,377.99 L414.66,368.00 L414.81,357.85 L414.95,347.64 L415.09,337.45 L415.23,327.39 L415.37,317.53 L415.51,307.97 L415.65,298.78 L415.79,290.05 L415.93,281.84 L416.08,274.22 L416.22,267.25 L416.36,261.00 L416.50,255.49 L416.64,250.78 L416.78,246.89 L416.92,243.86 L417.06,241.70 L417.21,240.42 L417.35,240.03 L417.49,240.51 L417.63,241.87 L417.77,244.08 L417.91,247.11 L418.05,250.93 L418.19,255.52 L418.34,260.82 L418.48,266.79 L418.62,273.37 L418.76,280.51 L418.90,288.16 L419.04,296.24 L419.18,304.69 L419.32,313.44 L419.47,322.43 L419.61,331.58 L419.75,340.83 L419.89,350.10 L420.03,359.33 L420.17,368.45 L420.31,377.40 L420.45,386.10 L420.60,394.51 L420.74,402.55 L420.88,410.18 L421.02,417.35 L421.16,424.01 L421.30,430.11 L421.44,435.62 L421.58,440.51 L421.73,444.74 L421.87,448.29 L422.01,451.15 L422.15,453.29 L422.29,454.72 L422.43,455.42 L422.57,455.40 L422.71,454.66 L422.85,453.22 L423.00,451.09 L423.14,448.29 L423.28,444.84 L423.42,440.76 L423.56,436.10 L423.70,430.89 L423.84,425.15 L423.98,418.94 L424.13,412.29 L424.27,405.25 L424.41,397.87 L424.55,390.19 L424.69,382.27 L424.83,374.15 L424.97,365.88 L425.11,357.51 L425.26,349.10 L425.40,340.70 L425.54,332.35 L425.68,324.10 L425.82,316.01 L425.96,308.10 L426.10,300.44 L426.24,293.06 L426.39,286.00 L426.53,279.30 L426.67,272.99 L426.81,267.10 L426.95,261.67 L427.09,256.72 L427.23,252.27 L427.37,248.34 L427.52,244.96 L427.66,242.13 L427.80,239.86 L427.94,238.16 L428.08,237.05 L428.22,236.50 L428.36,236.54 L428.50,237.14 L428.65,238.31 L428.79,240.02 L428.93,242.28 L429.07,245.05 L429.21,248.33 L429.35,252.10 L429.49,256.32 L429.63,260.98 L429.77,266.04 L429.92,271.48 L430.06,277.28 L430.20,283.39 L430.34,289.79 L430.48,296.44 L430.62,303.30 L430.76,310.36 L430.90,317.56 L431.05,324.87 L431.19,332.26 L431.33,339.70 L431.47,347.14 L431.61,354.56 L431.75,361.92 L431.89,369.18 L432.03,376.32 L432.18,383.30 L432.32,390.10 L432.46,396.68 L432.60,403.01 L432.74,409.08 L432.88,414.86 L433.02,420.32 L433.16,425.44 L433.31,430.21 L433.45,434.60 L433.59,438.60 L433.73,442.21 L433.87,445.39 L434.01,448.15 L434.15,450.48 L434.29,452.37 L434.44,453.82 L434.58,454.82 L434.72,455.37 L434.86,455.49 L435.00,455.16 L435.14,454.39 L435.28,453.20 L435.42,451.58 L435.57,449.55 L435.71,447.12 L435.85,444.31 L435.99,441.12 L436.13,437.57 L436.27,433.69 L436.41,429.47 L436.55,424.95 L436.69,420.15 L436.84,415.08 L436.98,409.77 L437.12,404.23 L437.26,398.49 L437.40,392.57 L437.54,386.49 L437.68,380.29 L437.82,373.97 L437.97,367.57 L438.11,361.10 L438.25,354.60 L438.39,348.08 L438.53,341.56 L438.67,335.08 L438.81,328.64 L438.95,322.28 L439.10,316.01 L439.24,309.86 L439.38,303.83 L439.52,297.96 L439.66,292.26 L439.80,286.75 L439.94,281.45 L440.08,276.36 L440.23,271.51 L440.37,266.90 L440.51,262.56 L440.65,258.49 L440.79,254.70 L440.93,251.20 L441.07,248.01 L441.21,245.12 L441.36,242.55 L441.50,240.30 L441.64,238.38 L441.78,236.78 L441.92,235.51 L442.06,234.57 L442.20,233.96 L442.34,233.68 L442.49,233.73 L442.63,234.11 L442.77,234.80 L442.91,235.81 L443.05,237.13 L443.19,238.76 L443.33,240.68 L443.47,242.89 L443.62,245.38 L443.76,248.14 L443.90,251.16 L444.04,254.43 L444.18,257.94 L444.32,261.68 L444.46,265.63 L444.60,269.78 L444.74,274.13 L444.89,278.64 L445.03,283.33 L445.17,288.16 L445.31,293.12 L445.45,298.21 L445.59,303.40 L445.73,308.68 L445.87,314.04 L446.02,319.47 L446.16,324.94 L446.30,330.45 L446.44,335.97 L446.58,341.50 L446.72,347.03 L446.86,352.53 L447.00,358.00 L447.15,363.41 L447.29,368.77 L447.43,374.06 L447.57,379.25 L447.71,384.35 L447.85,389.35 L447.99,394.22 L448.13,398.96 L448.28,403.56 L448.42,408.01 L448.56,412.30 L448.70,416.43 L448.84,420.38 L448.98,424.15 L449.12,427.72 L449.26,431.10 L449.41,434.28 L449.55,437.25 L449.69,440.01 L449.83,442.55 L449.97,444.87 L450.11,446.96 L450.25,448.83 L450.39,450.47 L450.54,451.88 L450.68,453.06 L450.82,454.01 L450.96,454.72 L451.10,455.20 L451.24,455.46 L451.38,455.48 L451.52,455.28 L451.66,454.85 L451.81,454.20 L451.95,453.33 L452.09,452.25 L452.23,450.95 L452.37,449.45 L452.51,447.74 L452.65,445.84 L452.79,443.75 L452.94,441.47 L453.08,439.01 L453.22,436.37 L453.36,433.57 L453.50,430.61 L453.64,427.49 L453.78,424.23 L453.92,420.82 L454.07,417.29 L454.21,413.63 L454.35,409.85 L454.49,405.97 L454.63,401.98 L454.77,397.91 L454.91,393.74 L455.05,389.51 L455.20,385.20 L455.34,380.83 L455.48,376.41 L455.62,371.95 L455.76,367.45 L455.90,362.92 L456.04,358.37 L456.18,353.82 L456.33,349.25 L456.47,344.69 L456.61,340.14 L456.75,335.61 L456.89,331.11 L457.03,326.64 L457.17,322.21 L457.31,317.83 L457.46,313.50 L457.60,309.23 L457.74,305.02 L457.88,300.89 L458.02,296.84 L458.16,292.87 L458.30,289.00 L458.44,285.21 L458.58,281.53 L458.73,277.95 L458.87,274.48 L459.01,271.13 L459.15,267.89 L459.29,264.77 L459.43,261.78 L459.57,258.92 L459.71,256.19 L459.86,253.59 L460.00,251.13 L460.14,248.81 L460.28,246.63 L460.42,244.60 L460.56,242.71 L460.70,240.97 L460.84,239.38 L460.99,237.93 L461.13,236.63 L461.27,235.49 L461.41,234.50 L461.55,233.65 L461.69,232.96 L461.83,232.41 L461.97,232.02 L462.12,231.77 L462.26,231.68 L462.40,231.73 L462.54,231.92 L462.68,232.26 L462.82,232.74 L462.96,233.36 L463.10,234.12 L463.25,235.01 L463.39,236.04 L463.53,237.20 L463.67,238.49 L463.81,239.91 L463.95,241.45 L464.09,243.11 L464.23,244.89 L464.38,246.78 L464.52,248.78 L464.66,250.89 L464.80,253.10 L464.94,255.41 L465.08,257.82 L465.22,260.33 L465.36,262.92 L465.50,265.60 L465.65,268.36 L465.79,271.20 L465.93,274.11 L466.07,277.09 L466.21,280.14 L466.35,283.25 L466.49,286.42 L466.63,289.64 L466.78,292.91 L466.92,296.23 L467.06,299.59 L467.20,302.98 L467.34,306.41 L467.48,309.88 L467.62,313.36 L467.76,316.87 L467.91,320.40 L468.05,323.94 L468.19,327.49 L468.33,331.04 L468.47,334.60 L468.61,338.16 L468.75,341.71 L468.89,345.26 L469.04,348.79 L469.18,352.31 L469.32,355.81 L469.46,359.29 L469.60,362.74 L469.74,366.16 L469.88,369.56 L470.02,372.91 L470.17,376.23 L470.31,379.51 L470.45,382.75 L470.59,385.94 L470.73,389.08 L470.87,392.17 L471.01,395.21 L471.15,398.19 L471.30,401.11 L471.44,403.97 L471.58,406.77 L471.72,409.51 L471.86,412.17 L472.00,414.77 L472.14,417.30 L472.28,419.76 L472.43,422.15 L472.57,424.45 L472.71,426.69 L472.85,428.84 L472.99,430.92 L473.13,432.92 L473.27,434.83 L473.41,436.67 L473.55,438.42 L473.70,440.09 L473.84,441.67 L473.98,443.17 L474.12,444.59 L474.26,445.92 L474.40,447.16 L474.54,448.31 L474.68,449.38 L474.83,450.37 L474.97,451.26 L475.11,452.07 L475.25,452.80 L475.39,453.43 L475.53,453.98 L475.67,454.45 L475.81,454.83 L475.96,455.12 L476.10,455.33 L476.24,455.46 L476.38,455.50 L476.52,455.46 L476.66,455.34 L476.80,455.13 L476.94,454.85 L477.09,454.49 L477.23,454.05 L477.37,453.53 L477.51,452.93 L477.65,452.26 L477.79,451.51 L477.93,450.70 L478.07,449.81 L478.22,448.85 L478.36,447.82 L478.50,446.72 L478.64,445.55 L478.78,444.32 L478.92,443.03 L479.06,441.67 L479.20,440.25 L479.35,438.78 L479.49,437.24 L479.63,435.65 L479.77,434.00 L479.91,432.30 L480.05,430.55 L480.19,428.74 L480.33,426.89 L480.47,424.99 L480.62,423.05 L480.76,421.06 L480.90,419.03 L481.04,416.96 L481.18,414.85 L481.32,412.70 L481.46,410.52 L481.60,408.30 L481.75,406.05 L481.89,403.77 L482.03,401.46 L482.17,399.12 L482.31,396.76 L482.45,394.37 L482.59,391.96 L482.73,389.53 L482.88,387.08 L483.02,384.61 L483.16,382.13 L483.30,379.63 L483.44,377.12 L483.58,374.59 L483.72,372.06 L483.86,369.52 L484.01,366.97 L484.15,364.41 L484.29,361.85 L484.43,359.29 L484.57,356.73 L484.71,354.16 L484.85,351.60 L484.99,349.04 L485.14,346.49 L485.28,343.94 L485.42,341.40 L485.56,338.86 L485.70,336.34 L485.84,333.82 L485.98,331.32 L486.12,328.83 L486.27,326.36 L486.41,323.90 L486.55,321.45 L486.69,319.03 L486.83,316.62 L486.97,314.23 L487.11,311.86 L487.25,309.52 L487.39,307.19 L487.54,304.89 L487.68,302.62 L487.82,300.37 L487.96,298.14 L488.10,295.95 L488.24,293.78 L488.38,291.63 L488.52,289.52 L488.67,287.44 L488.81,285.39 L488.95,283.37 L489.09,281.38 L489.23,279.43 L489.37,277.51 L489.51,275.62 L489.65,273.76 L489.80,271.95 L489.94,270.16 L490.08,268.42 L490.22,266.71 L490.36,265.03 L490.50,263.39 L490.64,261.80 L490.78,260.23 L490.93,258.71 L491.07,257.23 L491.21,255.78 L491.35,254.38 L491.49,253.01 L491.63,251.68 L491.77,250.40 L491.91,249.15 L492.06,247.94 L492.20,246.77 L492.34,245.65 L492.48,244.56 L492.62,243.52 L492.76,242.51 L492.90,241.55 L493.04,240.63 L493.19,239.75 L493.33,238.91 L493.47,238.11 L493.61,237.35 L493.75,236.63 L493.89,235.95 L494.03,235.31 L494.17,234.71 L494.31,234.16 L494.46,233.64 L494.60,233.16 L494.74,232.73 L494.88,232.33 L495.02,231.97 L495.16,231.65 L495.30,231.37 L495.44,231.13 L495.59,230.93 L495.73,230.76 L495.87,230.64 L496.01,230.55 L496.15,230.50 L496.29,230.48 L496.43,230.50 L496.57,230.56 L496.72,230.66 L496.86,230.79 L497.00,230.96 L497.14,231.16 L497.28,231.39 L497.42,231.66 L497.56,231.97 L497.70,232.31 L497.85,232.68 L497.99,233.08 L498.13,233.52 L498.27,233.98 L498.41,234.48 L498.55,235.01 L498.69,235.58 L498.83,236.17 L498.98,236.79 L499.12,237.44 L499.26,238.12 L499.40,238.83 L499.54,239.56 L499.68,240.33 L499.82,241.12 L499.96,241.93 L500.11,242.77 L500.25,243.64 L500.39,244.54 L500.53,245.46 L500.67,246.40 L500.81,247.36 L500.95,248.35 L501.09,249.36 L501.24,250.40 L501.38,251.46 L501.52,252.53 L501.66,253.63 L501.80,254.75 L501.94,255.89 L502.08,257.04 L502.22,258.22 L502.36,259.42 L502.51,260.63 L502.65,261.86 L502.79,263.10 L502.93,264.37 L503.07,265.65 L503.21,266.94 L503.35,268.25 L503.49,269.58 L503.64,270.91 L503.78,272.27 L503.92,273.63 L504.06,275.01 L504.20,276.40 L504.34,277.80 L504.48,279.21 L504.62,280.64 L504.77,282.07 L504.91,283.52 L505.05,284.97 L505.19,286.43 L505.33,287.91 L505.47,289.39 L505.61,290.87 L505.75,292.37 L505.90,293.87 L506.04,295.38 L506.18,296.89 L506.32,298.41 L506.46,299.94 L506.60,301.47 L506.74,303.00 L506.88,304.54 L507.03,306.09 L507.17,307.63 L507.31,309.18 L507.45,310.73 L507.59,312.29 L507.73,313.84 L507.87,315.40 L508.01,316.96 L508.16,318.52 L508.30,320.08 L508.44,321.64 L508.58,323.20 L508.72,324.76 L508.86,326.32 L509.00,327.87 L509.14,329.43 L509.28,330.98 L509.43,332.53 L509.57,334.08 L509.71,335.63 L509.85,337.17 L509.99,338.71 L510.13,340.25 L510.27,341.78 L510.41,343.31 L510.56,344.83 L510.70,346.35 L510.84,347.87 L510.98,349.37 L511.12,350.88 L511.26,352.38 L511.40,353.87 L511.54,355.35 L511.69,356.83 L511.83,358.30 L511.97,359.77 L512.11,361.23 L512.25,362.68 L512.39,364.12 L512.53,365.56 L512.67,366.99 L512.82,368.41 L512.96,369.82 L513.10,371.22 L513.24,372.61 L513.38,374.00 L513.52,375.38 L513.66,376.74 L513.80,378.10 L513.95,379.45 L514.09,380.79 L514.23,382.12 L514.37,383.44 L514.51,384.74 L514.65,386.04 L514.79,387.33 L514.93,388.61 L515.08,389.88 L515.22,391.13 L515.36,392.38 L515.50,393.61 L515.64,394.83 L515.78,396.05 L515.92,397.25 L516.06,398.44 L516.20,399.61 L516.35,400.78 L516.49,401.93 L516.63,403.08 L516.77,404.21 L516.91,405.33 L517.05,406.43 L517.19,407.53 L517.33,408.61 L517.48,409.68 L517.62,410.74 L517.76,411.79 L517.90,412.82 L518.04,413.84 L518.18,414.85 L518.32,415.84 L518.46,416.83 L518.61,417.80 L518.75,418.76 L518.89,419.70 L519.03,420.64 L519.17,421.56 L519.31,422.46 L519.45,423.36 L519.59,424.24 L519.74,425.11 L519.88,425.97 L520.02,426.81 L520.16,427.64 L520.30,428.46 L520.44,429.26 L520.58,430.05 L520.72,430.83 L520.87,431.60 L521.01,432.35 L521.15,433.09 L521.29,433.82 L521.43,434.54 L521.57,435.24 L521.71,435.93 L521.85,436.61 L522.00,437.27 L522.14,437.92 L522.28,438.56 L522.42,439.19 L522.56,439.80 L522.70,440.40 L522.84,440.99 L522.98,441.56 L523.12,442.13 L523.27,442.68 L523.41,443.22 L523.55,443.74 L523.69,444.26 L523.83,444.76 L523.97,445.25 L524.11,445.72 L524.25,446.19 L524.40,446.64 L524.54,447.08 L524.68,447.51 L524.82,447.93 L524.96,448.33 L525.10,448.72 L525.24,449.10 L525.38,449.47 L525.53,449.83 L525.67,450.18 L525.81,450.51 L525.95,450.83 L526.09,451.14 L526.23,451.44 L526.37,451.73 L526.51,452.01 L526.66,452.28 L526.80,452.53 L526.94,452.77 L527.08,453.01 L527.22,453.23 L527.36,453.44 L527.50,453.64 L527.64,453.83 L527.79,454.01 L527.93,454.18 L528.07,454.34 L528.21,454.48 L528.35,454.62 L528.49,454.75 L528.63,454.87 L528.77,454.97 L528.92,455.07 L529.06,455.15 L529.20,455.23 L529.34,455.30 L529.48,455.36 L529.62,455.40 L529.76,455.44 L529.90,455.47 L530.05,455.49 L530.19,455.50 L530.33,455.50 L530.47,455.49 L530.61,455.47 L530.75,455.45 L530.89,455.41 L531.03,455.37 L531.17,455.31 L531.32,455.25 L531.46,455.18 L531.60,455.10 L531.74,455.01 L531.88,454.92 L532.02,454.81 L532.16,454.70 L532.30,454.58 L532.45,454.45 L532.59,454.31 L532.73,454.17 L532.87,454.01 L533.01,453.85 L533.15,453.69 L533.29,453.51 L533.43,453.33 L533.58,453.14 L533.72,452.94 L533.86,452.74 L534.00,452.52 L534.14,452.30 L534.28,452.08 L534.42,451.84 L534.56,451.60 L534.71,451.36 L534.85,451.10 L534.99,450.84 L535.13,450.58 L535.27,450.30 L535.41,450.03 L535.55,449.74 L535.69,449.45 L535.84,449.15 L535.98,448.85 L536.12,448.53 L536.26,448.22 L536.40,447.90 L536.54,447.57 L536.68,447.24 L536.82,446.90 L536.97,446.55 L537.11,446.20 L537.25,445.85 L537.39,445.49 L537.53,445.12 L537.67,444.75 L537.81,444.37 L537.95,443.99 L538.09,443.61 L538.24,443.22 L538.38,442.82 L538.52,442.42 L538.66,442.01 L538.80,441.60 L538.94,441.19 L539.08,440.77 L539.22,440.35 L539.37,439.92 L539.51,439.49 L539.65,439.05 L539.79,438.61 L539.93,438.17 L540.07,437.72 L540.21,437.27 L540.35,436.81 L540.50,436.35 L540.64,435.89 L540.78,435.42 L540.92,434.95 L541.06,434.48 L541.20,434.00 L541.34,433.52 L541.48,433.04 L541.63,432.55 L541.77,432.06 L541.91,431.56 L542.05,431.07 L542.19,430.57 L542.33,430.07 L542.47,429.56 L542.61,429.05 L542.76,428.54 L542.90,428.02 L543.04,427.51 L543.18,426.99 L543.32,426.47 L543.46,425.94 L543.60,425.41 L543.74,424.88 L543.89,424.35 L544.03,423.82 L544.17,423.28 L544.31,422.74 L544.45,422.20 L544.59,421.66 L544.73,421.12 L544.87,420.57 L545.01,420.02 L545.16,419.47 L545.30,418.92 L545.44,418.36 L545.58,417.81 L545.72,417.25 L545.86,416.69 L546.00,416.13 L546.14,415.57 L546.29,415.00 L546.43,414.44 L546.57,413.87 L546.71,413.30 L546.85,412.73 L546.99,412.16 L547.13,411.59 L547.27,411.02 L547.42,410.44 L547.56,409.87 L547.70,409.29 L547.84,408.71 L547.98,408.14 L548.12,407.56 L548.26,406.98 L548.40,406.40 L548.55,405.81 L548.69,405.23 L548.83,404.65 L548.97,404.06 L549.11,403.48 L549.25,402.89 L549.39,402.31 L549.53,401.72 L549.68,401.13 L549.82,400.55 L549.96,399.96 L550.10,399.37 L550.24,398.78 L550.38,398.19 L550.52,397.60 L550.66,397.01 L550.81,396.42 L550.95,395.83 L551.09,395.24 L551.23,394.65 L551.37,394.06 L551.51,393.47 L551.65,392.88 L551.79,392.29 L551.93,391.70 L552.08,391.11 L552.22,390.52 L552.36,389.93 L552.50,389.34 L552.64,388.75 L552.78,388.16 L552.92,387.57 L553.06,386.98 L553.21,386.39 L553.35,385.80 L553.49,385.22 L553.63,384.63 L553.77,384.04 L553.91,383.45 L554.05,382.87 L554.19,382.28 L554.34,381.69 L554.48,381.11 L554.62,380.52 L554.76,379.94 L554.90,379.35 L555.04,378.77 L555.18,378.19 L555.32,377.61 L555.47,377.02 L555.61,376.44 L555.75,375.86 L555.89,375.28 L556.03,374.71 L556.17,374.13 L556.31,373.55 L556.45,372.97 L556.60,372.40 L556.74,371.82 L556.88,371.25 L557.02,370.68 L557.16,370.11 L557.30,369.53 L557.44,368.96 L557.58,368.39 L557.73,367.83 L557.87,367.26 L558.01,366.69 L558.15,366.13 L558.29,365.56 L558.43,365.00 L558.57,364.44 L558.71,363.88 L558.86,363.32 L559.00,362.76 L559.14,362.20 L559.28,361.64 L559.42,361.09 L559.56,360.53 L559.70,359.98 L559.84,359.43 L559.98,358.87 L560.13,358.32 L560.27,357.78 L560.41,357.23 L560.55,356.68 L560.69,356.14 L560.83,355.59 L560.97,355.05 L561.11,354.51 L561.26,353.97 L561.40,353.43 L561.54,352.89 L561.68,352.36 L561.82,351.82 L561.96,351.29 L562.10,350.76 L562.24,350.23 L562.39,349.70 L562.53,349.17 L562.67,348.64 L562.81,348.12 L562.95,347.59 L563.09,347.07 L563.23,346.55 L563.37,346.03 L563.52,345.51 L563.66,345.00 L563.80,344.48 L563.94,343.97 L564.08,343.45 L564.22,342.94 L564.36,342.43 L564.50,341.93 L564.65,341.42 L564.79,340.91 L564.93,340.41 L565.07,339.91 L565.21,339.41 L565.35,338.91 L565.49,338.41 L565.63,337.92 L565.78,337.42 L565.92,336.93 L566.06,336.44 L566.20,335.95 L566.34,335.46 L566.48,334.97 L566.62,334.49 L566.76,334.00 L566.90,333.52 L567.05,333.04 L567.19,332.56 L567.33,332.08 L567.47,331.61 L567.61,331.13 L567.75,330.66 L567.89,330.19 L568.03,329.72 L568.18,329.25 L568.32,328.78 L568.46,328.32 L568.60,327.86 L568.74,327.39 L568.88,326.93 L569.02,326.48 L569.16,326.02 L569.31,325.56 L569.45,325.11 L569.59,324.66 L569.73,324.21 L569.87,323.76 L570.01,323.31 L570.15,322.86 L570.29,322.42 L570.44,321.98 L570.58,321.54 L570.72,321.10 L570.86,320.66 L571.00,320.22 L571.14,319.79 L571.28,319.36 L571.42,318.93 L571.57,318.50 L571.71,318.07 L571.85,317.64 L571.99,317.22 L572.13,316.79 L572.27,316.37 L572.41,315.95 L572.55,315.53 L572.70,315.12 L572.84,314.70 L572.98,314.29 L573.12,313.87 L573.26,313.46 L573.40,313.05 L573.54,312.65 L573.68,312.24 L573.82,311.84 L573.97,311.43 L574.11,311.03 L574.25,310.63 L574.39,310.24 L574.53,309.84 L574.67,309.45 L574.81,309.05 L574.95,308.66 L575.10,308.27 L575.24,307.88 L575.38,307.50 L575.52,307.11 L575.66,306.73 L575.80,306.35 L575.94,305.97 L576.08,305.59 L576.23,305.21 L576.37,304.83 L576.51,304.46 L576.65,304.09 L576.79,303.72 L576.93,303.35 L577.07,302.98 L577.21,302.61 L577.36,302.25 L577.50,301.88 L577.64,301.52 L577.78,301.16 L577.92,300.80 L578.06,300.44 L578.20,300.09 L578.34,299.73 L578.49,299.38 L578.63,299.03 L578.77,298.68 L578.91,298.33 L579.05,297.99 L579.19,297.64 L579.33,297.30 L579.47,296.95 L579.62,296.61 L579.76,296.27 L579.90,295.94 L580.04,295.60 L580.18,295.26 L580.32,294.93 L580.46,294.60 L580.60,294.27 L580.74,293.94 L580.89,293.61 L581.03,293.29 L581.17,292.96 L581.31,292.64 L581.45,292.32 L581.59,292.00 L581.73,291.68 L581.87,291.36 L582.02,291.04 L582.16,290.73 L582.30,290.42 L582.44,290.10 L582.58,289.79 L582.72,289.48 L582.86,289.18 L583.00,288.87 L583.15,288.57 L583.29,288.26 L583.43,287.96 L583.57,287.66 L583.71,287.36 L583.85,287.06 L583.99,286.77 L584.13,286.47 L584.28,286.18 L584.42,285.89 L584.56,285.59 L584.70,285.30 L584.84,285.02 L584.98,284.73 L585.12,284.44 L585.26,284.16 L585.41,283.88 L585.55,283.59 L585.69,283.31 L585.83,283.03 L585.97,282.76 L586.11,282.48 L586.25,282.20 L586.39,281.93 L586.54,281.66 L586.68,281.39 L586.82,281.12 L586.96,280.85 L587.10,280.58 L587.24,280.31 L587.38,280.05 L587.52,279.79 L587.67,279.52 L587.81,279.26 L587.95,279.00 L588.09,278.74 L588.23,278.49 L588.37,278.23 L588.51,277.97 L588.65,277.72 L588.79,277.47 L588.94,277.22 L589.08,276.97 L589.22,276.72 L589.36,276.47 L589.50,276.22 L589.64,275.98 L589.78,275.73 L589.92,275.49 L590.07,275.25 L590.21,275.01 L590.35,274.77 L590.49,274.53 L590.63,274.29 L590.77,274.06 L590.91,273.82 L591.05,273.59 L591.20,273.36 L591.34,273.13 L591.48,272.90 L591.62,272.67 L591.76,272.44 L591.90,272.21 L592.04,271.99 L592.18,271.76 L592.33,271.54 L592.47,271.32 L592.61,271.10 L592.75,270.88 L592.89,270.66 L593.03,270.44 L593.17,270.22 L593.31,270.01 L593.46,269.79 L593.60,269.58 L593.74,269.36 L593.88,269.15 L594.02,268.94 L594.16,268.73 L594.30,268.53 L594.44,268.32 L594.59,268.11 L594.73,267.91 L594.87,267.70 L595.01,267.50 L595.15,267.30 L595.29,267.10 L595.43,266.90 L595.57,266.70 L595.71,266.50 L595.86,266.30 L596.00,266.10 L596.14,265.91 L596.28,265.72 L596.42,265.52 L596.56,265.33 L596.70,265.14 L596.84,264.95 L596.99,264.76 L597.13,264.57 L597.27,264.38 L597.41,264.20 L597.55,264.01 L597.69,263.83 L597.83,263.64 L597.97,263.46 L598.12,263.28 L598.26,263.10 L598.40,262.92 L598.54,262.74 L598.68,262.56 L598.82,262.39 L598.96,262.21 L599.10,262.03 L599.25,261.86 L599.39,261.69 L599.53,261.51 L599.67,261.34 L599.81,261.17 L599.95,261.00 L600.09,260.83 L600.23,260.66 L600.38,260.50 L600.52,260.33 L600.66,260.17 L600.80,260.00 L600.94,259.84 L601.08,259.67 L601.22,259.51 L601.36,259.35 L601.51,259.19 L601.65,259.03 L601.79,258.87 L601.93,258.71 L602.07,258.56 L602.21,258.40 L602.35,258.25 L602.49,258.09 L602.63,257.94 L602.78,257.78 L602.92,257.63 L603.06,257.48 L603.20,257.33 L603.34,257.18 L603.48,257.03 L603.62,256.88 L603.76,256.73 L603.91,256.59 L604.05,256.44 L604.19,256.30 L604.33,256.15 L604.47,256.01 L604.61,255.87 L604.75,255.72 L604.89,255.58 L605.04,255.44 L605.18,255.30 L605.32,255.16 L605.46,255.02 L605.60,254.89 L605.74,254.75 L605.88,254.61 L606.02,254.48 L606.17,254.34 L606.31,254.21 L606.45,254.08 L606.59,253.94 L606.73,253.81 L606.87,253.68 L607.01,253.55 L607.15,253.42 L607.30,253.29 L607.44,253.16 L607.58,253.03 L607.72,252.91 L607.86,252.78 L608.00,252.65 L608.14,252.53 L608.28,252.40 L608.43,252.28 L608.57,252.16 L608.71,252.03 L608.85,251.91 L608.99,251.79 L609.13,251.67 L609.27,251.55 L609.41,251.43 L609.55,251.31 L609.70,251.20 L609.84,251.08 L609.98,250.96 L610.12,250.85 L610.26,250.73 L610.40,250.62 L610.54,250.50 L610.68,250.39 L610.83,250.27 L610.97,250.16 L611.11,250.05 L611.25,249.94 L611.39,249.83 L611.53,249.72 L611.67,249.61 L611.81,249.50 L611.96,249.39 L612.10,249.28 L612.24,249.18 L612.38,249.07 L612.52,248.97 L612.66,248.86 L612.80,248.76 L612.94,248.65 L613.09,248.55 L613.23,248.44 L613.37,248.34 L613.51,248.24 L613.65,248.14 L613.79,248.04 L613.93,247.94 L614.07,247.84 L614.22,247.74 L614.36,247.64 L614.50,247.54 L614.64,247.44 L614.78,247.35 L614.92,247.25 L615.06,247.15 L615.20,247.06 L615.35,246.96 L615.49,246.87 L615.63,246.78 L615.77,246.68 L615.91,246.59 L616.05,246.50 L616.19,246.41 L616.33,246.31 L616.48,246.22 L616.62,246.13 L616.76,246.04 L616.90,245.95 L617.04,245.86 L617.18,245.78 L617.32,245.69 L617.46,245.60 L617.60,245.51 L617.75,245.43 L617.89,245.34 L618.03,245.25 L618.17,245.17 L618.31,245.09 L618.45,245.00 L618.59,244.92 L618.73,244.83 L618.88,244.75 L619.02,244.67 L619.16,244.59 L619.30,244.51 L619.44,244.42 L619.58,244.34 L619.72,244.26 L619.86,244.18 L620.01,244.10 L620.15,244.03 L620.29,243.95 L620.43,243.87 L620.57,243.79 L620.71,243.72 L620.85,243.64 L620.99,243.56 L621.14,243.49 L621.28,243.41 L621.42,243.34 L621.56,243.26 L621.70,243.19 L621.84,243.11 L621.98,243.04 L622.12,242.97 L622.27,242.89 L622.41,242.82 L622.55,242.75 L622.69,242.68 L622.83,242.61 L622.97,242.54 L623.11,242.47 L623.25,242.40 L623.40,242.33 L623.54,242.26 L623.68,242.19 L623.82,242.12 L623.96,242.05 L624.10,241.99 L624.24,241.92 L624.38,241.85 L624.52,241.79 L624.67,241.72 L624.81,241.66 L624.95,241.59 L625.09,241.52 L625.23,241.46 L625.37,241.40 L625.51,241.33 L625.65,241.27 L625.80,241.21 L625.94,241.14 L626.08,241.08 L626.22,241.02 L626.36,240.96 L626.50,240.90 L626.64,240.83 L626.78,240.77 L626.93,240.71 L627.07,240.65 L627.21,240.59 L627.35,240.53 L627.49,240.47 L627.63,240.42 L627.77,240.36 L627.91,240.30 L628.06,240.24 L628.20,240.18 L628.34,240.13 L628.48,240.07 L628.62,240.01 L628.76,239.96 L628.90,239.90 L629.04,239.85 L629.19,239.79 L629.33,239.74 L629.47,239.68 L629.61,239.63 L629.75,239.57 L629.89,239.52 L630.03,239.47 L630.17,239.41 L630.32,239.36 L630.46,239.31 L630.60,239.26 L630.74,239.20 L630.88,239.15 L631.02,239.10 L631.16,239.05 L631.30,239.00 L631.44,238.95 L631.59,238.90 L631.73,238.85 L631.87,238.80 L632.01,238.75 L632.15,238.70 L632.29,238.65 L632.43,238.60 L632.57,238.55 L632.72,238.51 L632.86,238.46 L633.00,238.41 L633.14,238.36 L633.28,238.32 L633.42,238.27 L633.56,238.22 L633.70,238.18 L633.85,238.13 L633.99,238.09 L634.13,238.04 L634.27,237.99 L634.41,237.95 L634.55,237.91 L634.69,237.86 L634.83,237.82 L634.98,237.77 L635.12,237.73 L635.26,237.69 L635.40,237.64 L635.54,237.60 L635.68,237.56 L635.82,237.51 L635.96,237.47 L636.11,237.43 L636.25,237.39 L636.39,237.35 L636.53,237.31 L636.67,237.26 L636.81,237.22 L636.95,237.18 L637.09,237.14 L637.24,237.10 L637.38,237.06 L637.52,237.02 L637.66,236.98 L637.80,236.94 L637.94,236.91 L638.08,236.87 L638.22,236.83 L638.36,236.79 L638.51,236.75 L638.65,236.71 L638.79,236.68 L638.93,236.64 L639.07,236.60 L639.21,236.56 L639.35,236.53 L639.49,236.49 L639.64,236.45 L639.78,236.42 L639.92,236.38 L640.06,236.35 L640.20,236.31 L640.34,236.28 L640.48,236.24 L640.62,236.21 L640.77,236.17 L640.91,236.14 L641.05,236.10 L641.19,236.07 L641.33,236.03 L641.47,236.00 L641.61,235.97 L641.75,235.93 L641.90,235.90 L642.04,235.87 L642.18,235.83 L642.32,235.80 L642.46,235.77 L642.60,235.74 L642.74,235.70 L642.88,235.67 L643.03,235.64 L643.17,235.61 L643.31,235.58 L643.45,235.54 L643.59,235.51 L643.73,235.48 L643.87,235.45 L644.01,235.42 L644.16,235.39 L644.30,235.36 L644.44,235.33 L644.58,235.30 L644.72,235.27 L644.86,235.24 L645.00,235.21 L645.14,235.18 L645.29,235.15 L645.43,235.12 L645.57,235.10 L645.71,235.07 L645.85,235.04 L645.99,235.01 L646.13,234.98 L646.27,234.95 L646.41,234.93 L646.56,234.90 L646.70,234.87 L646.84,234.84 L646.98,234.82 L647.12,234.79 L647.26,234.76 L647.40,234.74 L647.54,234.71 L647.69,234.68 L647.83,234.66 L647.97,234.63 L648.11,234.61 L648.25,234.58 L648.39,234.55 L648.53,234.53 L648.67,234.50 L648.82,234.48 L648.96,234.45 L649.10,234.43 L649.24,234.40 L649.38,234.38 L649.52,234.35 L649.66,234.33 L649.80,234.31 L649.95,234.28 L650.09,234.26 L650.23,234.23 L650.37,234.21 L650.51,234.19 L650.65,234.16 L650.79,234.14 L650.93,234.12 L651.08,234.09 L651.22,234.07 L651.36,234.05 L651.50,234.03 L651.64,234.00 L651.78,233.98 L651.92,233.96 L652.06,233.94 L652.21,233.91 L652.35,233.89 L652.49,233.87 L652.63,233.85 L652.77,233.83 L652.91,233.81 L653.05,233.78 L653.19,233.76 L653.33,233.74 L653.48,233.72 L653.62,233.70 L653.76,233.68 L653.90,233.66 L654.04,233.64 L654.18,233.62 L654.32,233.60 L654.46,233.58 L654.61,233.56 L654.75,233.54 L654.89,233.52 L655.03,233.50 L655.17,233.48 L655.31,233.46 L655.45,233.44 L655.59,233.42 L655.74,233.40 L655.88,233.38 L656.02,233.37 L656.16,233.35 L656.30,233.33 L656.44,233.31 L656.58,233.29 L656.72,233.27 L656.87,233.25 L657.01,233.24 L657.15,233.22 L657.29,233.20 L657.43,233.18 L657.57,233.16 L657.71,233.15 L657.85,233.13 L658.00,233.11 L658.14,233.09 L658.28,233.08 L658.42,233.06 L658.56,233.04 L658.70,233.03 L658.84,233.01 L658.98,232.99 L659.13,232.98 L659.27,232.96 L659.41,232.94 L659.55,232.93 L659.69,232.91 L659.83,232.89 L659.97,232.88 L660.11,232.86 L660.25,232.85 L660.40,232.83 L660.54,232.82 L660.68,232.80 L660.82,232.78 L660.96,232.77 L661.10,232.75 L661.24,232.74 L661.38,232.72 L661.53,232.71 L661.67,232.69 L661.81,232.68 L661.95,232.66 L662.09,232.65 L662.23,232.63 L662.37,232.62 L662.51,232.60 L662.66,232.59 L662.80,232.58 L662.94,232.56 L663.08,232.55 L663.22,232.53 L663.36,232.52 L663.50,232.51 L663.64,232.49 L663.79,232.48 L663.93,232.46 L664.07,232.45 L664.21,232.44 L664.35,232.42 L664.49,232.41 L664.63,232.40 L664.77,232.38 L664.92,232.37 L665.06,232.36 L665.20,232.34 L665.34,232.33 L665.48,232.32 L665.62,232.31 L665.76,232.29 L665.90,232.28 L666.05,232.27 L666.19,232.25 L666.33,232.24 L666.47,232.23 L666.61,232.22 L666.75,232.21 L666.89,232.19 L667.03,232.18 L667.17,232.17 L667.32,232.16 L667.46,232.15 L667.60,232.13 L667.74,232.12 L667.88,232.11 L668.02,232.10 L668.16,232.09 L668.30,232.08 L668.45,232.06 L668.59,232.05 L668.73,232.04 L668.87,232.03 L669.01,232.02 L669.15,232.01 L669.29,232.00 L669.43,231.99 L669.58,231.98 L669.72,231.96 L669.86,231.95 L670.00,231.94 L670.14,231.93 L670.28,231.92 L670.42,231.91 L670.56,231.90 L670.71,231.89 L670.85,231.88 L670.99,231.87 L671.13,231.86 L671.27,231.85 L671.41,231.84 L671.55,231.83 L671.69,231.82 L671.84,231.81 L671.98,231.80 L672.12,231.79 L672.26,231.78 L672.40,231.77 L672.54,231.76 L672.68,231.75 L672.82,231.74 L672.97,231.73 L673.11,231.72 L673.25,231.71 L673.39,231.70 L673.53,231.69 L673.67,231.69 L673.81,231.68 L673.95,231.67 L674.10,231.66 L674.24,231.65 L674.38,231.64 L674.52,231.63 L674.66,231.62 L674.80,231.61 L674.94,231.60 L675.08,231.60 L675.22,231.59 L675.37,231.58 L675.51,231.57 L675.65,231.56 L675.79,231.55 L675.93,231.54 L676.07,231.54 L676.21,231.53 L676.35,231.52 L676.50,231.51 L676.64,231.50 L676.78,231.49 L676.92,231.49 L677.06,231.48 L677.20,231.47 L677.34,231.46 L677.48,231.45 L677.63,231.45 L677.77,231.44 L677.91,231.43 L678.05,231.42 L678.19,231.42 L678.33,231.41 L678.47,231.40 L678.61,231.39 L678.76,231.39 L678.90,231.38 L679.04,231.37 L679.18,231.36 L679.32,231.36 L679.46,231.35 L679.60,231.34 L679.74,231.33 L679.89,231.33 L680.03,231.32 L680.17,231.31 L680.31,231.31 L680.45,231.30 L680.59,231.29 L680.73,231.29 L680.87,231.28 L681.02,231.27 L681.16,231.26 L681.30,231.26 L681.44,231.25 L681.58,231.24 L681.72,231.24 L681.86,231.23 L682.00,231.22 L682.14,231.22 L682.29,231.21 L682.43,231.20 L682.57,231.20 L682.71,231.19 L682.85,231.19 L682.99,231.18 L683.13,231.17 L683.27,231.17 L683.42,231.16 L683.56,231.15 L683.70,231.15 L683.84,231.14 L683.98,231.14 L684.12,231.13 L684.26,231.12 L684.40,231.12 L684.55,231.11 L684.69,231.11 L684.83,231.10 L684.97,231.09 L685.11,231.09 L685.25,231.08 L685.39,231.08 L685.53,231.07 L685.68,231.07 L685.82,231.06 L685.96,231.05 L686.10,231.05 L686.24,231.04 L686.38,231.04 L686.52,231.03 L686.66,231.03 L686.81,231.02 L686.95,231.02 L687.09,231.01 L687.23,231.01 L687.37,231.00 L687.51,231.00 L687.65,230.99 L687.79,230.98 L687.94,230.98 L688.08,230.97 L688.22,230.97 L688.36,230.96 L688.50,230.96 L688.64,230.95 L688.78,230.95 L688.92,230.94 L689.06,230.94 L689.21,230.93 L689.35,230.93 L689.49,230.92 L689.63,230.92 L689.77,230.92 L689.91,230.91 L690.05,230.91 L690.19,230.90 L690.34,230.90 L690.48,230.89 L690.62,230.89 L690.76,230.88 L690.90,230.88 L691.04,230.87 L691.18,230.87 L691.32,230.86 L691.47,230.86 L691.61,230.86 L691.75,230.85 L691.89,230.85 L692.03,230.84 L692.17,230.84 L692.31,230.83 L692.45,230.83 L692.60,230.82 L692.74,230.82 L692.88,230.82 L693.02,230.81 L693.16,230.81 L693.30,230.80 L693.44,230.80 L693.58,230.80 L693.73,230.79 L693.87,230.79 L694.01,230.78 L694.15,230.78 L694.29,230.78 L694.43,230.77 L694.57,230.77 L694.71,230.76 L694.86,230.76 L695.00,230.76 L695.14,230.75 L695.28,230.75 L695.42,230.74 L695.56,230.74 L695.70,230.74 L695.84,230.73 L695.98,230.73 L696.13,230.73 L696.27,230.72 L696.41,230.72 L696.55,230.71 L696.69,230.71 L696.83,230.71 L696.97,230.70 L697.11,230.70 L697.26,230.70 L697.40,230.69 L697.54,230.69 L697.68,230.69 L697.82,230.68 L697.96,230.68 L698.10,230.68 L698.24,230.67 L698.39,230.67 L698.53,230.67 L698.67,230.66 L698.81,230.66 L698.95,230.66 L699.09,230.65 L699.23,230.65 L699.37,230.65 L699.52,230.64 L699.66,230.64 L699.80,230.64 L699.94,230.63 L700.08,230.63 L700.22,230.63 L700.36,230.62 L700.50,230.62 L700.65,230.62 L700.79,230.61 L700.93,230.61 L701.07,230.61 L701.21,230.61 L701.35,230.60 L701.49,230.60 L701.63,230.60 L701.78,230.59 L701.92,230.59 L702.06,230.59 L702.20,230.58 L702.34,230.58 L702.48,230.58 L702.62,230.58 L702.76,230.57 L702.91,230.57 L703.05,230.57 L703.19,230.56 L703.33,230.56 L703.47,230.56 L703.61,230.56 L703.75,230.55 L703.89,230.55 L704.03,230.55 L704.18,230.55 L704.32,230.54 L704.46,230.54 L704.60,230.54 L704.74,230.54 L704.88,230.53 L705.02,230.53 L705.16,230.53 L705.31,230.53 L705.45,230.52 L705.59,230.52 L705.73,230.52 L705.87,230.51 L706.01,230.51 L706.15,230.51 L706.29,230.51 L706.44,230.51 L706.58,230.50 L706.72,230.50 L706.86,230.50 L707.00,230.50 L707.14,230.49 L707.28,230.49 L707.42,230.49 L707.57,230.49 L707.71,230.48 L707.85,230.48 L707.99,230.48 L708.13,230.48 L708.27,230.47 L708.41,230.47 L708.55,230.47 L708.70,230.47 L708.84,230.47 L708.98,230.46 L709.12,230.46 L709.26,230.46 L709.40,230.46 L709.54,230.45 L709.68,230.45 L709.83,230.45 L709.97,230.45 L710.11,230.45 L710.25,230.44 L710.39,230.44 L710.53,230.44 L710.67,230.44 L710.81,230.44 L710.95,230.43 L711.10,230.43 L711.24,230.43 L711.38,230.43 L711.52,230.43 L711.66,230.42 L711.80,230.42 L711.94,230.42 L712.08,230.42 L712.23,230.42 L712.37,230.41 L712.51,230.41 L712.65,230.41 L712.79,230.41 L712.93,230.41 L713.07,230.41 L713.21,230.40 L713.36,230.40 L713.50,230.40 L713.64,230.40 L713.78,230.40 L713.92,230.39 L714.06,230.39 L714.20,230.39 L714.34,230.39 L714.49,230.39 L714.63,230.39 L714.77,230.38 L714.91,230.38 L715.05,230.38 L715.19,230.38 L715.33,230.38 L715.47,230.38 L715.62,230.37 L715.76,230.37 L715.90,230.37 L716.04,230.37 L716.18,230.37 L716.32,230.37 L716.46,230.36 L716.60,230.36 L716.75,230.36 L716.89,230.36 L717.03,230.36 L717.17,230.36 L717.31,230.35 L717.45,230.35 L717.59,230.35 L717.73,230.35 L717.87,230.35 L718.02,230.35 L718.16,230.34 L718.30,230.34 L718.44,230.34 L718.58,230.34 L718.72,230.34 L718.86,230.34 L719.00,230.34 L719.15,230.33 L719.29,230.33 L719.43,230.33 L719.57,230.33 L719.71,230.33 L719.85,230.33 L719.99,230.33 L720.13,230.32 L720.28,230.32 L720.42,230.32 L720.56,230.32 L720.70,230.32 L720.84,230.32 L720.98,230.32 L721.12,230.32 L721.26,230.31 L721.41,230.31 L721.55,230.31 L721.69,230.31 L721.83,230.31 L721.97,230.31 L722.11,230.31 L722.25,230.30 L722.39,230.30 L722.54,230.30 L722.68,230.30 L722.82,230.30 L722.96,230.30 L723.10,230.30 L723.24,230.30 L723.38,230.29 L723.52,230.29 L723.67,230.29 L723.81,230.29 L723.95,230.29 L724.09,230.29 L724.23,230.29 L724.37,230.29 L724.51,230.29 L724.65,230.28 L724.79,230.28 L724.94,230.28 L725.08,230.28 L725.22,230.28 L725.36,230.28 L725.50,230.28 L725.64,230.28 L725.78,230.28 L725.92,230.27 L726.07,230.27 L726.21,230.27 L726.35,230.27 L726.49,230.27 L726.63,230.27 L726.77,230.27 L726.91,230.27 L727.05,230.27 L727.20,230.26 L727.34,230.26 L727.48,230.26 L727.62,230.26 L727.76,230.26 L727.90,230.26 L728.04,230.26 L728.18,230.26 L728.33,230.26 L728.47,230.26 L728.61,230.25 L728.75,230.25 L728.89,230.25 L729.03,230.25 L729.17,230.25 L729.31,230.25 L729.46,230.25 L729.60,230.25 L729.74,230.25 L729.88,230.25 L730.02,230.24 L730.16,230.24 L730.30,230.24 L730.44,230.24 L730.59,230.24 L730.73,230.24 L730.87,230.24 L731.01,230.24 L731.15,230.24 L731.29,230.24 L731.43,230.24 L731.57,230.23 L731.72,230.23 L731.86,230.23 L732.00,230.23 L732.14,230.23 L732.28,230.23 L732.42,230.23 L732.56,230.23 L732.70,230.23 L732.84,230.23 L732.99,230.23 L733.13,230.23 L733.27,230.22 L733.41,230.22 L733.55,230.22 L733.69,230.22 L733.83,230.22 L733.97,230.22 L734.12,230.22 L734.26,230.22 L734.40,230.22 L734.54,230.22 L734.68,230.22 L734.82,230.22 L734.96,230.22 L735.10,230.21 L735.25,230.21 L735.39,230.21 L735.53,230.21 L735.67,230.21 L735.81,230.21 L735.95,230.21 L736.09,230.21 L736.23,230.21 L736.38,230.21 L736.52,230.21 L736.66,230.21 L736.80,230.21 L736.94,230.20 L737.08,230.20 L737.22,230.20 L737.36,230.20 L737.51,230.20 L737.65,230.20 L737.79,230.20 L737.93,230.20 L738.07,230.20 L738.21,230.20 L738.35,230.20 L738.49,230.20 L738.64,230.20 L738.78,230.20 L738.92,230.20 L739.06,230.19 L739.20,230.19" fill="none" stroke="#000" stroke-width="1.1" stroke-linejoin="round"/><path d="M400.40,283.66 L400.54,282.56 L400.68,282.83 L400.82,284.45 L400.96,287.40 L401.11,291.62 L401.25,297.03 L401.39,303.54 L401.53,311.04 L401.67,319.41 L401.81,328.51 L401.95,338.20 L402.09,348.33 L402.24,358.73 L402.38,369.25 L402.52,379.74 L402.66,390.02 L402.80,399.96 L402.94,409.40 L403.08,418.21 L403.22,426.26 L403.37,433.45 L403.51,439.66 L403.65,444.82 L403.79,448.85 L403.93,451.71 L404.07,453.36 L404.21,453.79 L404.35,452.99 L404.50,450.97 L404.64,447.79 L404.78,443.47 L404.92,438.09 L405.06,431.73 L405.20,424.47 L405.34,416.41 L405.48,407.67 L405.63,398.36 L405.77,388.61 L405.91,378.55 L406.05,368.30 L406.19,358.00 L406.33,347.78 L406.47,337.77 L406.61,328.09 L406.76,318.86 L406.90,310.19 L407.04,302.19 L407.18,294.94 L407.32,288.54 L407.46,283.06 L407.60,278.55 L407.74,275.06 L407.88,272.62 L408.03,271.27 L408.17,270.99 L408.31,271.80 L408.45,273.68 L408.59,276.59 L408.73,280.49 L408.87,285.33 L409.01,291.05 L409.16,297.57 L409.30,304.82 L409.44,312.71 L409.58,321.15 L409.72,330.03 L409.86,339.25 L410.00,348.71 L410.14,358.31 L410.29,367.93 L410.43,377.47 L410.57,386.83 L410.71,395.91 L410.85,404.61 L410.99,412.85 L411.13,420.53 L411.27,427.57 L411.42,433.92 L411.56,439.51 L411.70,444.27 L411.84,448.18 L411.98,451.20 L412.12,453.29 L412.26,454.45 L412.40,454.66 L412.55,453.94 L412.69,452.29 L412.83,449.73 L412.97,446.30 L413.11,442.04 L413.25,436.98 L413.39,431.19 L413.53,424.73 L413.68,417.65 L413.82,410.03 L413.96,401.94 L414.10,393.46 L414.24,384.68 L414.38,375.67 L414.52,366.52 L414.66,357.31 L414.81,348.13 L414.95,339.05 L415.09,330.16 L415.23,321.54 L415.37,313.25 L415.51,305.38 L415.65,297.97 L415.79,291.11 L415.93,284.83 L416.08,279.19 L416.22,274.24 L416.36,270.01 L416.50,266.52 L416.64,263.81 L416.78,261.89 L416.92,260.77 L417.06,260.45 L417.21,260.94 L417.35,262.21 L417.49,264.26 L417.63,267.05 L417.77,270.57 L417.91,274.78 L418.05,279.63 L418.19,285.10 L418.34,291.12 L418.48,297.64 L418.62,304.62 L418.76,312.00 L418.90,319.70 L419.04,327.68 L419.18,335.87 L419.32,344.21 L419.47,352.62 L419.61,361.06 L419.75,369.45 L419.89,377.73 L420.03,385.84 L420.17,393.72 L420.31,401.32 L420.45,408.59 L420.60,415.47 L420.74,421.92 L420.88,427.89 L421.02,433.34 L421.16,438.25 L421.30,442.58 L421.44,446.30 L421.58,449.39 L421.73,451.83 L421.87,453.62 L422.01,454.74 L422.15,455.19 L422.29,454.98 L422.43,454.11 L422.57,452.58 L422.71,450.42 L422.85,447.64 L423.00,444.27 L423.14,440.32 L423.28,435.84 L423.42,430.84 L423.56,425.38 L423.70,419.47 L423.84,413.18 L423.98,406.52 L424.13,399.56 L424.27,392.34 L424.41,384.89 L424.55,377.28 L424.69,369.54 L424.83,361.72 L424.97,353.87 L425.11,346.04 L425.26,338.27 L425.40,330.61 L425.54,323.10 L425.68,315.78 L425.82,308.70 L425.96,301.89 L426.10,295.40 L426.24,289.25 L426.39,283.47 L426.53,278.10 L426.67,273.16 L426.81,268.68 L426.95,264.68 L427.09,261.18 L427.23,258.18 L427.37,255.71 L427.52,253.77 L427.66,252.37 L427.80,251.52 L427.94,251.20 L428.08,251.43 L428.22,252.19 L428.36,253.47 L428.50,255.27 L428.65,257.57 L428.79,260.35 L428.93,263.61 L429.07,267.31 L429.21,271.43 L429.35,275.96 L429.49,280.85 L429.63,286.10 L429.77,291.66 L429.92,297.52 L430.06,303.63 L430.20,309.96 L430.34,316.49 L430.48,323.17 L430.62,329.99 L430.76,336.89 L430.90,343.86 L431.05,350.85 L431.19,357.83 L431.33,364.78 L431.47,371.65 L431.61,378.42 L431.75,385.05 L431.89,391.53 L432.03,397.81 L432.18,403.88 L432.32,409.70 L432.46,415.26 L432.60,420.52 L432.74,425.48 L432.88,430.10 L433.02,434.38 L433.16,438.30 L433.31,441.83 L433.45,444.98 L433.59,447.72 L433.73,450.06 L433.87,451.98 L434.01,453.48 L434.15,454.56 L434.29,455.21 L434.44,455.44 L434.58,455.24 L434.72,454.63 L434.86,453.60 L435.00,452.17 L435.14,450.34 L435.28,448.13 L435.42,445.54 L435.57,442.58 L435.71,439.28 L435.85,435.65 L435.99,431.70 L436.13,427.45 L436.27,422.92 L436.41,418.13 L436.55,413.09 L436.69,407.84 L436.84,402.39 L436.98,396.76 L437.12,390.97 L437.26,385.05 L437.40,379.01 L437.54,372.89 L437.68,366.70 L437.82,360.47 L437.97,354.22 L438.11,347.96 L438.25,341.73 L438.39,335.54 L438.53,329.42 L438.67,323.38 L438.81,317.44 L438.95,311.63 L439.10,305.97 L439.24,300.46 L439.38,295.13 L439.52,289.99 L439.66,285.07 L439.80,280.37 L439.94,275.90 L440.08,271.69 L440.23,267.73 L440.37,264.05 L440.51,260.65 L440.65,257.54 L440.79,254.72 L440.93,252.21 L441.07,250.01 L441.21,248.12 L441.36,246.55 L441.50,245.29 L441.64,244.36 L441.78,243.75 L441.92,243.45 L442.06,243.47 L442.20,243.81 L442.34,244.46 L442.49,245.41 L442.63,246.67 L442.77,248.22 L442.91,250.06 L443.05,252.18 L443.19,254.57 L443.33,257.22 L443.47,260.13 L443.62,263.28 L443.76,266.67 L443.90,270.27 L444.04,274.08 L444.18,278.09 L444.32,282.28 L444.46,286.64 L444.60,291.17 L444.74,295.83 L444.89,300.63 L445.03,305.54 L445.17,310.55 L445.31,315.65 L445.45,320.83 L445.59,326.07 L445.73,331.35 L445.87,336.66 L446.02,342.00 L446.16,347.33 L446.30,352.66 L446.44,357.97 L446.58,363.23 L446.72,368.45 L446.86,373.61 L447.00,378.70 L447.15,383.70 L447.29,388.60 L447.43,393.39 L447.57,398.07 L447.71,402.61 L447.85,407.02 L447.99,411.28 L448.13,415.38 L448.28,419.32 L448.42,423.08 L448.56,426.66 L448.70,430.06 L448.84,433.26 L448.98,436.26 L449.12,439.06 L449.26,441.65 L449.41,444.02 L449.55,446.18 L449.69,448.12 L449.83,449.83 L449.97,451.32 L450.11,452.58 L450.25,453.62 L450.39,454.43 L450.54,455.01 L450.68,455.37 L450.82,455.50 L450.96,455.41 L451.10,455.09 L451.24,454.55 L451.38,453.80 L451.52,452.84 L451.66,451.66 L451.81,450.28 L451.95,448.69 L452.09,446.91 L452.23,444.94 L452.37,442.79 L452.51,440.45 L452.65,437.94 L452.79,435.26 L452.94,432.41 L453.08,429.42 L453.22,426.27 L453.36,422.99 L453.50,419.57 L453.64,416.03 L453.78,412.36 L453.92,408.59 L454.07,404.71 L454.21,400.74 L454.35,396.69 L454.49,392.55 L454.63,388.34 L454.77,384.08 L454.91,379.75 L455.05,375.38 L455.20,370.98 L455.34,366.54 L455.48,362.08 L455.62,357.60 L455.76,353.12 L455.90,348.64 L456.04,344.17 L456.18,339.71 L456.33,335.28 L456.47,330.88 L456.61,326.52 L456.75,322.20 L456.89,317.93 L457.03,313.73 L457.17,309.58 L457.31,305.51 L457.46,301.51 L457.60,297.59 L457.74,293.77 L457.88,290.03 L458.02,286.40 L458.16,282.86 L458.30,279.44 L458.44,276.12 L458.58,272.93 L458.73,269.85 L458.87,266.89 L459.01,264.07 L459.15,261.37 L459.29,258.81 L459.43,256.38 L459.57,254.09 L459.71,251.94 L459.86,249.94 L460.00,248.08 L460.14,246.36 L460.28,244.79 L460.42,243.37 L460.56,242.10 L460.70,240.97 L460.84,240.00 L460.99,239.18 L461.13,238.50 L461.27,237.98 L461.41,237.60 L461.55,237.37 L461.69,237.29 L461.83,237.36 L461.97,237.56 L462.12,237.92 L462.26,238.41 L462.40,239.04 L462.54,239.81 L462.68,240.72 L462.82,241.76 L462.96,242.92 L463.10,244.22 L463.25,245.64 L463.39,247.19 L463.53,248.85 L463.67,250.63 L463.81,252.53 L463.95,254.53 L464.09,256.64 L464.23,258.85 L464.38,261.16 L464.52,263.57 L464.66,266.07 L464.80,268.65 L464.94,271.32 L465.08,274.07 L465.22,276.90 L465.36,279.80 L465.50,282.77 L465.65,285.81 L465.79,288.90 L465.93,292.05 L466.07,295.25 L466.21,298.50 L466.35,301.80 L466.49,305.13 L466.63,308.50 L466.78,311.90 L466.92,315.34 L467.06,318.79 L467.20,322.26 L467.34,325.75 L467.48,329.26 L467.62,332.77 L467.76,336.28 L467.91,339.80 L468.05,343.31 L468.19,346.82 L468.33,350.31 L468.47,353.79 L468.61,357.26 L468.75,360.70 L468.89,364.12 L469.04,367.51 L469.18,370.87 L469.32,374.20 L469.46,377.49 L469.60,380.74 L469.74,383.95 L469.88,387.12 L470.02,390.23 L470.17,393.29 L470.31,396.31 L470.45,399.26 L470.59,402.16 L470.73,405.00 L470.87,407.77 L471.01,410.48 L471.15,413.12 L471.30,415.70 L471.44,418.21 L471.58,420.64 L471.72,423.00 L471.86,425.28 L472.00,427.49 L472.14,429.62 L472.28,431.67 L472.43,433.64 L472.57,435.53 L472.71,437.34 L472.85,439.06 L472.99,440.70 L473.13,442.26 L473.27,443.73 L473.41,445.12 L473.55,446.41 L473.70,447.62 L473.84,448.75 L473.98,449.79 L474.12,450.74 L474.26,451.60 L474.40,452.38 L474.54,453.06 L474.68,453.66 L474.83,454.18 L474.97,454.61 L475.11,454.95 L475.25,455.20 L475.39,455.38 L475.53,455.46 L475.67,455.46 L475.81,455.38 L475.96,455.22 L476.10,454.98 L476.24,454.65 L476.38,454.24 L476.52,453.76 L476.66,453.20 L476.80,452.56 L476.94,451.84 L477.09,451.05 L477.23,450.19 L477.37,449.26 L477.51,448.25 L477.65,447.17 L477.79,446.03 L477.93,444.82 L478.07,443.54 L478.22,442.20 L478.36,440.80 L478.50,439.34 L478.64,437.82 L478.78,436.24 L478.92,434.60 L479.06,432.91 L479.20,431.16 L479.35,429.37 L479.49,427.52 L479.63,425.62 L479.77,423.68 L479.91,421.70 L480.05,419.67 L480.19,417.59 L480.33,415.48 L480.47,413.33 L480.62,411.15 L480.76,408.92 L480.90,406.67 L481.04,404.38 L481.18,402.07 L481.32,399.72 L481.46,397.35 L481.60,394.96 L481.75,392.54 L481.89,390.10 L482.03,387.64 L482.17,385.16 L482.31,382.67 L482.45,380.16 L482.59,377.63 L482.73,375.10 L482.88,372.55 L483.02,370.00 L483.16,367.44 L483.30,364.87 L483.44,362.30 L483.58,359.73 L483.72,357.15 L483.86,354.58 L484.01,352.01 L484.15,349.44 L484.29,346.87 L484.43,344.31 L484.57,341.76 L484.71,339.22 L484.85,336.69 L484.99,334.16 L485.14,331.65 L485.28,329.16 L485.42,326.68 L485.56,324.21 L485.70,321.76 L485.84,319.33 L485.98,316.92 L486.12,314.53 L486.27,312.16 L486.41,309.81 L486.55,307.49 L486.69,305.19 L486.83,302.92 L486.97,300.67 L487.11,298.45 L487.25,296.26 L487.39,294.09 L487.54,291.96 L487.68,289.86 L487.82,287.78 L487.96,285.74 L488.10,283.74 L488.24,281.76 L488.38,279.82 L488.52,277.91 L488.67,276.04 L488.81,274.20 L488.95,272.40 L489.09,270.64 L489.23,268.91 L489.37,267.23 L489.51,265.58 L489.65,263.96 L489.80,262.39 L489.94,260.86 L490.08,259.36 L490.22,257.91 L490.36,256.49 L490.50,255.12 L490.64,253.78 L490.78,252.49 L490.93,251.24 L491.07,250.03 L491.21,248.86 L491.35,247.73 L491.49,246.65 L491.63,245.60 L491.77,244.60 L491.91,243.64 L492.06,242.72 L492.20,241.84 L492.34,241.01 L492.48,240.22 L492.62,239.46 L492.76,238.75 L492.90,238.09 L493.04,237.46 L493.19,236.88 L493.33,236.33 L493.47,235.83 L493.61,235.37 L493.75,234.95 L493.89,234.57 L494.03,234.23 L494.17,233.93 L494.31,233.67 L494.46,233.45 L494.60,233.27 L494.74,233.13 L494.88,233.03 L495.02,232.97 L495.16,232.94 L495.30,232.96 L495.44,233.01 L495.59,233.10 L495.73,233.22 L495.87,233.38 L496.01,233.58 L496.15,233.82 L496.29,234.09 L496.43,234.39 L496.57,234.73 L496.72,235.10 L496.86,235.51 L497.00,235.95 L497.14,236.43 L497.28,236.93 L497.42,237.47 L497.56,238.04 L497.70,238.65 L497.85,239.28 L497.99,239.94 L498.13,240.63 L498.27,241.36 L498.41,242.11 L498.55,242.89 L498.69,243.69 L498.83,244.53 L498.98,245.39 L499.12,246.28 L499.26,247.19 L499.40,248.13 L499.54,249.10 L499.68,250.08 L499.82,251.10 L499.96,252.13 L500.11,253.19 L500.25,254.27 L500.39,255.38 L500.53,256.50 L500.67,257.64 L500.81,258.81 L500.95,260.00 L501.09,261.20 L501.24,262.42 L501.38,263.67 L501.52,264.93 L501.66,266.20 L501.80,267.50 L501.94,268.81 L502.08,270.13 L502.22,271.47 L502.36,272.83 L502.51,274.20 L502.65,275.58 L502.79,276.98 L502.93,278.39 L503.07,279.81 L503.21,281.25 L503.35,282.69 L503.49,284.15 L503.64,285.62 L503.78,287.09 L503.92,288.58 L504.06,290.07 L504.20,291.58 L504.34,293.09 L504.48,294.61 L504.62,296.14 L504.77,297.67 L504.91,299.21 L505.05,300.76 L505.19,302.31 L505.33,303.87 L505.47,305.43 L505.61,306.99 L505.75,308.56 L505.90,310.14 L506.04,311.71 L506.18,313.29 L506.32,314.87 L506.46,316.45 L506.60,318.04 L506.74,319.62 L506.88,321.21 L507.03,322.80 L507.17,324.38 L507.31,325.97 L507.45,327.55 L507.59,329.14 L507.73,330.72 L507.87,332.30 L508.01,333.88 L508.16,335.45 L508.30,337.03 L508.44,338.60 L508.58,340.17 L508.72,341.73 L508.86,343.29 L509.00,344.84 L509.14,346.39 L509.28,347.94 L509.43,349.48 L509.57,351.02 L509.71,352.54 L509.85,354.07 L509.99,355.59 L510.13,357.10 L510.27,358.60 L510.41,360.10 L510.56,361.59 L510.70,363.07 L510.84,364.54 L510.98,366.01 L511.12,367.47 L511.26,368.92 L511.40,370.36 L511.54,371.79 L511.69,373.22 L511.83,374.63 L511.97,376.04 L512.11,377.44 L512.25,378.82 L512.39,380.20 L512.53,381.56 L512.67,382.92 L512.82,384.27 L512.96,385.60 L513.10,386.93 L513.24,388.24 L513.38,389.54 L513.52,390.84 L513.66,392.12 L513.80,393.39 L513.95,394.64 L514.09,395.89 L514.23,397.12 L514.37,398.35 L514.51,399.56 L514.65,400.75 L514.79,401.94 L514.93,403.11 L515.08,404.28 L515.22,405.43 L515.36,406.56 L515.50,407.69 L515.64,408.80 L515.78,409.90 L515.92,410.98 L516.06,412.05 L516.20,413.11 L516.35,414.16 L516.49,415.19 L516.63,416.21 L516.77,417.22 L516.91,418.21 L517.05,419.20 L517.19,420.16 L517.33,421.12 L517.48,422.06 L517.62,422.98 L517.76,423.90 L517.90,424.80 L518.04,425.68 L518.18,426.56 L518.32,427.42 L518.46,428.26 L518.61,429.10 L518.75,429.92 L518.89,430.72 L519.03,431.51 L519.17,432.29 L519.31,433.06 L519.45,433.81 L519.59,434.54 L519.74,435.27 L519.88,435.98 L520.02,436.68 L520.16,437.36 L520.30,438.03 L520.44,438.68 L520.58,439.33 L520.72,439.96 L520.87,440.57 L521.01,441.18 L521.15,441.77 L521.29,442.34 L521.43,442.91 L521.57,443.46 L521.71,443.99 L521.85,444.52 L522.00,445.03 L522.14,445.52 L522.28,446.01 L522.42,446.48 L522.56,446.94 L522.70,447.38 L522.84,447.82 L522.98,448.24 L523.12,448.64 L523.27,449.04 L523.41,449.42 L523.55,449.79 L523.69,450.15 L523.83,450.49 L523.97,450.83 L524.11,451.15 L524.25,451.46 L524.40,451.75 L524.54,452.04 L524.68,452.31 L524.82,452.57 L524.96,452.82 L525.10,453.05 L525.24,453.28 L525.38,453.49 L525.53,453.69 L525.67,453.88 L525.81,454.06 L525.95,454.23 L526.09,454.39 L526.23,454.53 L526.37,454.67 L526.51,454.79 L526.66,454.90 L526.80,455.00 L526.94,455.09 L527.08,455.17 L527.22,455.24 L527.36,455.30 L527.50,455.35 L527.64,455.39 L527.79,455.41 L527.93,455.43 L528.07,455.44 L528.21,455.44 L528.35,455.42 L528.49,455.40 L528.63,455.37 L528.77,455.33 L528.92,455.28 L529.06,455.22 L529.20,455.15 L529.34,455.07 L529.48,454.98 L529.62,454.88 L529.76,454.77 L529.90,454.66 L530.05,454.53 L530.19,454.40 L530.33,454.26 L530.47,454.11 L530.61,453.95 L530.75,453.78 L530.89,453.60 L531.03,453.42 L531.17,453.23 L531.32,453.02 L531.46,452.82 L531.60,452.60 L531.74,452.37 L531.88,452.14 L532.02,451.90 L532.16,451.66 L532.30,451.40 L532.45,451.14 L532.59,450.87 L532.73,450.59 L532.87,450.31 L533.01,450.02 L533.15,449.72 L533.29,449.42 L533.43,449.10 L533.58,448.79 L533.72,448.46 L533.86,448.13 L534.00,447.79 L534.14,447.45 L534.28,447.10 L534.42,446.74 L534.56,446.38 L534.71,446.01 L534.85,445.64 L534.99,445.26 L535.13,444.87 L535.27,444.48 L535.41,444.08 L535.55,443.68 L535.69,443.27 L535.84,442.85 L535.98,442.44 L536.12,442.01 L536.26,441.58 L536.40,441.15 L536.54,440.71 L536.68,440.26 L536.82,439.81 L536.97,439.36 L537.11,438.90 L537.25,438.44 L537.39,437.97 L537.53,437.50 L537.67,437.02 L537.81,436.54 L537.95,436.06 L538.09,435.57 L538.24,435.07 L538.38,434.58 L538.52,434.08 L538.66,433.57 L538.80,433.06 L538.94,432.55 L539.08,432.03 L539.22,431.51 L539.37,430.99 L539.51,430.46 L539.65,429.93 L539.79,429.40 L539.93,428.86 L540.07,428.32 L540.21,427.78 L540.35,427.24 L540.50,426.69 L540.64,426.13 L540.78,425.58 L540.92,425.02 L541.06,424.46 L541.20,423.90 L541.34,423.33 L541.48,422.77 L541.63,422.20 L541.77,421.62 L541.91,421.05 L542.05,420.47 L542.19,419.89 L542.33,419.31 L542.47,418.72 L542.61,418.14 L542.76,417.55 L542.90,416.96 L543.04,416.37 L543.18,415.77 L543.32,415.18 L543.46,414.58 L543.60,413.98 L543.74,413.38 L543.89,412.78 L544.03,412.17 L544.17,411.57 L544.31,410.96 L544.45,410.35 L544.59,409.74 L544.73,409.13 L544.87,408.52 L545.01,407.91 L545.16,407.29 L545.30,406.68 L545.44,406.06 L545.58,405.44 L545.72,404.82 L545.86,404.20 L546.00,403.58 L546.14,402.96 L546.29,402.34 L546.43,401.72 L546.57,401.09 L546.71,400.47 L546.85,399.85 L546.99,399.22 L547.13,398.59 L547.27,397.97 L547.42,397.34 L547.56,396.71 L547.70,396.09 L547.84,395.46 L547.98,394.83 L548.12,394.20 L548.26,393.57 L548.40,392.95 L548.55,392.32 L548.69,391.69 L548.83,391.06 L548.97,390.43 L549.11,389.80 L549.25,389.17 L549.39,388.54 L549.53,387.91 L549.68,387.29 L549.82,386.66 L549.96,386.03 L550.10,385.40 L550.24,384.77 L550.38,384.14 L550.52,383.52 L550.66,382.89 L550.81,382.26 L550.95,381.64 L551.09,381.01 L551.23,380.39 L551.37,379.76 L551.51,379.14 L551.65,378.51 L551.79,377.89 L551.93,377.27 L552.08,376.65 L552.22,376.03 L552.36,375.41 L552.50,374.79 L552.64,374.17 L552.78,373.55 L552.92,372.93 L553.06,372.31 L553.21,371.70 L553.35,371.08 L553.49,370.47 L553.63,369.86 L553.77,369.24 L553.91,368.63 L554.05,368.02 L554.19,367.41 L554.34,366.80 L554.48,366.20 L554.62,365.59 L554.76,364.98 L554.90,364.38 L555.04,363.78 L555.18,363.17 L555.32,362.57 L555.47,361.97 L555.61,361.37 L555.75,360.78 L555.89,360.18 L556.03,359.59 L556.17,358.99 L556.31,358.40 L556.45,357.81 L556.60,357.22 L556.74,356.63 L556.88,356.04 L557.02,355.45 L557.16,354.87 L557.30,354.29 L557.44,353.70 L557.58,353.12 L557.73,352.54 L557.87,351.97 L558.01,351.39 L558.15,350.81 L558.29,350.24 L558.43,349.67 L558.57,349.10 L558.71,348.53 L558.86,347.96 L559.00,347.39 L559.14,346.83 L559.28,346.27 L559.42,345.70 L559.56,345.14 L559.70,344.59 L559.84,344.03 L559.98,343.47 L560.13,342.92 L560.27,342.37 L560.41,341.82 L560.55,341.27 L560.69,340.72 L560.83,340.17 L560.97,339.63 L561.11,339.09 L561.26,338.55 L561.40,338.01 L561.54,337.47 L561.68,336.93 L561.82,336.40 L561.96,335.87 L562.10,335.33 L562.24,334.81 L562.39,334.28 L562.53,333.75 L562.67,333.23 L562.81,332.70 L562.95,332.18 L563.09,331.67 L563.23,331.15 L563.37,330.63 L563.52,330.12 L563.66,329.61 L563.80,329.10 L563.94,328.59 L564.08,328.08 L564.22,327.58 L564.36,327.07 L564.50,326.57 L564.65,326.07 L564.79,325.57 L564.93,325.08 L565.07,324.58 L565.21,324.09 L565.35,323.60 L565.49,323.11 L565.63,322.62 L565.78,322.14 L565.92,321.65 L566.06,321.17 L566.20,320.69 L566.34,320.21 L566.48,319.74 L566.62,319.26 L566.76,318.79 L566.90,318.32 L567.05,317.85 L567.19,317.38 L567.33,316.91 L567.47,316.45 L567.61,315.99 L567.75,315.53 L567.89,315.07 L568.03,314.61 L568.18,314.16 L568.32,313.70 L568.46,313.25 L568.60,312.80 L568.74,312.35 L568.88,311.91 L569.02,311.46 L569.16,311.02 L569.31,310.58 L569.45,310.14 L569.59,309.71 L569.73,309.27 L569.87,308.84 L570.01,308.41 L570.15,307.98 L570.29,307.55 L570.44,307.12 L570.58,306.70 L570.72,306.28 L570.86,305.85 L571.00,305.44 L571.14,305.02 L571.28,304.60 L571.42,304.19 L571.57,303.78 L571.71,303.37 L571.85,302.96 L571.99,302.55 L572.13,302.15 L572.27,301.74 L572.41,301.34 L572.55,300.94 L572.70,300.54 L572.84,300.15 L572.98,299.75 L573.12,299.36 L573.26,298.97 L573.40,298.58 L573.54,298.19 L573.68,297.81 L573.82,297.43 L573.97,297.04 L574.11,296.66 L574.25,296.28 L574.39,295.91 L574.53,295.53 L574.67,295.16 L574.81,294.79 L574.95,294.42 L575.10,294.05 L575.24,293.68 L575.38,293.32 L575.52,292.95 L575.66,292.59 L575.80,292.23 L575.94,291.87 L576.08,291.52 L576.23,291.16 L576.37,290.81 L576.51,290.46 L576.65,290.11 L576.79,289.76 L576.93,289.41 L577.07,289.07 L577.21,288.72 L577.36,288.38 L577.50,288.04 L577.64,287.70 L577.78,287.36 L577.92,287.03 L578.06,286.70 L578.20,286.36 L578.34,286.03 L578.49,285.70 L578.63,285.38 L578.77,285.05 L578.91,284.73 L579.05,284.40 L579.19,284.08 L579.33,283.76 L579.47,283.45 L579.62,283.13 L579.76,282.82 L579.90,282.50 L580.04,282.19 L580.18,281.88 L580.32,281.57 L580.46,281.27 L580.60,280.96 L580.74,280.66 L580.89,280.35 L581.03,280.05 L581.17,279.75 L581.31,279.46 L581.45,279.16 L581.59,278.86 L581.73,278.57 L581.87,278.28 L582.02,277.99 L582.16,277.70 L582.30,277.41 L582.44,277.13 L582.58,276.84 L582.72,276.56 L582.86,276.28 L583.00,276.00 L583.15,275.72 L583.29,275.44 L583.43,275.17 L583.57,274.89 L583.71,274.62 L583.85,274.35 L583.99,274.08 L584.13,273.81 L584.28,273.54 L584.42,273.27 L584.56,273.01 L584.70,272.75 L584.84,272.48 L584.98,272.22 L585.12,271.96 L585.26,271.71 L585.41,271.45 L585.55,271.19 L585.69,270.94 L585.83,270.69 L585.97,270.44 L586.11,270.19 L586.25,269.94 L586.39,269.69 L586.54,269.45 L586.68,269.20 L586.82,268.96 L586.96,268.72 L587.10,268.48 L587.24,268.24 L587.38,268.00 L587.52,267.76 L587.67,267.53 L587.81,267.29 L587.95,267.06 L588.09,266.83 L588.23,266.60 L588.37,266.37 L588.51,266.14 L588.65,265.91 L588.79,265.69 L588.94,265.46 L589.08,265.24 L589.22,265.02 L589.36,264.80 L589.50,264.58 L589.64,264.36 L589.78,264.14 L589.92,263.93 L590.07,263.71 L590.21,263.50 L590.35,263.29 L590.49,263.08 L590.63,262.87 L590.77,262.66 L590.91,262.45 L591.05,262.24 L591.20,262.04 L591.34,261.83 L591.48,261.63 L591.62,261.43 L591.76,261.23 L591.90,261.03 L592.04,260.83 L592.18,260.63 L592.33,260.44 L592.47,260.24 L592.61,260.05 L592.75,259.85 L592.89,259.66 L593.03,259.47 L593.17,259.28 L593.31,259.09 L593.46,258.90 L593.60,258.72 L593.74,258.53 L593.88,258.35 L594.02,258.16 L594.16,257.98 L594.30,257.80 L594.44,257.62 L594.59,257.44 L594.73,257.26 L594.87,257.08 L595.01,256.91 L595.15,256.73 L595.29,256.56 L595.43,256.38 L595.57,256.21 L595.71,256.04 L595.86,255.87 L596.00,255.70 L596.14,255.53 L596.28,255.36 L596.42,255.20 L596.56,255.03 L596.70,254.87 L596.84,254.70 L596.99,254.54 L597.13,254.38 L597.27,254.22 L597.41,254.06 L597.55,253.90 L597.69,253.74 L597.83,253.58 L597.97,253.43 L598.12,253.27 L598.26,253.12 L598.40,252.97 L598.54,252.81 L598.68,252.66 L598.82,252.51 L598.96,252.36 L599.10,252.21 L599.25,252.06 L599.39,251.92 L599.53,251.77 L599.67,251.62 L599.81,251.48 L599.95,251.34 L600.09,251.19 L600.23,251.05 L600.38,250.91 L600.52,250.77 L600.66,250.63 L600.80,250.49 L600.94,250.35 L601.08,250.21 L601.22,250.08 L601.36,249.94 L601.51,249.81 L601.65,249.67 L601.79,249.54 L601.93,249.41 L602.07,249.28 L602.21,249.15 L602.35,249.02 L602.49,248.89 L602.63,248.76 L602.78,248.63 L602.92,248.50 L603.06,248.38 L603.20,248.25 L603.34,248.13 L603.48,248.00 L603.62,247.88 L603.76,247.76 L603.91,247.64 L604.05,247.51 L604.19,247.39 L604.33,247.27 L604.47,247.16 L604.61,247.04 L604.75,246.92 L604.89,246.80 L605.04,246.69 L605.18,246.57 L605.32,246.46 L605.46,246.34 L605.60,246.23 L605.74,246.12 L605.88,246.01 L606.02,245.90 L606.17,245.79 L606.31,245.68 L606.45,245.57 L606.59,245.46 L606.73,245.35 L606.87,245.24 L607.01,245.14 L607.15,245.03 L607.30,244.93 L607.44,244.82 L607.58,244.72 L607.72,244.62 L607.86,244.51 L608.00,244.41 L608.14,244.31 L608.28,244.21 L608.43,244.11 L608.57,244.01 L608.71,243.91 L608.85,243.81 L608.99,243.71 L609.13,243.62 L609.27,243.52 L609.41,243.43 L609.55,243.33 L609.70,243.24 L609.84,243.14 L609.98,243.05 L610.12,242.96 L610.26,242.86 L610.40,242.77 L610.54,242.68 L610.68,242.59 L610.83,242.50 L610.97,242.41 L611.11,242.32 L611.25,242.23 L611.39,242.15 L611.53,242.06 L611.67,241.97 L611.81,241.89 L611.96,241.80 L612.10,241.72 L612.24,241.63 L612.38,241.55 L612.52,241.46 L612.66,241.38 L612.80,241.30 L612.94,241.22 L613.09,241.14 L613.23,241.06 L613.37,240.98 L613.51,240.90 L613.65,240.82 L613.79,240.74 L613.93,240.66 L614.07,240.58 L614.22,240.50 L614.36,240.43 L614.50,240.35 L614.64,240.28 L614.78,240.20 L614.92,240.13 L615.06,240.05 L615.20,239.98 L615.35,239.90 L615.49,239.83 L615.63,239.76 L615.77,239.69 L615.91,239.62 L616.05,239.54 L616.19,239.47 L616.33,239.40 L616.48,239.33 L616.62,239.26 L616.76,239.20 L616.90,239.13 L617.04,239.06 L617.18,238.99 L617.32,238.93 L617.46,238.86 L617.60,238.79 L617.75,238.73 L617.89,238.66 L618.03,238.60 L618.17,238.53 L618.31,238.47 L618.45,238.41 L618.59,238.34 L618.73,238.28 L618.88,238.22 L619.02,238.16 L619.16,238.09 L619.30,238.03 L619.44,237.97 L619.58,237.91 L619.72,237.85 L619.86,237.79 L620.01,237.73 L620.15,237.67 L620.29,237.62 L620.43,237.56 L620.57,237.50 L620.71,237.44 L620.85,237.39 L620.99,237.33 L621.14,237.27 L621.28,237.22 L621.42,237.16 L621.56,237.11 L621.70,237.05 L621.84,237.00 L621.98,236.95 L622.12,236.89 L622.27,236.84 L622.41,236.79 L622.55,236.73 L622.69,236.68 L622.83,236.63 L622.97,236.58 L623.11,236.53 L623.25,236.48 L623.40,236.43 L623.54,236.38 L623.68,236.33 L623.82,236.28 L623.96,236.23 L624.10,236.18 L624.24,236.13 L624.38,236.08 L624.52,236.04 L624.67,235.99 L624.81,235.94 L624.95,235.89 L625.09,235.85 L625.23,235.80 L625.37,235.76 L625.51,235.71 L625.65,235.67 L625.80,235.62 L625.94,235.58 L626.08,235.53 L626.22,235.49 L626.36,235.44 L626.50,235.40 L626.64,235.36 L626.78,235.31 L626.93,235.27 L627.07,235.23 L627.21,235.19 L627.35,235.15 L627.49,235.11 L627.63,235.06 L627.77,235.02 L627.91,234.98 L628.06,234.94 L628.20,234.90 L628.34,234.86 L628.48,234.82 L628.62,234.79 L628.76,234.75 L628.90,234.71 L629.04,234.67 L629.19,234.63 L629.33,234.59 L629.47,234.56 L629.61,234.52 L629.75,234.48 L629.89,234.45 L630.03,234.41 L630.17,234.37 L630.32,234.34 L630.46,234.30 L630.60,234.27 L630.74,234.23 L630.88,234.20 L631.02,234.16 L631.16,234.13 L631.30,234.09 L631.44,234.06 L631.59,234.03 L631.73,233.99 L631.87,233.96 L632.01,233.93 L632.15,233.89 L632.29,233.86 L632.43,233.83 L632.57,233.80 L632.72,233.76 L632.86,233.73 L633.00,233.70 L633.14,233.67 L633.28,233.64 L633.42,233.61 L633.56,233.58 L633.70,233.55 L633.85,233.52 L633.99,233.49 L634.13,233.46 L634.27,233.43 L634.41,233.40 L634.55,233.37 L634.69,233.34 L634.83,233.31 L634.98,233.29 L635.12,233.26 L635.26,233.23 L635.40,233.20 L635.54,233.17 L635.68,233.15 L635.82,233.12 L635.96,233.09 L636.11,233.07 L636.25,233.04 L636.39,233.01 L636.53,232.99 L636.67,232.96 L636.81,232.93 L636.95,232.91 L637.09,232.88 L637.24,232.86 L637.38,232.83 L637.52,232.81 L637.66,232.78 L637.80,232.76 L637.94,232.74 L638.08,232.71 L638.22,232.69 L638.36,232.66 L638.51,232.64 L638.65,232.62 L638.79,232.59 L638.93,232.57 L639.07,232.55 L639.21,232.53 L639.35,232.50 L639.49,232.48 L639.64,232.46 L639.78,232.44 L639.92,232.41 L640.06,232.39 L640.20,232.37 L640.34,232.35 L640.48,232.33 L640.62,232.31 L640.77,232.29 L640.91,232.27 L641.05,232.25 L641.19,232.23 L641.33,232.21 L641.47,232.18 L641.61,232.17 L641.75,232.15 L641.90,232.13 L642.04,232.11 L642.18,232.09 L642.32,232.07 L642.46,232.05 L642.60,232.03 L642.74,232.01 L642.88,231.99 L643.03,231.97 L643.17,231.96 L643.31,231.94 L643.45,231.92 L643.59,231.90 L643.73,231.88 L643.87,231.87 L644.01,231.85 L644.16,231.83 L644.30,231.81 L644.44,231.80 L644.58,231.78 L644.72,231.76 L644.86,231.75 L645.00,231.73 L645.14,231.71 L645.29,231.70 L645.43,231.68 L645.57,231.67 L645.71,231.65 L645.85,231.63 L645.99,231.62 L646.13,231.60 L646.27,231.59 L646.41,231.57 L646.56,231.56 L646.70,231.54 L646.84,231.53 L646.98,231.51 L647.12,231.50 L647.26,231.48 L647.40,231.47 L647.54,231.46 L647.69,231.44 L647.83,231.43 L647.97,231.41 L648.11,231.40 L648.25,231.39 L648.39,231.37 L648.53,231.36 L648.67,231.35 L648.82,231.33 L648.96,231.32 L649.10,231.31 L649.24,231.29 L649.38,231.28 L649.52,231.27 L649.66,231.26 L649.80,231.24 L649.95,231.23 L650.09,231.22 L650.23,231.21 L650.37,231.19 L650.51,231.18 L650.65,231.17 L650.79,231.16 L650.93,231.15 L651.08,231.14 L651.22,231.12 L651.36,231.11 L651.50,231.10 L651.64,231.09 L651.78,231.08 L651.92,231.07 L652.06,231.06 L652.21,231.05 L652.35,231.04 L652.49,231.03 L652.63,231.01 L652.77,231.00 L652.91,230.99 L653.05,230.98 L653.19,230.97 L653.33,230.96 L653.48,230.95 L653.62,230.94 L653.76,230.93 L653.90,230.92 L654.04,230.92 L654.18,230.91 L654.32,230.90 L654.46,230.89 L654.61,230.88 L654.75,230.87 L654.89,230.86 L655.03,230.85 L655.17,230.84 L655.31,230.83 L655.45,230.82 L655.59,230.82 L655.74,230.81 L655.88,230.80 L656.02,230.79 L656.16,230.78 L656.30,230.77 L656.44,230.76 L656.58,230.76 L656.72,230.75 L656.87,230.74 L657.01,230.73 L657.15,230.72 L657.29,230.72 L657.43,230.71 L657.57,230.70 L657.71,230.69 L657.85,230.69 L658.00,230.68 L658.14,230.67 L658.28,230.66 L658.42,230.66 L658.56,230.65 L658.70,230.64 L658.84,230.64 L658.98,230.63 L659.13,230.62 L659.27,230.62 L659.41,230.61 L659.55,230.60 L659.69,230.60 L659.83,230.59 L659.97,230.58 L660.11,230.58 L660.25,230.57 L660.40,230.56 L660.54,230.56 L660.68,230.55 L660.82,230.55 L660.96,230.54 L661.10,230.53 L661.24,230.53 L661.38,230.52 L661.53,230.52 L661.67,230.51 L661.81,230.51 L661.95,230.50 L662.09,230.49 L662.23,230.49 L662.37,230.48 L662.51,230.48 L662.66,230.47 L662.80,230.47 L662.94,230.46 L663.08,230.46 L663.22,230.45 L663.36,230.45 L663.50,230.44 L663.64,230.44 L663.79,230.43 L663.93,230.43 L664.07,230.42 L664.21,230.42 L664.35,230.41 L664.49,230.41 L664.63,230.40 L664.77,230.40 L664.92,230.40 L665.06,230.39 L665.20,230.39 L665.34,230.38 L665.48,230.38 L665.62,230.37 L665.76,230.37 L665.90,230.37 L666.05,230.36 L666.19,230.36 L666.33,230.35 L666.47,230.35 L666.61,230.35 L666.75,230.34 L666.89,230.34 L667.03,230.33 L667.17,230.33 L667.32,230.33 L667.46,230.32 L667.60,230.32 L667.74,230.32 L667.88,230.31 L668.02,230.31 L668.16,230.31 L668.30,230.30 L668.45,230.30 L668.59,230.30 L668.73,230.29 L668.87,230.29 L669.01,230.29 L669.15,230.28 L669.29,230.28 L669.43,230.28 L669.58,230.28 L669.72,230.27 L669.86,230.27 L670.00,230.27 L670.14,230.26 L670.28,230.26 L670.42,230.26 L670.56,230.26 L670.71,230.25 L670.85,230.25 L670.99,230.25 L671.13,230.25 L671.27,230.24 L671.41,230.24 L671.55,230.24 L671.69,230.24 L671.84,230.23 L671.98,230.23 L672.12,230.23 L672.26,230.23 L672.40,230.22 L672.54,230.22 L672.68,230.22 L672.82,230.22 L672.97,230.22 L673.11,230.21 L673.25,230.21 L673.39,230.21 L673.53,230.21 L673.67,230.21 L673.81,230.20 L673.95,230.20 L674.10,230.20 L674.24,230.20 L674.38,230.20 L674.52,230.20 L674.66,230.19 L674.80,230.19 L674.94,230.19 L675.08,230.19 L675.22,230.19 L675.37,230.19 L675.51,230.18 L675.65,230.18 L675.79,230.18 L675.93,230.18 L676.07,230.18 L676.21,230.18 L676.35,230.18 L676.50,230.18 L676.64,230.17 L676.78,230.17 L676.92,230.17 L677.06,230.17 L677.20,230.17 L677.34,230.17 L677.48,230.17 L677.63,230.17 L677.77,230.16 L677.91,230.16 L678.05,230.16 L678.19,230.16 L678.33,230.16 L678.47,230.16 L678.61,230.16 L678.76,230.16 L678.90,230.16 L679.04,230.16 L679.18,230.16 L679.32,230.15 L679.46,230.15 L679.60,230.15 L679.74,230.15 L679.89,230.15 L680.03,230.15 L680.17,230.15 L680.31,230.15 L680.45,230.15 L680.59,230.15 L680.73,230.15 L680.87,230.15 L681.02,230.15 L681.16,230.15 L681.30,230.15 L681.44,230.15 L681.58,230.14 L681.72,230.14 L681.86,230.14 L682.00,230.14 L682.14,230.14 L682.29,230.14 L682.43,230.14 L682.57,230.14 L682.71,230.14 L682.85,230.14 L682.99,230.14 L683.13,230.14 L683.27,230.14 L683.42,230.14 L683.56,230.14 L683.70,230.14 L683.84,230.14 L683.98,230.14 L684.12,230.14 L684.26,230.14 L684.40,230.14 L684.55,230.14 L684.69,230.14 L684.83,230.14 L684.97,230.14 L685.11,230.14 L685.25,230.14 L685.39,230.14 L685.53,230.14 L685.68,230.14 L685.82,230.14 L685.96,230.14 L686.10,230.14 L686.24,230.14 L686.38,230.14 L686.52,230.14 L686.66,230.14 L686.81,230.14 L686.95,230.14 L687.09,230.14 L687.23,230.14 L687.37,230.14 L687.51,230.14 L687.65,230.14 L687.79,230.14 L687.94,230.14 L688.08,230.14 L688.22,230.14 L688.36,230.14 L688.50,230.14 L688.64,230.15 L688.78,230.15 L688.92,230.15 L689.06,230.15 L689.21,230.15 L689.35,230.15 L689.49,230.15 L689.63,230.15 L689.77,230.15 L689.91,230.15 L690.05,230.15 L690.19,230.15 L690.34,230.15 L690.48,230.15 L690.62,230.15 L690.76,230.15 L690.90,230.15 L691.04,230.15 L691.18,230.15 L691.32,230.16 L691.47,230.16 L691.61,230.16 L691.75,230.16 L691.89,230.16 L692.03,230.16 L692.17,230.16 L692.31,230.16 L692.45,230.16 L692.60,230.16 L692.74,230.16 L692.88,230.16 L693.02,230.16 L693.16,230.16 L693.30,230.17 L693.44,230.17 L693.58,230.17 L693.73,230.17 L693.87,230.17 L694.01,230.17 L694.15,230.17 L694.29,230.17 L694.43,230.17 L694.57,230.17 L694.71,230.17 L694.86,230.17 L695.00,230.18 L695.14,230.18 L695.28,230.18 L695.42,230.18 L695.56,230.18 L695.70,230.18 L695.84,230.18 L695.98,230.18 L696.13,230.18 L696.27,230.18 L696.41,230.18 L696.55,230.19 L696.69,230.19 L696.83,230.19 L696.97,230.19 L697.11,230.19 L697.26,230.19 L697.40,230.19 L697.54,230.19 L697.68,230.19 L697.82,230.19 L697.96,230.20 L698.10,230.20 L698.24,230.20 L698.39,230.20 L698.53,230.20 L698.67,230.20 L698.81,230.20 L698.95,230.20 L699.09,230.20 L699.23,230.21 L699.37,230.21 L699.52,230.21 L699.66,230.21 L699.80,230.21 L699.94,230.21 L700.08,230.21 L700.22,230.21 L700.36,230.21 L700.50,230.22 L700.65,230.22 L700.79,230.22 L700.93,230.22 L701.07,230.22 L701.21,230.22 L701.35,230.22 L701.49,230.22 L701.63,230.22 L701.78,230.23 L701.92,230.23 L702.06,230.23 L702.20,230.23 L702.34,230.23 L702.48,230.23 L702.62,230.23 L702.76,230.23 L702.91,230.24 L703.05,230.24 L703.19,230.24 L703.33,230.24 L703.47,230.24 L703.61,230.24 L703.75,230.24 L703.89,230.24 L704.03,230.25 L704.18,230.25 L704.32,230.25 L704.46,230.25 L704.60,230.25 L704.74,230.25 L704.88,230.25 L705.02,230.25 L705.16,230.26 L705.31,230.26 L705.45,230.26 L705.59,230.26 L705.73,230.26 L705.87,230.26 L706.01,230.26 L706.15,230.27 L706.29,230.27 L706.44,230.27 L706.58,230.27 L706.72,230.27 L706.86,230.27 L707.00,230.27 L707.14,230.27 L707.28,230.28 L707.42,230.28 L707.57,230.28 L707.71,230.28 L707.85,230.28 L707.99,230.28 L708.13,230.28 L708.27,230.29 L708.41,230.29 L708.55,230.29 L708.70,230.29 L708.84,230.29 L708.98,230.29 L709.12,230.29 L709.26,230.30 L709.40,230.30 L709.54,230.30 L709.68,230.30 L709.83,230.30 L709.97,230.30 L710.11,230.30 L710.25,230.30 L710.39,230.31 L710.53,230.31 L710.67,230.31 L710.81,230.31 L710.95,230.31 L711.10,230.31 L711.24,230.31 L711.38,230.32 L711.52,230.32 L711.66,230.32 L711.80,230.32 L711.94,230.32 L712.08,230.32 L712.23,230.32 L712.37,230.33 L712.51,230.33 L712.65,230.33 L712.79,230.33 L712.93,230.33 L713.07,230.33 L713.21,230.33 L713.36,230.34 L713.50,230.34 L713.64,230.34 L713.78,230.34 L713.92,230.34 L714.06,230.34 L714.20,230.34 L714.34,230.35 L714.49,230.35 L714.63,230.35 L714.77,230.35 L714.91,230.35 L715.05,230.35 L715.19,230.36 L715.33,230.36 L715.47,230.36 L715.62,230.36 L715.76,230.36 L715.90,230.36 L716.04,230.36 L716.18,230.37 L716.32,230.37 L716.46,230.37 L716.60,230.37 L716.75,230.37 L716.89,230.37 L717.03,230.37 L717.17,230.38 L717.31,230.38 L717.45,230.38 L717.59,230.38 L717.73,230.38 L717.87,230.38 L718.02,230.38 L718.16,230.39 L718.30,230.39 L718.44,230.39 L718.58,230.39 L718.72,230.39 L718.86,230.39 L719.00,230.39 L719.15,230.40 L719.29,230.40 L719.43,230.40 L719.57,230.40 L719.71,230.40 L719.85,230.40 L719.99,230.40 L720.13,230.41 L720.28,230.41 L720.42,230.41 L720.56,230.41 L720.70,230.41 L720.84,230.41 L720.98,230.41 L721.12,230.42 L721.26,230.42 L721.41,230.42 L721.55,230.42 L721.69,230.42 L721.83,230.42 L721.97,230.42 L722.11,230.43 L722.25,230.43 L722.39,230.43 L722.54,230.43 L722.68,230.43 L722.82,230.43 L722.96,230.44 L723.10,230.44 L723.24,230.44 L723.38,230.44 L723.52,230.44 L723.67,230.44 L723.81,230.44 L723.95,230.45 L724.09,230.45 L724.23,230.45 L724.37,230.45 L724.51,230.45 L724.65,230.45 L724.79,230.45 L724.94,230.46 L725.08,230.46 L725.22,230.46 L725.36,230.46 L725.50,230.46 L725.64,230.46 L725.78,230.46 L725.92,230.47 L726.07,230.47 L726.21,230.47 L726.35,230.47 L726.49,230.47 L726.63,230.47 L726.77,230.47 L726.91,230.48 L727.05,230.48 L727.20,230.48 L727.34,230.48 L727.48,230.48 L727.62,230.48 L727.76,230.48 L727.90,230.49 L728.04,230.49 L728.18,230.49 L728.33,230.49 L728.47,230.49 L728.61,230.49 L728.75,230.49 L728.89,230.50 L729.03,230.50 L729.17,230.50 L729.31,230.50 L729.46,230.50 L729.60,230.50 L729.74,230.50 L729.88,230.50 L730.02,230.51 L730.16,230.51 L730.30,230.51 L730.44,230.51 L730.59,230.51 L730.73,230.51 L730.87,230.51 L731.01,230.52 L731.15,230.52 L731.29,230.52 L731.43,230.52 L731.57,230.52 L731.72,230.52 L731.86,230.52 L732.00,230.53 L732.14,230.53 L732.28,230.53 L732.42,230.53 L732.56,230.53 L732.70,230.53 L732.84,230.53 L732.99,230.54 L733.13,230.54 L733.27,230.54 L733.41,230.54 L733.55,230.54 L733.69,230.54 L733.83,230.54 L733.97,230.54 L734.12,230.55 L734.26,230.55 L734.40,230.55 L734.54,230.55 L734.68,230.55 L734.82,230.55 L734.96,230.55 L735.10,230.56 L735.25,230.56 L735.39,230.56 L735.53,230.56 L735.67,230.56 L735.81,230.56 L735.95,230.56 L736.09,230.56 L736.23,230.57 L736.38,230.57 L736.52,230.57 L736.66,230.57 L736.80,230.57 L736.94,230.57 L737.08,230.57 L737.22,230.58 L737.36,230.58 L737.51,230.58 L737.65,230.58 L737.79,230.58 L737.93,230.58 L738.07,230.58 L738.21,230.58 L738.35,230.59 L738.49,230.59 L738.64,230.59 L738.78,230.59 L738.92,230.59 L739.06,230.59 L739.20,230.59" fill="none" stroke="#f00" stroke-width="1.5" stroke-dasharray="1.5 4.3" stroke-linejoin="round"/><path d="M400.40,289.54 L400.54,285.05 L400.68,281.87 L400.82,280.05 L400.96,279.61 L401.11,280.55 L401.25,282.84 L401.39,286.44 L401.53,291.27 L401.67,297.27 L401.81,304.32 L401.95,312.32 L402.09,321.13 L402.24,330.61 L402.38,340.62 L402.52,351.01 L402.66,361.60 L402.80,372.25 L402.94,382.79 L403.08,393.08 L403.22,402.96 L403.37,412.28 L403.51,420.92 L403.65,428.76 L403.79,435.68 L403.93,441.60 L404.07,446.44 L404.21,450.12 L404.35,452.62 L404.50,453.89 L404.64,453.93 L404.78,452.74 L404.92,450.34 L405.06,446.78 L405.20,442.11 L405.34,436.39 L405.48,429.70 L405.63,422.14 L405.77,413.82 L405.91,404.83 L406.05,395.31 L406.19,385.38 L406.33,375.16 L406.47,364.79 L406.61,354.40 L406.76,344.12 L406.90,334.07 L407.04,324.38 L407.18,315.16 L407.32,306.53 L407.46,298.59 L407.60,291.41 L407.74,285.10 L407.88,279.71 L408.03,275.31 L408.17,271.93 L408.31,269.62 L408.45,268.39 L408.59,268.24 L408.73,269.18 L408.87,271.17 L409.01,274.20 L409.16,278.22 L409.30,283.18 L409.44,289.00 L409.58,295.63 L409.72,302.98 L409.86,310.96 L410.00,319.48 L410.14,328.45 L410.29,337.76 L410.43,347.30 L410.57,356.97 L410.71,366.67 L410.85,376.29 L410.99,385.73 L411.13,394.88 L411.27,403.66 L411.42,411.98 L411.56,419.75 L411.70,426.89 L411.84,433.33 L411.98,439.01 L412.12,443.89 L412.26,447.90 L412.40,451.03 L412.55,453.24 L412.69,454.51 L412.83,454.85 L412.97,454.24 L413.11,452.71 L413.25,450.28 L413.39,446.96 L413.53,442.81 L413.68,437.86 L413.82,432.16 L413.96,425.78 L414.10,418.78 L414.24,411.22 L414.38,403.18 L414.52,394.74 L414.66,385.97 L414.81,376.95 L414.95,367.78 L415.09,358.53 L415.23,349.28 L415.37,340.12 L415.51,331.12 L415.65,322.37 L415.79,313.93 L415.93,305.88 L416.08,298.28 L416.22,291.20 L416.36,284.69 L416.50,278.79 L416.64,273.57 L416.78,269.05 L416.92,265.27 L417.06,262.24 L417.21,260.00 L417.35,258.56 L417.49,257.91 L417.63,258.06 L417.77,259.00 L417.91,260.72 L418.05,263.20 L418.19,266.41 L418.34,270.32 L418.48,274.89 L418.62,280.09 L418.76,285.87 L418.90,292.17 L419.04,298.95 L419.18,306.16 L419.32,313.73 L419.47,321.60 L419.61,329.71 L419.75,338.00 L419.89,346.41 L420.03,354.87 L420.17,363.33 L420.31,371.71 L420.45,379.96 L420.60,388.02 L420.74,395.83 L420.88,403.34 L421.02,410.50 L421.16,417.26 L421.30,423.58 L421.44,429.40 L421.58,434.71 L421.73,439.46 L421.87,443.62 L422.01,447.18 L422.15,450.11 L422.29,452.39 L422.43,454.02 L422.57,454.98 L422.71,455.29 L422.85,454.93 L423.00,453.92 L423.14,452.27 L423.28,449.98 L423.42,447.09 L423.56,443.62 L423.70,439.58 L423.84,435.01 L423.98,429.95 L424.13,424.42 L424.27,418.46 L424.41,412.12 L424.55,405.43 L424.69,398.44 L424.83,391.19 L424.97,383.73 L425.11,376.10 L425.26,368.35 L425.40,360.52 L425.54,352.67 L425.68,344.83 L425.82,337.06 L425.96,329.39 L426.10,321.87 L426.24,314.55 L426.39,307.45 L426.53,300.63 L426.67,294.10 L426.81,287.92 L426.95,282.11 L427.09,276.70 L427.23,271.71 L427.37,267.17 L427.52,263.11 L427.66,259.53 L427.80,256.45 L427.94,253.89 L428.08,251.86 L428.22,250.36 L428.36,249.39 L428.50,248.96 L428.65,249.06 L428.79,249.69 L428.93,250.84 L429.07,252.51 L429.21,254.67 L429.35,257.32 L429.49,260.43 L429.63,263.99 L429.77,267.98 L429.92,272.37 L430.06,277.14 L430.20,282.26 L430.34,287.70 L430.48,293.44 L430.62,299.45 L430.76,305.69 L430.90,312.13 L431.05,318.75 L431.19,325.50 L431.33,332.36 L431.47,339.29 L431.61,346.26 L431.75,353.24 L431.89,360.20 L432.03,367.10 L432.18,373.92 L432.32,380.62 L432.46,387.17 L432.60,393.56 L432.74,399.74 L432.88,405.70 L433.02,411.41 L433.16,416.85 L433.31,421.99 L433.45,426.82 L433.59,431.32 L433.73,435.48 L433.87,439.27 L434.01,442.68 L434.15,445.70 L434.29,448.33 L434.44,450.56 L434.58,452.37 L434.72,453.77 L434.86,454.75 L435.00,455.32 L435.14,455.46 L435.28,455.20 L435.42,454.52 L435.57,453.43 L435.71,451.95 L435.85,450.08 L435.99,447.83 L436.13,445.22 L436.27,442.25 L436.41,438.94 L436.55,435.30 L436.69,431.35 L436.84,427.12 L436.98,422.60 L437.12,417.83 L437.26,412.83 L437.40,407.60 L437.54,402.18 L437.68,396.59 L437.82,390.84 L437.97,384.96 L438.11,378.96 L438.25,372.88 L438.39,366.73 L438.53,360.54 L438.67,354.32 L438.81,348.09 L438.95,341.89 L439.10,335.73 L439.24,329.62 L439.38,323.59 L439.52,317.67 L439.66,311.86 L439.80,306.18 L439.94,300.66 L440.08,295.31 L440.23,290.15 L440.37,285.18 L440.51,280.43 L440.65,275.91 L440.79,271.62 L440.93,267.59 L441.07,263.83 L441.21,260.33 L441.36,257.11 L441.50,254.19 L441.64,251.55 L441.78,249.22 L441.92,247.19 L442.06,245.47 L442.20,244.06 L442.34,242.96 L442.49,242.18 L442.63,241.71 L442.77,241.55 L442.91,241.70 L443.05,242.15 L443.19,242.91 L443.33,243.96 L443.47,245.31 L443.62,246.95 L443.76,248.86 L443.90,251.04 L444.04,253.49 L444.18,256.19 L444.32,259.14 L444.46,262.32 L444.60,265.72 L444.74,269.34 L444.89,273.16 L445.03,277.17 L445.17,281.35 L445.31,285.70 L445.45,290.20 L445.59,294.84 L445.73,299.61 L445.87,304.49 L446.02,309.47 L446.16,314.53 L446.30,319.67 L446.44,324.86 L446.58,330.10 L446.72,335.37 L446.86,340.65 L447.00,345.94 L447.15,351.23 L447.29,356.49 L447.43,361.72 L447.57,366.90 L447.71,372.02 L447.85,377.07 L447.99,382.05 L448.13,386.93 L448.28,391.70 L448.42,396.36 L448.56,400.90 L448.70,405.31 L448.84,409.57 L448.98,413.69 L449.12,417.64 L449.26,421.43 L449.41,425.05 L449.55,428.48 L449.69,431.73 L449.83,434.79 L449.97,437.65 L450.11,440.31 L450.25,442.76 L450.39,445.01 L450.54,447.04 L450.68,448.86 L450.82,450.46 L450.96,451.84 L451.10,453.00 L451.24,453.94 L451.38,454.65 L451.52,455.15 L451.66,455.43 L451.81,455.49 L451.95,455.34 L452.09,454.97 L452.23,454.38 L452.37,453.59 L452.51,452.59 L452.65,451.39 L452.79,449.99 L452.94,448.39 L453.08,446.61 L453.22,444.64 L453.36,442.49 L453.50,440.17 L453.64,437.68 L453.78,435.02 L453.92,432.21 L454.07,429.26 L454.21,426.15 L454.35,422.92 L454.49,419.55 L454.63,416.06 L454.77,412.46 L454.91,408.75 L455.05,404.94 L455.20,401.03 L455.34,397.04 L455.48,392.98 L455.62,388.84 L455.76,384.65 L455.90,380.40 L456.04,376.10 L456.18,371.76 L456.33,367.39 L456.47,363.00 L456.61,358.60 L456.75,354.18 L456.89,349.76 L457.03,345.35 L457.17,340.95 L457.31,336.57 L457.46,332.22 L457.60,327.90 L457.74,323.62 L457.88,319.39 L458.02,315.21 L458.16,311.09 L458.30,307.04 L458.44,303.05 L458.58,299.14 L458.73,295.32 L458.87,291.57 L459.01,287.92 L459.15,284.37 L459.29,280.92 L459.43,277.57 L459.57,274.33 L459.71,271.20 L459.86,268.19 L460.00,265.30 L460.14,262.54 L460.28,259.90 L460.42,257.38 L460.56,255.00 L460.70,252.75 L460.84,250.64 L460.99,248.66 L461.13,246.83 L461.27,245.13 L461.41,243.57 L461.55,242.16 L461.69,240.89 L461.83,239.76 L461.97,238.78 L462.12,237.94 L462.26,237.25 L462.40,236.69 L462.54,236.28 L462.68,236.02 L462.82,235.89 L462.96,235.91 L463.10,236.06 L463.25,236.35 L463.39,236.78 L463.53,237.34 L463.67,238.04 L463.81,238.86 L463.95,239.82 L464.09,240.90 L464.23,242.10 L464.38,243.43 L464.52,244.87 L464.66,246.43 L464.80,248.11 L464.94,249.89 L465.08,251.78 L465.22,253.78 L465.36,255.87 L465.50,258.07 L465.65,260.35 L465.79,262.73 L465.93,265.20 L466.07,267.74 L466.21,270.37 L466.35,273.08 L466.49,275.86 L466.63,278.70 L466.78,281.61 L466.92,284.59 L467.06,287.62 L467.20,290.70 L467.34,293.84 L467.48,297.02 L467.62,300.24 L467.76,303.50 L467.91,306.80 L468.05,310.13 L468.19,313.48 L468.33,316.86 L468.47,320.26 L468.61,323.67 L468.75,327.10 L468.89,330.54 L469.04,333.98 L469.18,337.42 L469.32,340.87 L469.46,344.30 L469.60,347.73 L469.74,351.15 L469.88,354.55 L470.02,357.93 L470.17,361.29 L470.31,364.63 L470.45,367.94 L470.59,371.22 L470.73,374.47 L470.87,377.68 L471.01,380.85 L471.15,383.99 L471.30,387.07 L471.44,390.11 L471.58,393.11 L471.72,396.05 L471.86,398.94 L472.00,401.77 L472.14,404.55 L472.28,407.26 L472.43,409.92 L472.57,412.51 L472.71,415.03 L472.85,417.49 L472.99,419.89 L473.13,422.21 L473.27,424.46 L473.41,426.64 L473.55,428.74 L473.70,430.77 L473.84,432.73 L473.98,434.60 L474.12,436.40 L474.26,438.13 L474.40,439.77 L474.54,441.33 L474.68,442.81 L474.83,444.21 L474.97,445.53 L475.11,446.77 L475.25,447.92 L475.39,448.99 L475.53,449.98 L475.67,450.89 L475.81,451.72 L475.96,452.46 L476.10,453.12 L476.24,453.69 L476.38,454.19 L476.52,454.60 L476.66,454.93 L476.80,455.19 L476.94,455.36 L477.09,455.45 L477.23,455.46 L477.37,455.39 L477.51,455.25 L477.65,455.03 L477.79,454.73 L477.93,454.35 L478.07,453.91 L478.22,453.38 L478.36,452.79 L478.50,452.12 L478.64,451.39 L478.78,450.58 L478.92,449.70 L479.06,448.76 L479.20,447.76 L479.35,446.68 L479.49,445.55 L479.63,444.35 L479.77,443.09 L479.91,441.77 L480.05,440.39 L480.19,438.96 L480.33,437.47 L480.47,435.93 L480.62,434.33 L480.76,432.69 L480.90,430.99 L481.04,429.25 L481.18,427.45 L481.32,425.62 L481.46,423.74 L481.60,421.82 L481.75,419.85 L481.89,417.85 L482.03,415.81 L482.17,413.74 L482.31,411.63 L482.45,409.48 L482.59,407.31 L482.73,405.10 L482.88,402.87 L483.02,400.61 L483.16,398.33 L483.30,396.02 L483.44,393.69 L483.58,391.34 L483.72,388.97 L483.86,386.58 L484.01,384.17 L484.15,381.76 L484.29,379.32 L484.43,376.88 L484.57,374.42 L484.71,371.96 L484.85,369.49 L484.99,367.01 L485.14,364.52 L485.28,362.04 L485.42,359.55 L485.56,357.06 L485.70,354.57 L485.84,352.08 L485.98,349.60 L486.12,347.12 L486.27,344.64 L486.41,342.17 L486.55,339.71 L486.69,337.26 L486.83,334.82 L486.97,332.39 L487.11,329.97 L487.25,327.57 L487.39,325.18 L487.54,322.80 L487.68,320.44 L487.82,318.10 L487.96,315.78 L488.10,313.48 L488.24,311.19 L488.38,308.93 L488.52,306.69 L488.67,304.48 L488.81,302.28 L488.95,300.12 L489.09,297.97 L489.23,295.86 L489.37,293.77 L489.51,291.71 L489.65,289.67 L489.80,287.67 L489.94,285.69 L490.08,283.75 L490.22,281.83 L490.36,279.95 L490.50,278.10 L490.64,276.28 L490.78,274.49 L490.93,272.74 L491.07,271.02 L491.21,269.33 L491.35,267.68 L491.49,266.07 L491.63,264.49 L491.77,262.94 L491.91,261.43 L492.06,259.96 L492.20,258.53 L492.34,257.13 L492.48,255.77 L492.62,254.44 L492.76,253.16 L492.90,251.91 L493.04,250.70 L493.19,249.52 L493.33,248.39 L493.47,247.29 L493.61,246.23 L493.75,245.22 L493.89,244.23 L494.03,243.29 L494.17,242.39 L494.31,241.52 L494.46,240.70 L494.60,239.91 L494.74,239.16 L494.88,238.45 L495.02,237.77 L495.16,237.14 L495.30,236.54 L495.44,235.98 L495.59,235.46 L495.73,234.98 L495.87,234.54 L496.01,234.13 L496.15,233.76 L496.29,233.43 L496.43,233.13 L496.57,232.87 L496.72,232.65 L496.86,232.46 L497.00,232.31 L497.14,232.19 L497.28,232.11 L497.42,232.07 L497.56,232.06 L497.70,232.08 L497.85,232.14 L497.99,232.24 L498.13,232.36 L498.27,232.52 L498.41,232.72 L498.55,232.94 L498.69,233.20 L498.83,233.49 L498.98,233.81 L499.12,234.16 L499.26,234.55 L499.40,234.96 L499.54,235.40 L499.68,235.88 L499.82,236.38 L499.96,236.91 L500.11,237.47 L500.25,238.06 L500.39,238.68 L500.53,239.32 L500.67,239.99 L500.81,240.69 L500.95,241.41 L501.09,242.16 L501.24,242.93 L501.38,243.73 L501.52,244.55 L501.66,245.39 L501.80,246.26 L501.94,247.16 L502.08,248.07 L502.22,249.01 L502.36,249.96 L502.51,250.94 L502.65,251.94 L502.79,252.96 L502.93,254.00 L503.07,255.06 L503.21,256.14 L503.35,257.24 L503.49,258.35 L503.64,259.48 L503.78,260.63 L503.92,261.80 L504.06,262.98 L504.20,264.18 L504.34,265.39 L504.48,266.62 L504.62,267.86 L504.77,269.12 L504.91,270.39 L505.05,271.67 L505.19,272.97 L505.33,274.28 L505.47,275.60 L505.61,276.93 L505.75,278.27 L505.90,279.63 L506.04,280.99 L506.18,282.36 L506.32,283.75 L506.46,285.14 L506.60,286.54 L506.74,287.95 L506.88,289.37 L507.03,290.79 L507.17,292.22 L507.31,293.66 L507.45,295.11 L507.59,296.56 L507.73,298.02 L507.87,299.48 L508.01,300.94 L508.16,302.41 L508.30,303.89 L508.44,305.37 L508.58,306.85 L508.72,308.33 L508.86,309.82 L509.00,311.31 L509.14,312.80 L509.28,314.30 L509.43,315.79 L509.57,317.29 L509.71,318.79 L509.85,320.28 L509.99,321.78 L510.13,323.28 L510.27,324.78 L510.41,326.27 L510.56,327.77 L510.70,329.26 L510.84,330.75 L510.98,332.24 L511.12,333.73 L511.26,335.22 L511.40,336.70 L511.54,338.18 L511.69,339.65 L511.83,341.13 L511.97,342.60 L512.11,344.06 L512.25,345.52 L512.39,346.98 L512.53,348.43 L512.67,349.88 L512.82,351.32 L512.96,352.75 L513.10,354.18 L513.24,355.61 L513.38,357.03 L513.52,358.44 L513.66,359.85 L513.80,361.25 L513.95,362.64 L514.09,364.02 L514.23,365.40 L514.37,366.77 L514.51,368.14 L514.65,369.49 L514.79,370.84 L514.93,372.18 L515.08,373.51 L515.22,374.84 L515.36,376.15 L515.50,377.46 L515.64,378.75 L515.78,380.04 L515.92,381.32 L516.06,382.59 L516.20,383.85 L516.35,385.11 L516.49,386.35 L516.63,387.58 L516.77,388.80 L516.91,390.02 L517.05,391.22 L517.19,392.41 L517.33,393.59 L517.48,394.77 L517.62,395.93 L517.76,397.08 L517.90,398.22 L518.04,399.35 L518.18,400.47 L518.32,401.58 L518.46,402.67 L518.61,403.76 L518.75,404.84 L518.89,405.90 L519.03,406.96 L519.17,408.00 L519.31,409.03 L519.45,410.05 L519.59,411.06 L519.74,412.05 L519.88,413.04 L520.02,414.01 L520.16,414.98 L520.30,415.93 L520.44,416.87 L520.58,417.79 L520.72,418.71 L520.87,419.62 L521.01,420.51 L521.15,421.39 L521.29,422.26 L521.43,423.12 L521.57,423.96 L521.71,424.80 L521.85,425.62 L522.00,426.43 L522.14,427.23 L522.28,428.01 L522.42,428.79 L522.56,429.55 L522.70,430.30 L522.84,431.04 L522.98,431.77 L523.12,432.49 L523.27,433.19 L523.41,433.89 L523.55,434.57 L523.69,435.24 L523.83,435.89 L523.97,436.54 L524.11,437.17 L524.25,437.79 L524.40,438.41 L524.54,439.00 L524.68,439.59 L524.82,440.17 L524.96,440.73 L525.10,441.29 L525.24,441.83 L525.38,442.36 L525.53,442.88 L525.67,443.39 L525.81,443.88 L525.95,444.37 L526.09,444.84 L526.23,445.30 L526.37,445.75 L526.51,446.20 L526.66,446.62 L526.80,447.04 L526.94,447.45 L527.08,447.85 L527.22,448.23 L527.36,448.61 L527.50,448.97 L527.64,449.33 L527.79,449.67 L527.93,450.00 L528.07,450.32 L528.21,450.63 L528.35,450.94 L528.49,451.23 L528.63,451.51 L528.77,451.78 L528.92,452.04 L529.06,452.29 L529.20,452.53 L529.34,452.76 L529.48,452.98 L529.62,453.19 L529.76,453.39 L529.90,453.58 L530.05,453.76 L530.19,453.93 L530.33,454.09 L530.47,454.24 L530.61,454.38 L530.75,454.52 L530.89,454.64 L531.03,454.76 L531.17,454.86 L531.32,454.96 L531.46,455.05 L531.60,455.13 L531.74,455.20 L531.88,455.26 L532.02,455.31 L532.16,455.35 L532.30,455.39 L532.45,455.41 L532.59,455.43 L532.73,455.44 L532.87,455.44 L533.01,455.44 L533.15,455.42 L533.29,455.40 L533.43,455.37 L533.58,455.33 L533.72,455.28 L533.86,455.23 L534.00,455.16 L534.14,455.09 L534.28,455.02 L534.42,454.93 L534.56,454.84 L534.71,454.74 L534.85,454.63 L534.99,454.52 L535.13,454.39 L535.27,454.27 L535.41,454.13 L535.55,453.99 L535.69,453.84 L535.84,453.68 L535.98,453.52 L536.12,453.35 L536.26,453.17 L536.40,452.99 L536.54,452.80 L536.68,452.60 L536.82,452.40 L536.97,452.19 L537.11,451.98 L537.25,451.76 L537.39,451.53 L537.53,451.30 L537.67,451.06 L537.81,450.82 L537.95,450.57 L538.09,450.31 L538.24,450.05 L538.38,449.78 L538.52,449.51 L538.66,449.23 L538.80,448.95 L538.94,448.66 L539.08,448.37 L539.22,448.07 L539.37,447.76 L539.51,447.45 L539.65,447.14 L539.79,446.82 L539.93,446.50 L540.07,446.17 L540.21,445.84 L540.35,445.50 L540.50,445.16 L540.64,444.81 L540.78,444.46 L540.92,444.10 L541.06,443.74 L541.20,443.38 L541.34,443.01 L541.48,442.64 L541.63,442.26 L541.77,441.88 L541.91,441.50 L542.05,441.11 L542.19,440.72 L542.33,440.32 L542.47,439.92 L542.61,439.52 L542.76,439.11 L542.90,438.70 L543.04,438.28 L543.18,437.87 L543.32,437.45 L543.46,437.02 L543.60,436.60 L543.74,436.16 L543.89,435.73 L544.03,435.29 L544.17,434.85 L544.31,434.41 L544.45,433.97 L544.59,433.52 L544.73,433.07 L544.87,432.61 L545.01,432.15 L545.16,431.69 L545.30,431.23 L545.44,430.77 L545.58,430.30 L545.72,429.83 L545.86,429.36 L546.00,428.88 L546.14,428.41 L546.29,427.93 L546.43,427.45 L546.57,426.96 L546.71,426.48 L546.85,425.99 L546.99,425.50 L547.13,425.01 L547.27,424.51 L547.42,424.02 L547.56,423.52 L547.70,423.02 L547.84,422.52 L547.98,422.02 L548.12,421.51 L548.26,421.00 L548.40,420.50 L548.55,419.99 L548.69,419.48 L548.83,418.96 L548.97,418.45 L549.11,417.94 L549.25,417.42 L549.39,416.90 L549.53,416.38 L549.68,415.86 L549.82,415.34 L549.96,414.82 L550.10,414.29 L550.24,413.77 L550.38,413.24 L550.52,412.71 L550.66,412.19 L550.81,411.66 L550.95,411.13 L551.09,410.60 L551.23,410.06 L551.37,409.53 L551.51,409.00 L551.65,408.47 L551.79,407.93 L551.93,407.40 L552.08,406.86 L552.22,406.32 L552.36,405.79 L552.50,405.25 L552.64,404.71 L552.78,404.17 L552.92,403.63 L553.06,403.09 L553.21,402.55 L553.35,402.01 L553.49,401.47 L553.63,400.93 L553.77,400.39 L553.91,399.85 L554.05,399.31 L554.19,398.77 L554.34,398.22 L554.48,397.68 L554.62,397.14 L554.76,396.60 L554.90,396.05 L555.04,395.51 L555.18,394.97 L555.32,394.43 L555.47,393.88 L555.61,393.34 L555.75,392.80 L555.89,392.26 L556.03,391.72 L556.17,391.17 L556.31,390.63 L556.45,390.09 L556.60,389.55 L556.74,389.01 L556.88,388.47 L557.02,387.93 L557.16,387.39 L557.30,386.85 L557.44,386.31 L557.58,385.77 L557.73,385.23 L557.87,384.70 L558.01,384.16 L558.15,383.62 L558.29,383.08 L558.43,382.55 L558.57,382.01 L558.71,381.48 L558.86,380.94 L559.00,380.41 L559.14,379.87 L559.28,379.34 L559.42,378.81 L559.56,378.28 L559.70,377.75 L559.84,377.22 L559.98,376.69 L560.13,376.16 L560.27,375.63 L560.41,375.10 L560.55,374.58 L560.69,374.05 L560.83,373.52 L560.97,373.00 L561.11,372.48 L561.26,371.95 L561.40,371.43 L561.54,370.91 L561.68,370.39 L561.82,369.87 L561.96,369.35 L562.10,368.84 L562.24,368.32 L562.39,367.80 L562.53,367.29 L562.67,366.77 L562.81,366.26 L562.95,365.75 L563.09,365.24 L563.23,364.73 L563.37,364.22 L563.52,363.71 L563.66,363.21 L563.80,362.70 L563.94,362.19 L564.08,361.69 L564.22,361.19 L564.36,360.69 L564.50,360.19 L564.65,359.69 L564.79,359.19 L564.93,358.69 L565.07,358.19 L565.21,357.70 L565.35,357.20 L565.49,356.71 L565.63,356.22 L565.78,355.73 L565.92,355.24 L566.06,354.75 L566.20,354.27 L566.34,353.78 L566.48,353.29 L566.62,352.81 L566.76,352.33 L566.90,351.85 L567.05,351.37 L567.19,350.89 L567.33,350.41 L567.47,349.94 L567.61,349.46 L567.75,348.99 L567.89,348.52 L568.03,348.04 L568.18,347.57 L568.32,347.11 L568.46,346.64 L568.60,346.17 L568.74,345.71 L568.88,345.24 L569.02,344.78 L569.16,344.32 L569.31,343.86 L569.45,343.40 L569.59,342.95 L569.73,342.49 L569.87,342.04 L570.01,341.58 L570.15,341.13 L570.29,340.68 L570.44,340.23 L570.58,339.78 L570.72,339.34 L570.86,338.89 L571.00,338.45 L571.14,338.01 L571.28,337.57 L571.42,337.13 L571.57,336.69 L571.71,336.25 L571.85,335.82 L571.99,335.38 L572.13,334.95 L572.27,334.52 L572.41,334.09 L572.55,333.66 L572.70,333.23 L572.84,332.80 L572.98,332.38 L573.12,331.96 L573.26,331.53 L573.40,331.11 L573.54,330.69 L573.68,330.28 L573.82,329.86 L573.97,329.44 L574.11,329.03 L574.25,328.62 L574.39,328.21 L574.53,327.80 L574.67,327.39 L574.81,326.98 L574.95,326.58 L575.10,326.17 L575.24,325.77 L575.38,325.37 L575.52,324.97 L575.66,324.57 L575.80,324.17 L575.94,323.78 L576.08,323.38 L576.23,322.99 L576.37,322.60 L576.51,322.21 L576.65,321.82 L576.79,321.43 L576.93,321.05 L577.07,320.66 L577.21,320.28 L577.36,319.90 L577.50,319.51 L577.64,319.14 L577.78,318.76 L577.92,318.38 L578.06,318.01 L578.20,317.63 L578.34,317.26 L578.49,316.89 L578.63,316.52 L578.77,316.15 L578.91,315.78 L579.05,315.42 L579.19,315.05 L579.33,314.69 L579.47,314.33 L579.62,313.97 L579.76,313.61 L579.90,313.25 L580.04,312.90 L580.18,312.54 L580.32,312.19 L580.46,311.83 L580.60,311.48 L580.74,311.13 L580.89,310.79 L581.03,310.44 L581.17,310.09 L581.31,309.75 L581.45,309.41 L581.59,309.07 L581.73,308.72 L581.87,308.39 L582.02,308.05 L582.16,307.71 L582.30,307.38 L582.44,307.04 L582.58,306.71 L582.72,306.38 L582.86,306.05 L583.00,305.72 L583.15,305.39 L583.29,305.07 L583.43,304.74 L583.57,304.42 L583.71,304.10 L583.85,303.78 L583.99,303.46 L584.13,303.14 L584.28,302.82 L584.42,302.51 L584.56,302.19 L584.70,301.88 L584.84,301.57 L584.98,301.26 L585.12,300.95 L585.26,300.64 L585.41,300.33 L585.55,300.03 L585.69,299.72 L585.83,299.42 L585.97,299.12 L586.11,298.82 L586.25,298.52 L586.39,298.22 L586.54,297.92 L586.68,297.63 L586.82,297.33 L586.96,297.04 L587.10,296.75 L587.24,296.46 L587.38,296.17 L587.52,295.88 L587.67,295.59 L587.81,295.31 L587.95,295.02 L588.09,294.74 L588.23,294.46 L588.37,294.17 L588.51,293.89 L588.65,293.62 L588.79,293.34 L588.94,293.06 L589.08,292.79 L589.22,292.51 L589.36,292.24 L589.50,291.97 L589.64,291.70 L589.78,291.43 L589.92,291.16 L590.07,290.89 L590.21,290.62 L590.35,290.36 L590.49,290.09 L590.63,289.83 L590.77,289.57 L590.91,289.31 L591.05,289.05 L591.20,288.79 L591.34,288.53 L591.48,288.28 L591.62,288.02 L591.76,287.77 L591.90,287.52 L592.04,287.26 L592.18,287.01 L592.33,286.76 L592.47,286.52 L592.61,286.27 L592.75,286.02 L592.89,285.78 L593.03,285.53 L593.17,285.29 L593.31,285.05 L593.46,284.81 L593.60,284.57 L593.74,284.33 L593.88,284.09 L594.02,283.85 L594.16,283.62 L594.30,283.38 L594.44,283.15 L594.59,282.92 L594.73,282.68 L594.87,282.45 L595.01,282.22 L595.15,282.00 L595.29,281.77 L595.43,281.54 L595.57,281.32 L595.71,281.09 L595.86,280.87 L596.00,280.64 L596.14,280.42 L596.28,280.20 L596.42,279.98 L596.56,279.76 L596.70,279.55 L596.84,279.33 L596.99,279.11 L597.13,278.90 L597.27,278.68 L597.41,278.47 L597.55,278.26 L597.69,278.05 L597.83,277.84 L597.97,277.63 L598.12,277.42 L598.26,277.21 L598.40,277.01 L598.54,276.80 L598.68,276.60 L598.82,276.39 L598.96,276.19 L599.10,275.99 L599.25,275.79 L599.39,275.59 L599.53,275.39 L599.67,275.19 L599.81,274.99 L599.95,274.80 L600.09,274.60 L600.23,274.41 L600.38,274.21 L600.52,274.02 L600.66,273.83 L600.80,273.64 L600.94,273.45 L601.08,273.26 L601.22,273.07 L601.36,272.88 L601.51,272.70 L601.65,272.51 L601.79,272.32 L601.93,272.14 L602.07,271.96 L602.21,271.77 L602.35,271.59 L602.49,271.41 L602.63,271.23 L602.78,271.05 L602.92,270.87 L603.06,270.70 L603.20,270.52 L603.34,270.34 L603.48,270.17 L603.62,269.99 L603.76,269.82 L603.91,269.65 L604.05,269.48 L604.19,269.30 L604.33,269.13 L604.47,268.96 L604.61,268.80 L604.75,268.63 L604.89,268.46 L605.04,268.29 L605.18,268.13 L605.32,267.96 L605.46,267.80 L605.60,267.64 L605.74,267.47 L605.88,267.31 L606.02,267.15 L606.17,266.99 L606.31,266.83 L606.45,266.67 L606.59,266.51 L606.73,266.35 L606.87,266.20 L607.01,266.04 L607.15,265.89 L607.30,265.73 L607.44,265.58 L607.58,265.42 L607.72,265.27 L607.86,265.12 L608.00,264.97 L608.14,264.82 L608.28,264.67 L608.43,264.52 L608.57,264.37 L608.71,264.22 L608.85,264.08 L608.99,263.93 L609.13,263.78 L609.27,263.64 L609.41,263.50 L609.55,263.35 L609.70,263.21 L609.84,263.07 L609.98,262.93 L610.12,262.78 L610.26,262.64 L610.40,262.50 L610.54,262.37 L610.68,262.23 L610.83,262.09 L610.97,261.95 L611.11,261.82 L611.25,261.68 L611.39,261.55 L611.53,261.41 L611.67,261.28 L611.81,261.14 L611.96,261.01 L612.10,260.88 L612.24,260.75 L612.38,260.62 L612.52,260.49 L612.66,260.36 L612.80,260.23 L612.94,260.10 L613.09,259.97 L613.23,259.85 L613.37,259.72 L613.51,259.59 L613.65,259.47 L613.79,259.34 L613.93,259.22 L614.07,259.10 L614.22,258.97 L614.36,258.85 L614.50,258.73 L614.64,258.61 L614.78,258.49 L614.92,258.37 L615.06,258.25 L615.20,258.13 L615.35,258.01 L615.49,257.89 L615.63,257.77 L615.77,257.66 L615.91,257.54 L616.05,257.42 L616.19,257.31 L616.33,257.19 L616.48,257.08 L616.62,256.97 L616.76,256.85 L616.90,256.74 L617.04,256.63 L617.18,256.52 L617.32,256.41 L617.46,256.30 L617.60,256.19 L617.75,256.08 L617.89,255.97 L618.03,255.86 L618.17,255.75 L618.31,255.65 L618.45,255.54 L618.59,255.43 L618.73,255.33 L618.88,255.22 L619.02,255.12 L619.16,255.01 L619.30,254.91 L619.44,254.80 L619.58,254.70 L619.72,254.60 L619.86,254.50 L620.01,254.40 L620.15,254.30 L620.29,254.19 L620.43,254.09 L620.57,254.00 L620.71,253.90 L620.85,253.80 L620.99,253.70 L621.14,253.60 L621.28,253.50 L621.42,253.41 L621.56,253.31 L621.70,253.22 L621.84,253.12 L621.98,253.03 L622.12,252.93 L622.27,252.84 L622.41,252.74 L622.55,252.65 L622.69,252.56 L622.83,252.47 L622.97,252.37 L623.11,252.28 L623.25,252.19 L623.40,252.10 L623.54,252.01 L623.68,251.92 L623.82,251.83 L623.96,251.74 L624.10,251.65 L624.24,251.57 L624.38,251.48 L624.52,251.39 L624.67,251.30 L624.81,251.22 L624.95,251.13 L625.09,251.05 L625.23,250.96 L625.37,250.88 L625.51,250.79 L625.65,250.71 L625.80,250.62 L625.94,250.54 L626.08,250.46 L626.22,250.38 L626.36,250.29 L626.50,250.21 L626.64,250.13 L626.78,250.05 L626.93,249.97 L627.07,249.89 L627.21,249.81 L627.35,249.73 L627.49,249.65 L627.63,249.57 L627.77,249.49 L627.91,249.42 L628.06,249.34 L628.20,249.26 L628.34,249.19 L628.48,249.11 L628.62,249.03 L628.76,248.96 L628.90,248.88 L629.04,248.81 L629.19,248.73 L629.33,248.66 L629.47,248.58 L629.61,248.51 L629.75,248.44 L629.89,248.36 L630.03,248.29 L630.17,248.22 L630.32,248.15 L630.46,248.08 L630.60,248.00 L630.74,247.93 L630.88,247.86 L631.02,247.79 L631.16,247.72 L631.30,247.65 L631.44,247.58 L631.59,247.52 L631.73,247.45 L631.87,247.38 L632.01,247.31 L632.15,247.24 L632.29,247.18 L632.43,247.11 L632.57,247.04 L632.72,246.98 L632.86,246.91 L633.00,246.84 L633.14,246.78 L633.28,246.71 L633.42,246.65 L633.56,246.58 L633.70,246.52 L633.85,246.46 L633.99,246.39 L634.13,246.33 L634.27,246.27 L634.41,246.20 L634.55,246.14 L634.69,246.08 L634.83,246.02 L634.98,245.95 L635.12,245.89 L635.26,245.83 L635.40,245.77 L635.54,245.71 L635.68,245.65 L635.82,245.59 L635.96,245.53 L636.11,245.47 L636.25,245.41 L636.39,245.35 L636.53,245.30 L636.67,245.24 L636.81,245.18 L636.95,245.12 L637.09,245.06 L637.24,245.01 L637.38,244.95 L637.52,244.89 L637.66,244.84 L637.80,244.78 L637.94,244.73 L638.08,244.67 L638.22,244.61 L638.36,244.56 L638.51,244.50 L638.65,244.45 L638.79,244.40 L638.93,244.34 L639.07,244.29 L639.21,244.23 L639.35,244.18 L639.49,244.13 L639.64,244.08 L639.78,244.02 L639.92,243.97 L640.06,243.92 L640.20,243.87 L640.34,243.81 L640.48,243.76 L640.62,243.71 L640.77,243.66 L640.91,243.61 L641.05,243.56 L641.19,243.51 L641.33,243.46 L641.47,243.41 L641.61,243.36 L641.75,243.31 L641.90,243.26 L642.04,243.21 L642.18,243.17 L642.32,243.12 L642.46,243.07 L642.60,243.02 L642.74,242.97 L642.88,242.93 L643.03,242.88 L643.17,242.83 L643.31,242.79 L643.45,242.74 L643.59,242.69 L643.73,242.65 L643.87,242.60 L644.01,242.55 L644.16,242.51 L644.30,242.46 L644.44,242.42 L644.58,242.37 L644.72,242.33 L644.86,242.28 L645.00,242.24 L645.14,242.20 L645.29,242.15 L645.43,242.11 L645.57,242.06 L645.71,242.02 L645.85,241.98 L645.99,241.94 L646.13,241.89 L646.27,241.85 L646.41,241.81 L646.56,241.77 L646.70,241.72 L646.84,241.68 L646.98,241.64 L647.12,241.60 L647.26,241.56 L647.40,241.52 L647.54,241.48 L647.69,241.44 L647.83,241.40 L647.97,241.36 L648.11,241.32 L648.25,241.28 L648.39,241.24 L648.53,241.20 L648.67,241.16 L648.82,241.12 L648.96,241.08 L649.10,241.04 L649.24,241.00 L649.38,240.96 L649.52,240.93 L649.66,240.89 L649.80,240.85 L649.95,240.81 L650.09,240.77 L650.23,240.74 L650.37,240.70 L650.51,240.66 L650.65,240.63 L650.79,240.59 L650.93,240.55 L651.08,240.52 L651.22,240.48 L651.36,240.44 L651.50,240.41 L651.64,240.37 L651.78,240.34 L651.92,240.30 L652.06,240.27 L652.21,240.23 L652.35,240.20 L652.49,240.16 L652.63,240.13 L652.77,240.09 L652.91,240.06 L653.05,240.02 L653.19,239.99 L653.33,239.96 L653.48,239.92 L653.62,239.89 L653.76,239.86 L653.90,239.82 L654.04,239.79 L654.18,239.76 L654.32,239.72 L654.46,239.69 L654.61,239.66 L654.75,239.63 L654.89,239.59 L655.03,239.56 L655.17,239.53 L655.31,239.50 L655.45,239.47 L655.59,239.44 L655.74,239.40 L655.88,239.37 L656.02,239.34 L656.16,239.31 L656.30,239.28 L656.44,239.25 L656.58,239.22 L656.72,239.19 L656.87,239.16 L657.01,239.13 L657.15,239.10 L657.29,239.07 L657.43,239.04 L657.57,239.01 L657.71,238.98 L657.85,238.95 L658.00,238.92 L658.14,238.89 L658.28,238.86 L658.42,238.83 L658.56,238.81 L658.70,238.78 L658.84,238.75 L658.98,238.72 L659.13,238.69 L659.27,238.66 L659.41,238.64 L659.55,238.61 L659.69,238.58 L659.83,238.55 L659.97,238.53 L660.11,238.50 L660.25,238.47 L660.40,238.44 L660.54,238.42 L660.68,238.39 L660.82,238.36 L660.96,238.34 L661.10,238.31 L661.24,238.29 L661.38,238.26 L661.53,238.23 L661.67,238.21 L661.81,238.18 L661.95,238.16 L662.09,238.13 L662.23,238.10 L662.37,238.08 L662.51,238.05 L662.66,238.03 L662.80,238.00 L662.94,237.98 L663.08,237.95 L663.22,237.93 L663.36,237.90 L663.50,237.88 L663.64,237.86 L663.79,237.83 L663.93,237.81 L664.07,237.78 L664.21,237.76 L664.35,237.73 L664.49,237.71 L664.63,237.69 L664.77,237.66 L664.92,237.64 L665.06,237.62 L665.20,237.59 L665.34,237.57 L665.48,237.55 L665.62,237.52 L665.76,237.50 L665.90,237.48 L666.05,237.46 L666.19,237.43 L666.33,237.41 L666.47,237.39 L666.61,237.37 L666.75,237.34 L666.89,237.32 L667.03,237.30 L667.17,237.28 L667.32,237.26 L667.46,237.24 L667.60,237.21 L667.74,237.19 L667.88,237.17 L668.02,237.15 L668.16,237.13 L668.30,237.11 L668.45,237.09 L668.59,237.07 L668.73,237.04 L668.87,237.02 L669.01,237.00 L669.15,236.98 L669.29,236.96 L669.43,236.94 L669.58,236.92 L669.72,236.90 L669.86,236.88 L670.00,236.86 L670.14,236.84 L670.28,236.82 L670.42,236.80 L670.56,236.78 L670.71,236.76 L670.85,236.74 L670.99,236.72 L671.13,236.70 L671.27,236.68 L671.41,236.66 L671.55,236.65 L671.69,236.63 L671.84,236.61 L671.98,236.59 L672.12,236.57 L672.26,236.55 L672.40,236.53 L672.54,236.51 L672.68,236.50 L672.82,236.48 L672.97,236.46 L673.11,236.44 L673.25,236.42 L673.39,236.40 L673.53,236.39 L673.67,236.37 L673.81,236.35 L673.95,236.33 L674.10,236.32 L674.24,236.30 L674.38,236.28 L674.52,236.26 L674.66,236.25 L674.80,236.23 L674.94,236.21 L675.08,236.19 L675.22,236.18 L675.37,236.16 L675.51,236.14 L675.65,236.13 L675.79,236.11 L675.93,236.09 L676.07,236.08 L676.21,236.06 L676.35,236.04 L676.50,236.03 L676.64,236.01 L676.78,235.99 L676.92,235.98 L677.06,235.96 L677.20,235.94 L677.34,235.93 L677.48,235.91 L677.63,235.90 L677.77,235.88 L677.91,235.86 L678.05,235.85 L678.19,235.83 L678.33,235.82 L678.47,235.80 L678.61,235.79 L678.76,235.77 L678.90,235.76 L679.04,235.74 L679.18,235.73 L679.32,235.71 L679.46,235.70 L679.60,235.68 L679.74,235.67 L679.89,235.65 L680.03,235.64 L680.17,235.62 L680.31,235.61 L680.45,235.59 L680.59,235.58 L680.73,235.56 L680.87,235.55 L681.02,235.53 L681.16,235.52 L681.30,235.51 L681.44,235.49 L681.58,235.48 L681.72,235.46 L681.86,235.45 L682.00,235.43 L682.14,235.42 L682.29,235.41 L682.43,235.39 L682.57,235.38 L682.71,235.37 L682.85,235.35 L682.99,235.34 L683.13,235.33 L683.27,235.31 L683.42,235.30 L683.56,235.29 L683.70,235.27 L683.84,235.26 L683.98,235.25 L684.12,235.23 L684.26,235.22 L684.40,235.21 L684.55,235.19 L684.69,235.18 L684.83,235.17 L684.97,235.15 L685.11,235.14 L685.25,235.13 L685.39,235.12 L685.53,235.10 L685.68,235.09 L685.82,235.08 L685.96,235.07 L686.10,235.05 L686.24,235.04 L686.38,235.03 L686.52,235.02 L686.66,235.00 L686.81,234.99 L686.95,234.98 L687.09,234.97 L687.23,234.96 L687.37,234.94 L687.51,234.93 L687.65,234.92 L687.79,234.91 L687.94,234.90 L688.08,234.89 L688.22,234.87 L688.36,234.86 L688.50,234.85 L688.64,234.84 L688.78,234.83 L688.92,234.82 L689.06,234.81 L689.21,234.79 L689.35,234.78 L689.49,234.77 L689.63,234.76 L689.77,234.75 L689.91,234.74 L690.05,234.73 L690.19,234.72 L690.34,234.71 L690.48,234.69 L690.62,234.68 L690.76,234.67 L690.90,234.66 L691.04,234.65 L691.18,234.64 L691.32,234.63 L691.47,234.62 L691.61,234.61 L691.75,234.60 L691.89,234.59 L692.03,234.58 L692.17,234.57 L692.31,234.56 L692.45,234.55 L692.60,234.54 L692.74,234.53 L692.88,234.52 L693.02,234.51 L693.16,234.49 L693.30,234.48 L693.44,234.47 L693.58,234.46 L693.73,234.45 L693.87,234.45 L694.01,234.44 L694.15,234.43 L694.29,234.42 L694.43,234.41 L694.57,234.40 L694.71,234.39 L694.86,234.38 L695.00,234.37 L695.14,234.36 L695.28,234.35 L695.42,234.34 L695.56,234.33 L695.70,234.32 L695.84,234.31 L695.98,234.30 L696.13,234.29 L696.27,234.28 L696.41,234.27 L696.55,234.26 L696.69,234.26 L696.83,234.25 L696.97,234.24 L697.11,234.23 L697.26,234.22 L697.40,234.21 L697.54,234.20 L697.68,234.19 L697.82,234.18 L697.96,234.17 L698.10,234.17 L698.24,234.16 L698.39,234.15 L698.53,234.14 L698.67,234.13 L698.81,234.12 L698.95,234.11 L699.09,234.10 L699.23,234.10 L699.37,234.09 L699.52,234.08 L699.66,234.07 L699.80,234.06 L699.94,234.05 L700.08,234.05 L700.22,234.04 L700.36,234.03 L700.50,234.02 L700.65,234.01 L700.79,234.00 L700.93,234.00 L701.07,233.99 L701.21,233.98 L701.35,233.97 L701.49,233.96 L701.63,233.96 L701.78,233.95 L701.92,233.94 L702.06,233.93 L702.20,233.93 L702.34,233.92 L702.48,233.91 L702.62,233.90 L702.76,233.89 L702.91,233.89 L703.05,233.88 L703.19,233.87 L703.33,233.86 L703.47,233.86 L703.61,233.85 L703.75,233.84 L703.89,233.83 L704.03,233.83 L704.18,233.82 L704.32,233.81 L704.46,233.80 L704.60,233.80 L704.74,233.79 L704.88,233.78 L705.02,233.77 L705.16,233.77 L705.31,233.76 L705.45,233.75 L705.59,233.75 L705.73,233.74 L705.87,233.73 L706.01,233.72 L706.15,233.72 L706.29,233.71 L706.44,233.70 L706.58,233.70 L706.72,233.69 L706.86,233.68 L707.00,233.68 L707.14,233.67 L707.28,233.66 L707.42,233.66 L707.57,233.65 L707.71,233.64 L707.85,233.64 L707.99,233.63 L708.13,233.62 L708.27,233.62 L708.41,233.61 L708.55,233.60 L708.70,233.60 L708.84,233.59 L708.98,233.58 L709.12,233.58 L709.26,233.57 L709.40,233.56 L709.54,233.56 L709.68,233.55 L709.83,233.54 L709.97,233.54 L710.11,233.53 L710.25,233.52 L710.39,233.52 L710.53,233.51 L710.67,233.51 L710.81,233.50 L710.95,233.49 L711.10,233.49 L711.24,233.48 L711.38,233.48 L711.52,233.47 L711.66,233.46 L711.80,233.46 L711.94,233.45 L712.08,233.45 L712.23,233.44 L712.37,233.43 L712.51,233.43 L712.65,233.42 L712.79,233.42 L712.93,233.41 L713.07,233.40 L713.21,233.40 L713.36,233.39 L713.50,233.39 L713.64,233.38 L713.78,233.37 L713.92,233.37 L714.06,233.36 L714.20,233.36 L714.34,233.35 L714.49,233.35 L714.63,233.34 L714.77,233.34 L714.91,233.33 L715.05,233.32 L715.19,233.32 L715.33,233.31 L715.47,233.31 L715.62,233.30 L715.76,233.30 L715.90,233.29 L716.04,233.29 L716.18,233.28 L716.32,233.28 L716.46,233.27 L716.60,233.26 L716.75,233.26 L716.89,233.25 L717.03,233.25 L717.17,233.24 L717.31,233.24 L717.45,233.23 L717.59,233.23 L717.73,233.22 L717.87,233.22 L718.02,233.21 L718.16,233.21 L718.30,233.20 L718.44,233.20 L718.58,233.19 L718.72,233.19 L718.86,233.18 L719.00,233.18 L719.15,233.17 L719.29,233.17 L719.43,233.16 L719.57,233.16 L719.71,233.15 L719.85,233.15 L719.99,233.14 L720.13,233.14 L720.28,233.13 L720.42,233.13 L720.56,233.12 L720.70,233.12 L720.84,233.11 L720.98,233.11 L721.12,233.10 L721.26,233.10 L721.41,233.10 L721.55,233.09 L721.69,233.09 L721.83,233.08 L721.97,233.08 L722.11,233.07 L722.25,233.07 L722.39,233.06 L722.54,233.06 L722.68,233.05 L722.82,233.05 L722.96,233.04 L723.10,233.04 L723.24,233.04 L723.38,233.03 L723.52,233.03 L723.67,233.02 L723.81,233.02 L723.95,233.01 L724.09,233.01 L724.23,233.01 L724.37,233.00 L724.51,233.00 L724.65,232.99 L724.79,232.99 L724.94,232.98 L725.08,232.98 L725.22,232.97 L725.36,232.97 L725.50,232.97 L725.64,232.96 L725.78,232.96 L725.92,232.95 L726.07,232.95 L726.21,232.95 L726.35,232.94 L726.49,232.94 L726.63,232.93 L726.77,232.93 L726.91,232.93 L727.05,232.92 L727.20,232.92 L727.34,232.91 L727.48,232.91 L727.62,232.91 L727.76,232.90 L727.90,232.90 L728.04,232.89 L728.18,232.89 L728.33,232.89 L728.47,232.88 L728.61,232.88 L728.75,232.87 L728.89,232.87 L729.03,232.87 L729.17,232.86 L729.31,232.86 L729.46,232.85 L729.60,232.85 L729.74,232.85 L729.88,232.84 L730.02,232.84 L730.16,232.84 L730.30,232.83 L730.44,232.83 L730.59,232.82 L730.73,232.82 L730.87,232.82 L731.01,232.81 L731.15,232.81 L731.29,232.81 L731.43,232.80 L731.57,232.80 L731.72,232.80 L731.86,232.79 L732.00,232.79 L732.14,232.78 L732.28,232.78 L732.42,232.78 L732.56,232.77 L732.70,232.77 L732.84,232.77 L732.99,232.76 L733.13,232.76 L733.27,232.76 L733.41,232.75 L733.55,232.75 L733.69,232.75 L733.83,232.74 L733.97,232.74 L734.12,232.74 L734.26,232.73 L734.40,232.73 L734.54,232.73 L734.68,232.72 L734.82,232.72 L734.96,232.72 L735.10,232.71 L735.25,232.71 L735.39,232.71 L735.53,232.70 L735.67,232.70 L735.81,232.70 L735.95,232.69 L736.09,232.69 L736.23,232.69 L736.38,232.68 L736.52,232.68 L736.66,232.68 L736.80,232.67 L736.94,232.67 L737.08,232.67 L737.22,232.66 L737.36,232.66 L737.51,232.66 L737.65,232.65 L737.79,232.65 L737.93,232.65 L738.07,232.65 L738.21,232.64 L738.35,232.64 L738.49,232.64 L738.64,232.63 L738.78,232.63 L738.92,232.63 L739.06,232.62 L739.20,232.62" fill="none" stroke="#00f" stroke-width="1.75" stroke-dasharray="7.6 3.7" stroke-linejoin="round"/></g>
</svg></body></html>
